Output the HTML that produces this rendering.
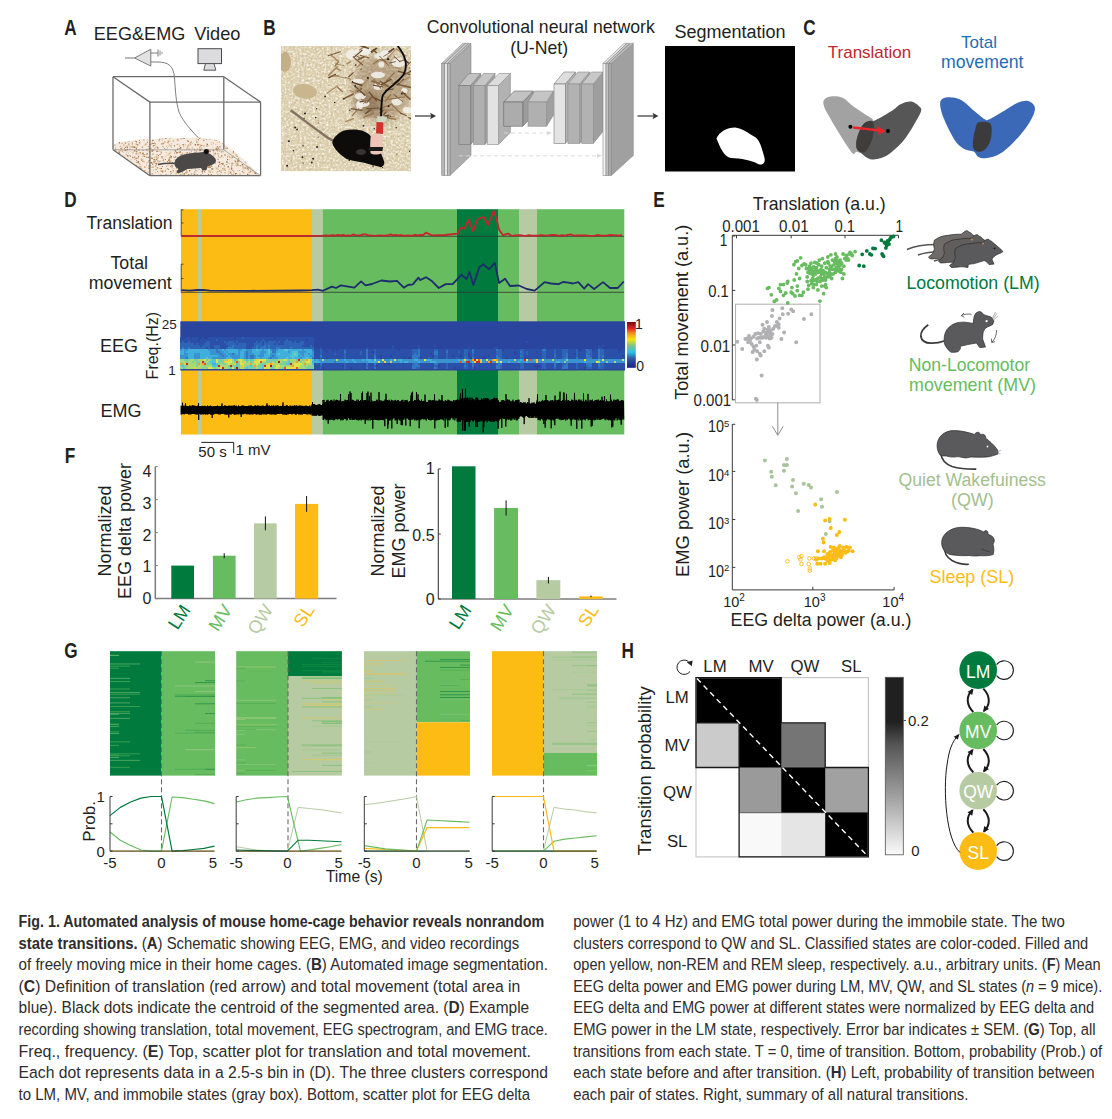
<!DOCTYPE html>
<html><head><meta charset="utf-8"><title>Fig. 1</title>
<style>
html,body{margin:0;padding:0;background:#fff;}
svg{display:block;font-family:'Liberation Sans', Arial, Helvetica, sans-serif;}
</style></head>
<body>
<svg width="1112" height="1119" viewBox="0 0 1112 1119">
<rect width="1112" height="1119" fill="#fff"/>
<text x="64.2" y="35.5" font-size="21.5" font-weight="bold" fill="#231f20" transform="translate(64.2 35.5) scale(0.8 1) translate(-64.2 -35.5)">A</text>
<text x="93.8" y="39.7" font-size="18.1" text-anchor="start" fill="#231f20" >EEG&amp;EMG</text>
<text x="194.2" y="39.7" font-size="18.2" text-anchor="start" fill="#231f20" >Video</text>
<line x1="125.0" y1="58.0" x2="134.6" y2="58.0" stroke="#777" stroke-width="1" />
<polygon points="134.6,58.0 150.8,49.2 150.8,66.1" fill="#e2e2e2" stroke="#7a7a7a" stroke-width="1"/>
<line x1="150.8" y1="53.0" x2="158.0" y2="53.0" stroke="#7a7a7a" stroke-width="1" />
<line x1="158.0" y1="49.5" x2="158.0" y2="56.5" stroke="#7a7a7a" stroke-width="1" />
<line x1="160.0" y1="50.5" x2="160.0" y2="55.5" stroke="#7a7a7a" stroke-width="0.9" />
<line x1="162.0" y1="51.8" x2="162.0" y2="54.2" stroke="#7a7a7a" stroke-width="0.8" />
<path d="M150.8,62 L157,62 C169,62 173.5,66 174.5,78 C175.5,92 176,102 179,112 C184,124 195,134 206,146" fill="none" stroke="#707070" stroke-width="0.9" />
<rect x="198.00" y="48.70" width="23.50" height="14.90" fill="#dcdcde" stroke="#4a4a4a" stroke-width="1"/>
<polygon points="205.5,63.6 214.0,63.6 215.8,70.2 203.8,70.2" fill="#dcdcde" stroke="#4a4a4a" stroke-width="0.9"/>
<clipPath id="bedclip"><path d="M113,145 C118,141.5 124,140.5 130,141.5 C138,139 146,138.5 153,139.8 C162,137.5 172,137 181,138.5 C192,136.8 204,137.5 214,139.5 C219,140.5 222,142 224,144 L236,153 L260.6,175.7 L149.9,175.7 L113,149.8 Z"/></clipPath>
<path d="M113,145 C118,141.5 124,140.5 130,141.5 C138,139 146,138.5 153,139.8 C162,137.5 172,137 181,138.5 C192,136.8 204,137.5 214,139.5 C219,140.5 222,142 224,144 L236,153 L260.6,175.7 L149.9,175.7 L113,149.8 Z" fill="#f4eadf" stroke="none" stroke-width="1" />
<g clip-path="url(#bedclip)">
<path fill="#b98a58" d="M191.2,153.8h1.1v1.1h-1.1zM174.2,156.7h1.4v1.4h-1.4zM171.3,143.4h0.9v0.9h-0.9zM167.0,161.1h0.9v0.9h-0.9zM129.4,170.9h1.4v1.4h-1.4zM220.9,155.3h1.4v1.4h-1.4zM255.3,155.3h1.1v1.1h-1.1zM250.0,170.8h1.4v1.4h-1.4zM126.6,146.8h1.4v1.4h-1.4zM123.6,173.1h1.4v1.4h-1.4zM240.1,142.2h0.9v0.9h-0.9zM233.4,141.5h0.9v0.9h-0.9zM256.3,166.2h0.9v0.9h-0.9zM190.7,164.8h1.1v1.1h-1.1zM207.6,145.4h0.9v0.9h-0.9zM150.4,148.3h1.1v1.1h-1.1zM171.3,137.1h0.9v0.9h-0.9zM178.7,152.0h1.1v1.1h-1.1zM248.8,158.8h1.1v1.1h-1.1zM240.1,148.1h1.1v1.1h-1.1zM151.8,137.2h0.9v0.9h-0.9zM229.7,172.0h1.4v1.4h-1.4zM164.9,174.5h1.4v1.4h-1.4zM194.4,165.5h1.1v1.1h-1.1zM155.5,162.7h1.1v1.1h-1.1zM207.6,166.4h1.4v1.4h-1.4zM219.0,170.2h1.4v1.4h-1.4zM194.3,152.0h1.4v1.4h-1.4zM182.7,144.0h1.4v1.4h-1.4zM117.6,157.9h1.1v1.1h-1.1zM168.9,156.8h0.9v0.9h-0.9zM227.4,140.3h1.4v1.4h-1.4zM167.3,141.5h1.4v1.4h-1.4zM210.7,164.6h1.1v1.1h-1.1zM244.1,144.9h1.4v1.4h-1.4zM162.5,142.8h1.4v1.4h-1.4zM248.1,157.9h1.4v1.4h-1.4zM228.8,155.7h0.9v0.9h-0.9zM135.9,150.8h1.4v1.4h-1.4zM168.9,160.7h1.1v1.1h-1.1zM224.5,172.2h1.1v1.1h-1.1zM200.1,136.5h1.1v1.1h-1.1zM243.6,155.2h0.9v0.9h-0.9zM129.1,165.9h1.4v1.4h-1.4zM161.9,165.9h1.1v1.1h-1.1zM136.0,160.0h0.9v0.9h-0.9zM251.3,142.8h1.1v1.1h-1.1zM186.5,151.9h1.4v1.4h-1.4zM258.5,151.9h0.9v0.9h-0.9zM228.8,143.8h1.1v1.1h-1.1zM251.6,140.6h0.9v0.9h-0.9zM215.8,149.5h1.1v1.1h-1.1zM171.6,166.6h1.1v1.1h-1.1zM162.7,160.1h1.1v1.1h-1.1zM114.8,149.0h1.4v1.4h-1.4zM170.5,151.7h0.9v0.9h-0.9zM224.3,154.3h1.4v1.4h-1.4zM158.9,138.3h1.4v1.4h-1.4zM239.2,170.2h0.9v0.9h-0.9zM151.5,157.7h1.4v1.4h-1.4zM204.1,171.3h1.1v1.1h-1.1zM258.6,147.5h0.9v0.9h-0.9zM135.4,158.1h1.1v1.1h-1.1zM198.4,144.0h0.9v0.9h-0.9zM183.5,161.2h1.4v1.4h-1.4zM120.8,148.2h1.4v1.4h-1.4zM200.4,174.7h1.4v1.4h-1.4zM258.4,160.6h1.1v1.1h-1.1zM189.7,153.4h1.4v1.4h-1.4zM234.9,161.1h1.4v1.4h-1.4zM165.1,170.4h0.9v0.9h-0.9zM188.0,140.8h1.1v1.1h-1.1zM198.7,169.0h1.1v1.1h-1.1zM216.3,148.3h1.4v1.4h-1.4zM221.0,163.1h0.9v0.9h-0.9zM237.4,162.2h1.1v1.1h-1.1zM185.5,157.1h0.9v0.9h-0.9zM127.2,155.1h1.4v1.4h-1.4zM236.5,155.9h1.1v1.1h-1.1zM189.1,161.8h0.9v0.9h-0.9zM141.0,168.3h1.1v1.1h-1.1zM259.5,136.9h0.9v0.9h-0.9zM130.6,146.3h1.1v1.1h-1.1zM117.9,161.5h1.4v1.4h-1.4zM218.0,165.4h1.1v1.1h-1.1zM169.1,162.1h1.1v1.1h-1.1zM223.4,141.5h1.1v1.1h-1.1zM169.3,162.4h1.4v1.4h-1.4zM137.0,144.0h1.4v1.4h-1.4zM125.7,160.2h1.4v1.4h-1.4zM229.2,139.7h1.1v1.1h-1.1zM261.0,151.0h1.1v1.1h-1.1zM209.3,138.3h1.1v1.1h-1.1zM187.0,145.9h0.9v0.9h-0.9zM192.1,136.4h0.9v0.9h-0.9zM179.9,174.2h1.4v1.4h-1.4zM139.0,140.1h0.9v0.9h-0.9zM231.1,168.7h1.1v1.1h-1.1zM162.3,156.2h0.9v0.9h-0.9zM171.0,163.1h0.9v0.9h-0.9zM150.3,144.0h1.1v1.1h-1.1zM223.6,139.0h1.4v1.4h-1.4zM194.5,156.1h1.4v1.4h-1.4zM133.2,170.9h1.1v1.1h-1.1zM146.2,154.2h0.9v0.9h-0.9zM163.6,175.9h0.9v0.9h-0.9zM246.0,154.0h1.1v1.1h-1.1zM223.1,139.0h1.4v1.4h-1.4zM148.1,161.5h0.9v0.9h-0.9zM256.0,162.4h1.4v1.4h-1.4zM203.8,152.9h1.4v1.4h-1.4zM119.6,138.7h0.9v0.9h-0.9zM115.1,162.1h0.9v0.9h-0.9zM257.7,163.8h1.4v1.4h-1.4zM190.8,164.8h1.1v1.1h-1.1zM153.3,149.8h0.9v0.9h-0.9zM126.4,164.2h1.4v1.4h-1.4zM247.6,169.1h1.1v1.1h-1.1zM115.0,170.6h0.9v0.9h-0.9zM234.8,148.3h0.9v0.9h-0.9zM174.5,150.0h1.1v1.1h-1.1zM253.5,150.9h1.1v1.1h-1.1zM214.5,162.8h1.1v1.1h-1.1zM162.4,146.1h1.1v1.1h-1.1zM180.4,137.8h1.4v1.4h-1.4zM212.8,142.6h0.9v0.9h-0.9zM248.7,172.1h0.9v0.9h-0.9zM237.6,139.1h1.4v1.4h-1.4zM247.5,149.0h1.4v1.4h-1.4zM141.7,146.4h1.4v1.4h-1.4zM140.1,166.2h1.4v1.4h-1.4zM260.6,153.8h1.4v1.4h-1.4zM216.0,139.4h1.1v1.1h-1.1zM127.0,139.6h1.4v1.4h-1.4zM187.9,173.9h1.4v1.4h-1.4zM219.3,163.7h1.1v1.1h-1.1zM132.4,168.5h1.1v1.1h-1.1zM208.5,166.8h1.1v1.1h-1.1zM247.9,151.1h0.9v0.9h-0.9zM115.0,147.6h0.9v0.9h-0.9zM171.7,165.2h1.1v1.1h-1.1zM116.4,168.2h1.4v1.4h-1.4zM126.6,145.6h0.9v0.9h-0.9zM200.4,159.3h1.1v1.1h-1.1zM226.4,147.5h1.4v1.4h-1.4zM206.7,162.6h0.9v0.9h-0.9zM133.5,175.6h1.4v1.4h-1.4zM209.2,166.0h1.1v1.1h-1.1zM165.9,175.8h1.4v1.4h-1.4zM133.7,146.8h1.1v1.1h-1.1zM189.3,152.3h0.9v0.9h-0.9zM249.7,153.7h0.9v0.9h-0.9zM151.5,142.7h1.4v1.4h-1.4zM190.1,144.6h0.9v0.9h-0.9zM120.9,157.0h1.1v1.1h-1.1zM191.3,168.2h1.1v1.1h-1.1zM149.7,173.7h0.9v0.9h-0.9zM245.1,150.7h1.4v1.4h-1.4zM168.9,144.5h0.9v0.9h-0.9zM152.6,153.5h1.1v1.1h-1.1zM239.5,138.7h1.4v1.4h-1.4zM198.9,137.7h1.4v1.4h-1.4zM196.6,163.2h1.1v1.1h-1.1zM169.9,155.2h0.9v0.9h-0.9zM160.8,170.6h1.1v1.1h-1.1zM160.6,175.9h1.1v1.1h-1.1zM223.5,167.8h0.9v0.9h-0.9zM139.0,162.9h0.9v0.9h-0.9zM123.9,148.2h1.1v1.1h-1.1zM253.2,152.2h0.9v0.9h-0.9zM190.7,160.1h1.4v1.4h-1.4zM136.1,148.9h0.9v0.9h-0.9zM130.1,173.7h1.4v1.4h-1.4zM196.9,160.6h0.9v0.9h-0.9zM114.8,170.0h1.4v1.4h-1.4zM158.0,155.1h1.1v1.1h-1.1zM239.8,165.1h1.1v1.1h-1.1zM240.1,175.4h1.1v1.1h-1.1zM252.3,169.9h1.4v1.4h-1.4zM231.1,141.6h1.1v1.1h-1.1zM136.3,162.1h0.9v0.9h-0.9zM214.7,152.8h1.4v1.4h-1.4zM260.9,158.0h0.9v0.9h-0.9zM161.1,143.2h1.4v1.4h-1.4zM187.6,164.6h0.9v0.9h-0.9zM131.8,143.3h1.1v1.1h-1.1zM220.8,151.3h1.1v1.1h-1.1zM149.9,174.5h1.4v1.4h-1.4zM210.6,174.1h1.4v1.4h-1.4zM171.6,162.9h1.1v1.1h-1.1zM154.4,160.6h1.4v1.4h-1.4zM235.0,142.7h1.1v1.1h-1.1zM139.8,171.3h1.1v1.1h-1.1zM242.3,146.2h0.9v0.9h-0.9zM234.3,137.5h1.1v1.1h-1.1zM129.4,148.6h1.1v1.1h-1.1zM208.4,149.9h1.1v1.1h-1.1zM221.8,163.3h0.9v0.9h-0.9zM204.4,169.2h1.4v1.4h-1.4zM193.9,173.6h1.4v1.4h-1.4zM132.1,156.8h1.4v1.4h-1.4zM144.1,166.4h1.1v1.1h-1.1zM147.7,171.8h0.9v0.9h-0.9zM145.3,143.4h1.4v1.4h-1.4zM181.9,137.5h0.9v0.9h-0.9zM194.5,164.0h0.9v0.9h-0.9zM206.0,139.2h0.9v0.9h-0.9zM142.4,155.9h0.9v0.9h-0.9zM176.7,144.1h0.9v0.9h-0.9zM118.7,160.6h0.9v0.9h-0.9zM186.9,140.3h1.1v1.1h-1.1zM163.2,158.9h0.9v0.9h-0.9zM183.5,160.4h1.4v1.4h-1.4zM118.3,164.3h1.4v1.4h-1.4zM191.6,147.5h1.1v1.1h-1.1zM158.6,140.2h1.1v1.1h-1.1zM211.5,161.6h0.9v0.9h-0.9zM252.2,149.3h1.1v1.1h-1.1zM155.4,146.9h0.9v0.9h-0.9zM188.5,148.5h0.9v0.9h-0.9zM121.6,143.0h0.9v0.9h-0.9zM157.5,160.1h0.9v0.9h-0.9zM180.5,156.0h1.4v1.4h-1.4zM156.8,167.2h1.4v1.4h-1.4zM182.9,165.9h1.4v1.4h-1.4zM138.9,142.1h1.4v1.4h-1.4zM120.5,158.4h1.4v1.4h-1.4zM194.1,148.8h0.9v0.9h-0.9zM224.4,175.9h1.1v1.1h-1.1zM118.1,172.3h0.9v0.9h-0.9zM195.5,159.5h1.4v1.4h-1.4zM218.0,147.8h1.1v1.1h-1.1zM120.3,148.0h1.1v1.1h-1.1zM186.1,170.3h1.1v1.1h-1.1zM173.0,156.4h0.9v0.9h-0.9zM154.0,142.4h0.9v0.9h-0.9zM215.5,147.8h1.4v1.4h-1.4zM164.2,148.1h0.9v0.9h-0.9zM259.2,172.1h0.9v0.9h-0.9zM124.8,142.4h1.4v1.4h-1.4zM230.6,172.8h0.9v0.9h-0.9zM170.2,156.8h1.4v1.4h-1.4zM189.3,157.8h0.9v0.9h-0.9zM134.0,164.5h1.4v1.4h-1.4zM200.0,164.7h1.1v1.1h-1.1zM236.0,173.0h0.9v0.9h-0.9zM132.0,146.0h1.4v1.4h-1.4zM135.9,157.7h1.4v1.4h-1.4zM188.3,144.5h0.9v0.9h-0.9zM209.4,149.4h0.9v0.9h-0.9zM164.7,170.3h1.1v1.1h-1.1zM151.8,162.7h1.1v1.1h-1.1zM234.5,160.3h1.1v1.1h-1.1zM195.5,157.2h1.4v1.4h-1.4zM203.4,167.4h1.4v1.4h-1.4zM222.5,151.2h1.1v1.1h-1.1zM202.2,171.6h0.9v0.9h-0.9zM144.5,172.5h0.9v0.9h-0.9zM157.0,171.1h0.9v0.9h-0.9zM134.4,175.5h1.1v1.1h-1.1zM127.8,169.0h1.1v1.1h-1.1zM118.1,172.5h1.4v1.4h-1.4zM185.6,168.1h0.9v0.9h-0.9zM217.1,150.4h1.1v1.1h-1.1zM216.3,172.4h0.9v0.9h-0.9zM215.8,168.3h0.9v0.9h-0.9z"/>
<path fill="#d2aa7a" d="M209.5,171.6h1.4v1.4h-1.4zM250.3,158.2h0.9v0.9h-0.9zM121.5,147.0h0.9v0.9h-0.9zM206.9,164.9h1.1v1.1h-1.1zM160.0,174.3h0.9v0.9h-0.9zM253.9,172.3h1.4v1.4h-1.4zM205.5,164.8h1.1v1.1h-1.1zM130.4,170.5h1.4v1.4h-1.4zM200.0,144.4h1.4v1.4h-1.4zM241.4,157.1h1.1v1.1h-1.1zM127.8,152.6h0.9v0.9h-0.9zM148.6,151.2h1.4v1.4h-1.4zM226.7,142.3h0.9v0.9h-0.9zM247.9,169.4h0.9v0.9h-0.9zM144.2,170.1h1.4v1.4h-1.4zM242.6,168.2h1.1v1.1h-1.1zM179.7,168.9h1.1v1.1h-1.1zM218.8,141.3h1.1v1.1h-1.1zM221.3,170.2h0.9v0.9h-0.9zM137.4,157.3h1.4v1.4h-1.4zM123.1,137.1h0.9v0.9h-0.9zM243.1,171.9h1.4v1.4h-1.4zM222.4,156.7h0.9v0.9h-0.9zM249.6,167.6h0.9v0.9h-0.9zM158.6,150.8h0.9v0.9h-0.9zM231.1,173.8h1.4v1.4h-1.4zM214.4,139.3h1.4v1.4h-1.4zM225.3,147.8h0.9v0.9h-0.9zM232.7,152.1h1.4v1.4h-1.4zM213.0,175.1h1.1v1.1h-1.1zM123.2,144.2h1.1v1.1h-1.1zM153.3,158.4h1.1v1.1h-1.1zM176.7,175.7h0.9v0.9h-0.9zM259.5,167.2h1.1v1.1h-1.1zM229.1,159.4h0.9v0.9h-0.9zM181.4,159.2h1.1v1.1h-1.1zM132.2,152.5h1.1v1.1h-1.1zM250.7,143.7h1.1v1.1h-1.1zM225.5,139.2h0.9v0.9h-0.9zM244.0,158.4h1.4v1.4h-1.4zM235.4,150.8h1.4v1.4h-1.4zM138.3,173.2h1.4v1.4h-1.4zM119.3,170.3h1.1v1.1h-1.1zM181.9,154.0h1.1v1.1h-1.1zM155.3,163.1h0.9v0.9h-0.9zM115.9,172.1h1.1v1.1h-1.1zM146.2,172.4h0.9v0.9h-0.9zM181.6,153.4h1.1v1.1h-1.1zM250.5,151.7h1.4v1.4h-1.4zM240.2,152.0h1.4v1.4h-1.4zM169.0,152.8h1.4v1.4h-1.4zM243.6,140.1h1.1v1.1h-1.1zM192.3,157.5h0.9v0.9h-0.9zM156.5,156.0h0.9v0.9h-0.9zM122.8,152.2h0.9v0.9h-0.9zM254.4,149.5h0.9v0.9h-0.9zM175.9,159.0h1.4v1.4h-1.4zM235.3,154.2h1.4v1.4h-1.4zM124.5,139.6h0.9v0.9h-0.9zM222.2,143.2h1.1v1.1h-1.1zM151.4,166.7h1.4v1.4h-1.4zM145.5,156.3h1.1v1.1h-1.1zM151.5,173.0h1.4v1.4h-1.4zM205.9,163.7h1.1v1.1h-1.1zM133.0,137.4h1.4v1.4h-1.4zM136.5,146.3h0.9v0.9h-0.9zM257.7,137.0h0.9v0.9h-0.9zM144.4,144.4h1.1v1.1h-1.1zM116.7,173.1h1.1v1.1h-1.1zM217.3,173.9h1.1v1.1h-1.1zM116.5,142.1h0.9v0.9h-0.9zM217.5,161.6h0.9v0.9h-0.9zM122.9,144.4h1.1v1.1h-1.1zM182.2,171.7h0.9v0.9h-0.9zM115.3,174.3h0.9v0.9h-0.9zM217.1,170.9h1.4v1.4h-1.4zM196.0,155.7h1.1v1.1h-1.1zM143.5,161.1h1.1v1.1h-1.1zM177.2,143.8h1.1v1.1h-1.1zM146.1,148.8h1.4v1.4h-1.4zM160.3,136.2h1.4v1.4h-1.4zM137.1,144.8h0.9v0.9h-0.9zM247.9,150.5h0.9v0.9h-0.9zM250.7,139.8h1.1v1.1h-1.1zM130.6,167.5h1.1v1.1h-1.1zM257.7,160.3h1.4v1.4h-1.4zM166.1,165.8h1.1v1.1h-1.1zM131.4,163.4h1.4v1.4h-1.4zM252.5,141.8h0.9v0.9h-0.9zM232.3,164.7h0.9v0.9h-0.9zM162.1,171.9h1.1v1.1h-1.1zM141.5,136.9h1.4v1.4h-1.4zM206.7,136.4h1.4v1.4h-1.4zM119.5,150.4h0.9v0.9h-0.9zM139.2,175.7h1.4v1.4h-1.4zM139.6,170.7h1.1v1.1h-1.1zM161.2,174.9h1.1v1.1h-1.1zM205.8,161.2h1.4v1.4h-1.4zM180.5,167.1h0.9v0.9h-0.9zM134.4,146.7h1.4v1.4h-1.4zM142.2,152.6h1.4v1.4h-1.4zM154.2,156.4h1.4v1.4h-1.4zM177.0,170.1h1.1v1.1h-1.1zM186.9,172.0h0.9v0.9h-0.9zM136.9,174.6h1.1v1.1h-1.1zM170.3,144.9h0.9v0.9h-0.9zM182.2,151.9h0.9v0.9h-0.9zM140.1,136.9h0.9v0.9h-0.9zM228.5,169.3h0.9v0.9h-0.9zM217.4,169.0h1.1v1.1h-1.1zM213.4,153.8h1.1v1.1h-1.1zM194.4,163.9h1.1v1.1h-1.1zM126.8,146.0h1.1v1.1h-1.1zM238.6,148.0h0.9v0.9h-0.9zM210.0,171.3h0.9v0.9h-0.9zM115.6,173.0h1.1v1.1h-1.1zM117.0,164.1h1.4v1.4h-1.4zM203.5,167.4h0.9v0.9h-0.9zM234.7,144.9h0.9v0.9h-0.9zM143.1,153.8h1.1v1.1h-1.1zM146.1,164.4h1.1v1.1h-1.1zM185.7,152.6h1.1v1.1h-1.1zM182.8,168.9h0.9v0.9h-0.9zM197.0,148.3h1.1v1.1h-1.1zM161.7,139.5h0.9v0.9h-0.9zM238.2,159.8h0.9v0.9h-0.9zM156.5,146.6h1.4v1.4h-1.4zM143.2,139.2h1.4v1.4h-1.4zM249.5,170.5h0.9v0.9h-0.9zM199.3,136.3h1.1v1.1h-1.1zM233.3,162.9h0.9v0.9h-0.9zM157.9,156.8h0.9v0.9h-0.9zM219.4,163.7h1.1v1.1h-1.1zM232.7,137.5h1.1v1.1h-1.1zM192.7,173.4h1.1v1.1h-1.1zM131.1,175.0h0.9v0.9h-0.9zM202.6,160.7h0.9v0.9h-0.9zM230.9,167.1h0.9v0.9h-0.9zM243.8,150.8h1.4v1.4h-1.4zM230.4,153.4h0.9v0.9h-0.9zM189.8,142.1h1.4v1.4h-1.4zM124.6,174.9h1.4v1.4h-1.4zM144.3,166.4h1.4v1.4h-1.4zM227.6,143.2h0.9v0.9h-0.9zM237.6,144.9h1.4v1.4h-1.4zM185.4,172.8h1.1v1.1h-1.1zM256.0,161.9h0.9v0.9h-0.9zM211.7,157.3h1.4v1.4h-1.4zM204.3,160.1h1.4v1.4h-1.4zM242.8,159.1h0.9v0.9h-0.9zM171.1,172.8h1.1v1.1h-1.1zM164.1,141.3h1.4v1.4h-1.4zM203.9,152.6h1.4v1.4h-1.4zM165.6,155.5h0.9v0.9h-0.9zM131.8,165.5h1.1v1.1h-1.1zM148.4,160.3h1.1v1.1h-1.1zM176.6,138.8h0.9v0.9h-0.9zM257.0,141.0h1.4v1.4h-1.4zM236.4,154.4h1.1v1.1h-1.1zM236.3,164.9h1.4v1.4h-1.4zM259.0,167.8h0.9v0.9h-0.9zM138.0,167.1h1.1v1.1h-1.1zM238.2,157.6h1.1v1.1h-1.1zM227.9,173.5h1.1v1.1h-1.1zM117.4,170.5h1.1v1.1h-1.1zM114.6,144.8h1.1v1.1h-1.1zM154.2,148.1h0.9v0.9h-0.9zM255.3,160.8h1.1v1.1h-1.1zM200.3,174.3h1.1v1.1h-1.1zM224.0,168.6h1.4v1.4h-1.4zM190.8,155.9h0.9v0.9h-0.9zM225.8,163.9h1.1v1.1h-1.1zM188.6,148.9h1.4v1.4h-1.4zM185.5,162.2h1.1v1.1h-1.1zM253.0,160.9h0.9v0.9h-0.9zM234.7,145.1h1.4v1.4h-1.4zM160.4,150.7h1.1v1.1h-1.1zM167.4,154.3h0.9v0.9h-0.9zM118.3,166.7h0.9v0.9h-0.9zM167.5,164.6h0.9v0.9h-0.9zM222.0,168.1h1.4v1.4h-1.4zM217.2,153.1h1.4v1.4h-1.4zM236.8,146.3h1.4v1.4h-1.4zM194.9,168.5h0.9v0.9h-0.9zM217.4,158.7h1.4v1.4h-1.4zM199.2,136.7h1.4v1.4h-1.4zM207.3,150.3h1.1v1.1h-1.1zM153.7,144.8h1.4v1.4h-1.4zM149.1,166.2h1.4v1.4h-1.4zM257.2,149.1h0.9v0.9h-0.9zM119.7,145.7h1.4v1.4h-1.4zM234.6,136.4h1.1v1.1h-1.1zM255.5,143.0h0.9v0.9h-0.9zM224.8,170.0h1.1v1.1h-1.1zM201.6,144.9h1.1v1.1h-1.1zM174.6,159.1h0.9v0.9h-0.9zM152.3,139.4h0.9v0.9h-0.9zM126.3,151.6h0.9v0.9h-0.9zM219.1,150.7h1.1v1.1h-1.1zM255.6,148.2h1.1v1.1h-1.1zM220.4,166.8h0.9v0.9h-0.9zM155.5,159.1h1.1v1.1h-1.1zM131.8,142.2h1.1v1.1h-1.1zM169.8,160.5h1.4v1.4h-1.4zM178.4,173.3h0.9v0.9h-0.9zM194.8,168.7h1.1v1.1h-1.1zM199.0,147.0h1.4v1.4h-1.4zM210.9,136.3h1.4v1.4h-1.4zM154.8,172.0h0.9v0.9h-0.9zM190.5,156.9h1.1v1.1h-1.1zM195.7,139.5h1.1v1.1h-1.1zM175.0,155.8h1.4v1.4h-1.4zM182.3,166.2h0.9v0.9h-0.9zM153.4,162.1h1.4v1.4h-1.4zM237.7,158.2h1.4v1.4h-1.4zM218.9,149.3h0.9v0.9h-0.9zM255.7,174.5h1.4v1.4h-1.4zM212.8,168.4h0.9v0.9h-0.9zM124.2,156.9h0.9v0.9h-0.9zM208.3,170.3h1.4v1.4h-1.4zM248.9,136.1h1.4v1.4h-1.4zM217.8,174.9h1.1v1.1h-1.1zM139.1,163.7h1.4v1.4h-1.4zM143.6,154.0h1.4v1.4h-1.4zM128.5,164.9h0.9v0.9h-0.9zM256.1,146.0h1.4v1.4h-1.4zM126.3,159.0h1.4v1.4h-1.4zM134.5,159.1h0.9v0.9h-0.9zM135.7,143.6h1.4v1.4h-1.4zM151.3,150.1h1.1v1.1h-1.1zM197.2,170.4h0.9v0.9h-0.9zM241.0,138.8h1.1v1.1h-1.1zM136.1,153.5h0.9v0.9h-0.9zM142.9,154.0h1.4v1.4h-1.4zM149.0,136.0h1.1v1.1h-1.1zM251.4,157.1h1.4v1.4h-1.4zM172.8,140.4h1.4v1.4h-1.4zM209.3,152.6h0.9v0.9h-0.9zM165.8,152.2h1.1v1.1h-1.1zM130.2,170.2h1.4v1.4h-1.4zM181.6,174.1h1.1v1.1h-1.1zM131.8,167.9h1.1v1.1h-1.1zM182.1,144.2h0.9v0.9h-0.9zM168.8,159.1h1.1v1.1h-1.1zM238.8,139.9h1.4v1.4h-1.4zM140.6,158.4h1.4v1.4h-1.4zM260.2,155.2h0.9v0.9h-0.9zM233.0,155.6h0.9v0.9h-0.9zM226.7,163.8h0.9v0.9h-0.9zM170.3,145.2h1.4v1.4h-1.4zM159.7,163.7h1.4v1.4h-1.4zM171.0,146.9h0.9v0.9h-0.9zM156.1,156.9h1.4v1.4h-1.4zM208.7,162.3h0.9v0.9h-0.9zM223.3,145.3h1.4v1.4h-1.4zM237.8,164.6h1.4v1.4h-1.4zM121.8,150.5h1.4v1.4h-1.4zM239.4,174.1h1.1v1.1h-1.1zM216.0,138.1h0.9v0.9h-0.9z"/>
<path fill="#a37446" d="M197.4,161.3h1.1v1.1h-1.1zM247.0,173.7h1.4v1.4h-1.4zM241.0,148.8h0.9v0.9h-0.9zM259.6,138.6h0.9v0.9h-0.9zM209.7,166.8h1.1v1.1h-1.1zM113.9,157.0h1.4v1.4h-1.4zM135.0,140.8h0.9v0.9h-0.9zM200.3,154.2h1.1v1.1h-1.1zM250.7,147.3h1.1v1.1h-1.1zM254.8,172.6h1.4v1.4h-1.4zM177.3,157.1h0.9v0.9h-0.9zM186.6,147.6h1.1v1.1h-1.1zM170.2,166.1h0.9v0.9h-0.9zM124.6,149.5h1.4v1.4h-1.4zM179.5,151.3h1.4v1.4h-1.4zM152.8,166.5h0.9v0.9h-0.9zM155.0,165.2h1.4v1.4h-1.4zM128.3,143.5h1.1v1.1h-1.1zM147.9,146.2h0.9v0.9h-0.9zM202.1,170.8h1.1v1.1h-1.1zM148.9,165.1h1.4v1.4h-1.4zM155.6,169.0h1.1v1.1h-1.1zM246.6,153.3h1.1v1.1h-1.1zM179.4,148.1h1.1v1.1h-1.1zM232.9,150.9h1.1v1.1h-1.1zM137.6,161.0h1.4v1.4h-1.4zM206.6,143.7h1.4v1.4h-1.4zM220.0,174.6h1.1v1.1h-1.1zM224.7,149.9h0.9v0.9h-0.9zM135.8,165.1h1.1v1.1h-1.1zM197.2,144.1h1.4v1.4h-1.4zM186.1,163.5h1.1v1.1h-1.1zM142.7,150.0h0.9v0.9h-0.9zM194.1,149.6h1.1v1.1h-1.1zM241.8,170.9h1.1v1.1h-1.1zM137.3,161.7h1.4v1.4h-1.4zM176.1,172.7h0.9v0.9h-0.9zM249.1,149.3h0.9v0.9h-0.9zM227.5,166.0h1.4v1.4h-1.4zM196.6,174.5h1.4v1.4h-1.4zM196.2,150.5h0.9v0.9h-0.9zM125.7,149.6h0.9v0.9h-0.9zM126.7,148.9h1.4v1.4h-1.4zM200.9,170.7h0.9v0.9h-0.9zM219.4,146.3h1.1v1.1h-1.1zM201.1,144.9h0.9v0.9h-0.9zM181.9,172.4h0.9v0.9h-0.9zM138.8,166.3h0.9v0.9h-0.9zM152.3,149.2h1.1v1.1h-1.1zM118.7,142.0h1.4v1.4h-1.4zM145.1,136.8h1.4v1.4h-1.4zM131.5,174.7h1.4v1.4h-1.4zM222.8,163.2h1.1v1.1h-1.1zM138.1,155.8h1.1v1.1h-1.1zM253.6,144.8h0.9v0.9h-0.9zM136.7,173.4h1.4v1.4h-1.4zM177.1,148.6h1.4v1.4h-1.4zM211.7,169.1h0.9v0.9h-0.9zM231.4,162.8h1.4v1.4h-1.4zM173.9,145.3h1.1v1.1h-1.1zM220.4,175.8h0.9v0.9h-0.9zM259.7,167.5h1.4v1.4h-1.4zM203.5,145.5h0.9v0.9h-0.9zM148.1,156.8h1.1v1.1h-1.1zM134.0,150.1h1.4v1.4h-1.4zM146.4,153.2h1.4v1.4h-1.4zM146.3,149.7h1.1v1.1h-1.1zM185.6,172.0h0.9v0.9h-0.9zM178.2,170.9h0.9v0.9h-0.9zM141.4,159.5h1.4v1.4h-1.4zM142.1,153.2h1.1v1.1h-1.1zM240.0,137.8h0.9v0.9h-0.9zM119.1,137.2h1.1v1.1h-1.1zM230.9,167.8h1.4v1.4h-1.4zM156.3,154.2h1.1v1.1h-1.1zM231.8,156.6h1.1v1.1h-1.1zM172.4,174.9h1.4v1.4h-1.4zM255.9,165.3h0.9v0.9h-0.9zM207.1,155.9h1.4v1.4h-1.4zM259.8,171.4h0.9v0.9h-0.9zM174.1,152.4h1.1v1.1h-1.1zM142.3,160.7h1.1v1.1h-1.1zM170.5,155.9h1.4v1.4h-1.4zM172.6,170.2h1.1v1.1h-1.1zM239.4,137.4h1.1v1.1h-1.1zM146.5,156.8h1.1v1.1h-1.1zM207.0,156.4h1.4v1.4h-1.4zM190.7,173.5h1.1v1.1h-1.1zM121.0,169.1h1.4v1.4h-1.4zM236.9,163.9h0.9v0.9h-0.9zM246.4,166.5h1.1v1.1h-1.1zM202.1,172.7h0.9v0.9h-0.9zM133.6,146.5h1.4v1.4h-1.4zM244.5,145.0h0.9v0.9h-0.9zM123.2,138.0h0.9v0.9h-0.9zM183.2,137.6h1.4v1.4h-1.4zM248.2,175.6h0.9v0.9h-0.9zM260.7,172.3h1.1v1.1h-1.1zM199.0,149.5h1.4v1.4h-1.4zM138.5,149.7h1.1v1.1h-1.1zM210.4,161.1h0.9v0.9h-0.9zM245.1,146.7h0.9v0.9h-0.9zM168.1,159.5h1.4v1.4h-1.4zM170.1,174.4h0.9v0.9h-0.9zM248.2,167.2h1.4v1.4h-1.4zM196.3,141.6h1.1v1.1h-1.1zM209.9,150.7h1.1v1.1h-1.1zM181.1,154.2h1.1v1.1h-1.1zM250.6,164.7h1.4v1.4h-1.4zM241.9,138.9h0.9v0.9h-0.9zM233.0,174.4h1.1v1.1h-1.1zM152.8,145.3h1.1v1.1h-1.1zM211.4,166.0h0.9v0.9h-0.9zM125.6,171.3h1.4v1.4h-1.4zM226.1,161.3h1.4v1.4h-1.4zM202.6,153.3h1.1v1.1h-1.1zM152.7,140.1h0.9v0.9h-0.9zM121.2,166.6h1.4v1.4h-1.4zM200.1,149.8h1.1v1.1h-1.1zM238.2,149.4h1.1v1.1h-1.1zM142.8,173.4h1.1v1.1h-1.1zM176.6,172.1h0.9v0.9h-0.9zM165.5,149.0h1.1v1.1h-1.1zM188.9,170.0h1.4v1.4h-1.4zM118.2,168.7h1.4v1.4h-1.4zM135.8,147.8h1.1v1.1h-1.1zM257.5,160.6h1.4v1.4h-1.4zM119.1,173.9h1.4v1.4h-1.4zM161.9,170.4h1.4v1.4h-1.4zM239.1,147.7h0.9v0.9h-0.9zM151.2,157.5h1.1v1.1h-1.1zM178.5,167.0h1.4v1.4h-1.4zM166.8,168.3h0.9v0.9h-0.9zM237.4,151.1h1.1v1.1h-1.1zM130.8,167.9h1.1v1.1h-1.1zM148.7,148.0h1.4v1.4h-1.4zM261.0,146.1h0.9v0.9h-0.9zM139.5,152.2h1.4v1.4h-1.4zM177.1,152.2h0.9v0.9h-0.9zM125.7,154.3h0.9v0.9h-0.9zM203.2,158.6h0.9v0.9h-0.9zM180.4,154.6h1.1v1.1h-1.1zM183.5,167.7h1.1v1.1h-1.1zM187.3,164.2h1.4v1.4h-1.4zM190.8,141.6h0.9v0.9h-0.9zM209.5,154.6h1.4v1.4h-1.4zM244.4,167.3h1.4v1.4h-1.4zM195.9,153.7h1.1v1.1h-1.1zM152.2,164.0h0.9v0.9h-0.9zM203.8,161.2h0.9v0.9h-0.9zM164.9,159.1h0.9v0.9h-0.9zM134.2,156.6h1.1v1.1h-1.1zM126.1,160.4h1.1v1.1h-1.1zM232.3,170.2h0.9v0.9h-0.9zM211.4,168.1h1.4v1.4h-1.4zM234.9,173.0h1.4v1.4h-1.4zM206.3,145.4h1.1v1.1h-1.1zM183.1,136.6h1.4v1.4h-1.4zM180.8,165.7h1.4v1.4h-1.4zM212.3,157.4h1.4v1.4h-1.4zM246.4,152.2h0.9v0.9h-0.9zM257.2,147.2h0.9v0.9h-0.9zM152.3,138.2h1.4v1.4h-1.4zM153.5,158.9h1.4v1.4h-1.4zM128.6,164.9h1.1v1.1h-1.1zM203.1,139.7h1.1v1.1h-1.1zM148.2,156.7h1.1v1.1h-1.1zM168.2,140.8h0.9v0.9h-0.9zM248.0,145.4h1.1v1.1h-1.1zM166.0,174.7h1.1v1.1h-1.1zM257.8,147.5h0.9v0.9h-0.9zM118.8,153.5h1.4v1.4h-1.4zM194.7,144.1h1.4v1.4h-1.4zM228.5,162.7h0.9v0.9h-0.9zM218.1,155.6h0.9v0.9h-0.9zM249.0,136.8h0.9v0.9h-0.9zM237.0,160.4h1.4v1.4h-1.4zM237.7,159.8h0.9v0.9h-0.9zM170.3,170.9h1.1v1.1h-1.1zM127.2,171.8h0.9v0.9h-0.9zM148.7,149.3h0.9v0.9h-0.9zM150.6,162.0h1.4v1.4h-1.4zM127.2,155.6h0.9v0.9h-0.9zM157.0,147.2h1.4v1.4h-1.4zM159.6,154.1h0.9v0.9h-0.9zM218.0,165.6h1.1v1.1h-1.1zM159.6,136.0h0.9v0.9h-0.9zM187.6,145.4h0.9v0.9h-0.9zM199.9,160.8h1.1v1.1h-1.1zM165.2,138.0h1.1v1.1h-1.1zM156.4,150.7h1.4v1.4h-1.4zM260.6,146.9h1.1v1.1h-1.1zM244.9,161.1h1.4v1.4h-1.4zM171.4,165.1h0.9v0.9h-0.9zM258.1,175.1h0.9v0.9h-0.9zM113.2,168.9h1.4v1.4h-1.4zM143.8,155.9h1.1v1.1h-1.1zM168.1,168.8h0.9v0.9h-0.9zM246.6,167.3h1.4v1.4h-1.4zM208.7,151.1h0.9v0.9h-0.9zM152.7,174.8h0.9v0.9h-0.9zM160.9,167.9h1.1v1.1h-1.1zM220.6,171.7h1.1v1.1h-1.1zM166.9,147.4h0.9v0.9h-0.9zM159.6,167.9h0.9v0.9h-0.9zM151.6,150.4h1.4v1.4h-1.4zM122.8,139.1h0.9v0.9h-0.9zM154.6,143.0h0.9v0.9h-0.9zM223.7,165.3h1.1v1.1h-1.1zM249.8,153.8h1.4v1.4h-1.4zM148.4,167.6h1.4v1.4h-1.4zM168.9,158.3h0.9v0.9h-0.9zM223.4,139.1h1.1v1.1h-1.1zM227.0,159.1h1.1v1.1h-1.1zM176.1,167.4h1.1v1.1h-1.1zM153.2,161.2h0.9v0.9h-0.9zM136.6,174.9h0.9v0.9h-0.9zM200.0,148.9h1.4v1.4h-1.4zM194.3,171.5h0.9v0.9h-0.9zM216.8,146.2h1.4v1.4h-1.4zM195.4,170.2h1.1v1.1h-1.1zM156.7,158.3h0.9v0.9h-0.9zM254.0,144.3h0.9v0.9h-0.9zM155.8,163.1h1.4v1.4h-1.4zM176.2,152.1h1.4v1.4h-1.4zM114.6,168.3h0.9v0.9h-0.9zM135.7,153.1h1.1v1.1h-1.1zM133.4,165.2h1.1v1.1h-1.1zM160.7,152.3h1.1v1.1h-1.1zM118.4,151.6h1.4v1.4h-1.4zM231.1,165.5h1.1v1.1h-1.1zM148.7,160.0h1.1v1.1h-1.1zM142.6,152.7h1.1v1.1h-1.1zM190.9,151.4h0.9v0.9h-0.9zM177.4,139.6h1.1v1.1h-1.1zM212.7,149.8h1.4v1.4h-1.4zM200.7,166.2h0.9v0.9h-0.9zM241.7,164.1h1.4v1.4h-1.4zM146.9,141.7h1.1v1.1h-1.1zM152.9,175.1h1.4v1.4h-1.4zM257.2,153.2h0.9v0.9h-0.9zM260.1,161.4h1.4v1.4h-1.4zM202.8,175.3h1.4v1.4h-1.4zM161.1,156.4h1.4v1.4h-1.4zM201.4,148.3h0.9v0.9h-0.9zM248.7,153.1h1.4v1.4h-1.4zM158.5,161.3h0.9v0.9h-0.9zM258.3,158.3h1.1v1.1h-1.1zM202.7,169.2h0.9v0.9h-0.9zM120.1,160.6h1.4v1.4h-1.4zM221.9,163.3h1.4v1.4h-1.4zM136.0,141.3h1.1v1.1h-1.1zM200.2,155.2h1.4v1.4h-1.4zM202.7,163.8h0.9v0.9h-0.9zM217.2,149.4h0.9v0.9h-0.9zM137.3,168.1h1.1v1.1h-1.1zM253.5,157.2h1.4v1.4h-1.4zM174.9,150.4h1.4v1.4h-1.4zM207.7,149.4h1.1v1.1h-1.1zM259.6,163.4h1.1v1.1h-1.1zM183.6,173.3h1.4v1.4h-1.4zM238.5,160.3h1.1v1.1h-1.1zM122.8,169.6h1.1v1.1h-1.1zM121.6,138.4h0.9v0.9h-0.9zM188.4,156.1h1.4v1.4h-1.4zM152.0,140.3h0.9v0.9h-0.9zM129.8,155.6h1.1v1.1h-1.1zM124.8,146.8h1.1v1.1h-1.1zM128.4,140.3h1.4v1.4h-1.4zM139.5,167.8h1.1v1.1h-1.1zM252.0,164.2h0.9v0.9h-0.9zM172.0,162.1h1.4v1.4h-1.4zM121.0,137.8h1.4v1.4h-1.4zM242.5,166.4h1.1v1.1h-1.1zM159.6,160.8h0.9v0.9h-0.9zM187.1,156.0h1.1v1.1h-1.1zM227.0,156.5h1.1v1.1h-1.1zM198.5,155.4h1.4v1.4h-1.4zM145.1,174.3h1.1v1.1h-1.1zM218.7,161.6h1.4v1.4h-1.4zM233.0,138.3h0.9v0.9h-0.9zM169.8,137.6h0.9v0.9h-0.9zM197.8,139.3h1.1v1.1h-1.1zM148.4,165.5h1.1v1.1h-1.1zM237.9,140.8h0.9v0.9h-0.9zM156.2,159.2h0.9v0.9h-0.9zM257.8,162.8h0.9v0.9h-0.9zM244.4,136.7h1.1v1.1h-1.1zM131.4,169.2h0.9v0.9h-0.9zM179.5,157.9h0.9v0.9h-0.9zM236.5,163.0h0.9v0.9h-0.9zM154.6,175.0h1.4v1.4h-1.4zM253.5,142.4h1.1v1.1h-1.1zM152.8,142.9h1.1v1.1h-1.1zM207.9,173.9h1.1v1.1h-1.1zM199.7,145.4h1.1v1.1h-1.1zM180.0,147.1h1.4v1.4h-1.4zM113.5,143.5h1.1v1.1h-1.1zM141.3,175.1h0.9v0.9h-0.9z"/>
<path fill="#e0c4a0" d="M202.9,165.4h1.1v1.1h-1.1zM213.2,151.5h1.1v1.1h-1.1zM123.4,155.2h1.1v1.1h-1.1zM253.1,152.3h1.4v1.4h-1.4zM256.0,169.3h1.1v1.1h-1.1zM129.7,150.7h1.1v1.1h-1.1zM231.4,157.8h1.1v1.1h-1.1zM234.5,143.5h1.1v1.1h-1.1zM230.6,156.6h1.4v1.4h-1.4zM242.7,139.1h0.9v0.9h-0.9zM228.4,170.9h1.4v1.4h-1.4zM177.4,159.5h1.1v1.1h-1.1zM127.3,141.4h0.9v0.9h-0.9zM259.9,172.0h1.1v1.1h-1.1zM113.5,139.9h1.1v1.1h-1.1zM258.1,153.3h1.4v1.4h-1.4zM215.3,143.9h1.1v1.1h-1.1zM203.1,164.9h0.9v0.9h-0.9zM136.4,173.9h1.4v1.4h-1.4zM250.4,162.3h0.9v0.9h-0.9zM233.3,172.2h1.1v1.1h-1.1zM128.0,145.0h1.1v1.1h-1.1zM191.6,143.0h1.1v1.1h-1.1zM252.9,175.1h1.1v1.1h-1.1zM172.3,168.4h1.1v1.1h-1.1zM257.0,136.8h1.4v1.4h-1.4zM138.4,162.9h1.4v1.4h-1.4zM227.4,154.6h1.1v1.1h-1.1zM168.0,174.5h0.9v0.9h-0.9zM237.0,151.0h1.1v1.1h-1.1zM137.3,153.1h1.4v1.4h-1.4zM117.7,166.4h1.4v1.4h-1.4zM242.0,146.8h0.9v0.9h-0.9zM120.2,150.5h1.1v1.1h-1.1zM139.9,167.0h0.9v0.9h-0.9zM127.8,171.7h0.9v0.9h-0.9zM209.7,136.7h1.1v1.1h-1.1zM239.3,173.3h1.4v1.4h-1.4zM235.3,152.3h0.9v0.9h-0.9zM129.1,145.8h1.4v1.4h-1.4zM167.2,174.7h1.4v1.4h-1.4zM203.7,140.3h1.1v1.1h-1.1zM229.0,156.8h1.4v1.4h-1.4zM187.1,171.3h0.9v0.9h-0.9zM168.2,145.7h1.1v1.1h-1.1zM161.9,143.8h1.1v1.1h-1.1zM168.5,164.7h1.1v1.1h-1.1zM256.7,159.4h1.1v1.1h-1.1zM135.6,166.0h1.4v1.4h-1.4zM117.1,158.8h0.9v0.9h-0.9zM135.1,174.1h1.4v1.4h-1.4zM126.2,138.0h1.4v1.4h-1.4zM250.5,141.2h0.9v0.9h-0.9zM179.9,148.9h0.9v0.9h-0.9zM244.2,166.6h1.1v1.1h-1.1zM160.2,169.6h0.9v0.9h-0.9zM156.1,154.4h1.1v1.1h-1.1zM177.1,153.2h0.9v0.9h-0.9zM132.3,151.6h1.4v1.4h-1.4zM172.4,137.0h1.1v1.1h-1.1zM211.0,156.1h1.1v1.1h-1.1zM235.6,142.6h1.4v1.4h-1.4zM188.3,146.3h1.1v1.1h-1.1zM160.2,174.2h1.4v1.4h-1.4zM155.6,161.5h0.9v0.9h-0.9zM122.1,172.3h1.1v1.1h-1.1zM183.8,149.6h1.1v1.1h-1.1zM252.7,140.6h1.4v1.4h-1.4zM175.5,169.9h1.4v1.4h-1.4zM155.3,169.5h1.1v1.1h-1.1zM189.7,154.1h1.1v1.1h-1.1zM127.1,171.9h1.1v1.1h-1.1zM186.0,152.0h1.1v1.1h-1.1zM175.2,173.8h1.1v1.1h-1.1zM116.5,141.9h0.9v0.9h-0.9zM243.8,175.4h1.4v1.4h-1.4zM190.8,144.2h0.9v0.9h-0.9zM169.0,138.6h0.9v0.9h-0.9zM160.9,175.7h1.1v1.1h-1.1zM237.3,169.9h1.1v1.1h-1.1zM131.7,140.5h1.1v1.1h-1.1zM151.8,153.8h1.4v1.4h-1.4zM130.6,174.7h1.1v1.1h-1.1zM124.9,168.7h0.9v0.9h-0.9zM119.5,138.8h0.9v0.9h-0.9zM161.4,157.3h1.1v1.1h-1.1zM201.9,170.0h0.9v0.9h-0.9zM137.5,175.8h1.4v1.4h-1.4zM241.9,171.8h0.9v0.9h-0.9zM194.3,150.2h1.4v1.4h-1.4zM115.7,149.3h1.1v1.1h-1.1zM149.1,143.9h1.4v1.4h-1.4zM202.4,149.9h0.9v0.9h-0.9zM133.2,171.1h1.4v1.4h-1.4zM196.4,161.8h0.9v0.9h-0.9zM168.0,153.5h1.4v1.4h-1.4zM192.4,175.1h0.9v0.9h-0.9zM203.4,162.1h1.4v1.4h-1.4zM128.8,154.7h1.1v1.1h-1.1zM127.7,167.7h1.4v1.4h-1.4zM142.6,158.8h0.9v0.9h-0.9zM120.3,149.3h1.4v1.4h-1.4zM247.0,159.9h1.1v1.1h-1.1zM236.3,148.7h0.9v0.9h-0.9zM235.1,147.9h1.4v1.4h-1.4zM210.7,169.7h1.1v1.1h-1.1zM167.7,142.3h1.4v1.4h-1.4zM157.1,160.9h1.1v1.1h-1.1zM172.3,139.8h0.9v0.9h-0.9zM255.3,145.7h1.1v1.1h-1.1zM215.4,166.8h1.1v1.1h-1.1zM116.0,138.5h0.9v0.9h-0.9zM207.4,136.6h1.4v1.4h-1.4zM257.4,171.4h1.1v1.1h-1.1zM183.0,153.5h0.9v0.9h-0.9zM235.8,163.7h1.1v1.1h-1.1zM149.1,157.4h1.1v1.1h-1.1zM225.2,147.3h1.1v1.1h-1.1zM213.6,154.7h1.1v1.1h-1.1zM251.7,142.2h1.1v1.1h-1.1zM179.1,144.7h1.4v1.4h-1.4zM214.4,154.2h0.9v0.9h-0.9zM130.5,159.1h1.1v1.1h-1.1zM146.5,161.9h1.4v1.4h-1.4zM235.3,154.0h1.1v1.1h-1.1zM217.1,167.3h1.4v1.4h-1.4zM158.0,162.8h0.9v0.9h-0.9zM191.7,147.5h1.1v1.1h-1.1zM233.5,156.7h1.4v1.4h-1.4zM256.9,160.2h1.4v1.4h-1.4zM251.6,156.9h1.4v1.4h-1.4zM161.5,166.6h0.9v0.9h-0.9zM137.7,152.5h0.9v0.9h-0.9zM219.1,140.0h1.4v1.4h-1.4zM115.1,174.0h1.1v1.1h-1.1zM190.7,150.2h1.1v1.1h-1.1zM128.9,144.1h1.1v1.1h-1.1zM198.4,155.7h1.1v1.1h-1.1zM258.1,155.4h1.4v1.4h-1.4zM257.9,161.5h1.1v1.1h-1.1zM250.9,159.9h0.9v0.9h-0.9zM240.5,138.1h1.1v1.1h-1.1zM242.9,165.1h0.9v0.9h-0.9zM250.0,151.4h0.9v0.9h-0.9zM191.0,164.9h1.1v1.1h-1.1zM250.3,175.6h0.9v0.9h-0.9zM239.8,139.1h1.1v1.1h-1.1zM212.0,147.3h0.9v0.9h-0.9zM161.8,137.9h1.4v1.4h-1.4zM186.3,149.3h0.9v0.9h-0.9zM247.7,142.8h1.4v1.4h-1.4zM214.2,157.9h1.4v1.4h-1.4zM177.5,171.5h1.1v1.1h-1.1zM196.1,158.4h0.9v0.9h-0.9zM175.4,173.1h1.4v1.4h-1.4zM243.6,169.9h1.1v1.1h-1.1zM180.9,159.6h0.9v0.9h-0.9zM132.3,145.7h1.1v1.1h-1.1zM203.5,150.1h1.4v1.4h-1.4zM219.9,156.9h1.1v1.1h-1.1zM254.8,165.2h1.1v1.1h-1.1zM212.2,156.5h1.4v1.4h-1.4zM141.9,159.9h1.4v1.4h-1.4zM133.6,150.4h0.9v0.9h-0.9zM194.1,153.0h0.9v0.9h-0.9zM241.8,143.0h1.4v1.4h-1.4zM205.3,151.0h1.4v1.4h-1.4zM249.0,174.0h0.9v0.9h-0.9zM250.3,168.6h1.4v1.4h-1.4zM229.0,168.5h0.9v0.9h-0.9zM240.6,143.4h0.9v0.9h-0.9zM210.6,142.5h1.1v1.1h-1.1zM196.7,137.0h1.4v1.4h-1.4zM137.6,149.1h1.1v1.1h-1.1zM176.6,172.5h0.9v0.9h-0.9zM148.5,150.2h0.9v0.9h-0.9zM140.6,153.6h1.1v1.1h-1.1zM200.1,154.8h1.1v1.1h-1.1zM235.8,149.3h1.1v1.1h-1.1zM120.3,168.5h1.4v1.4h-1.4zM245.6,162.0h1.4v1.4h-1.4zM260.8,145.4h1.4v1.4h-1.4zM218.7,156.7h1.4v1.4h-1.4zM165.9,145.4h1.4v1.4h-1.4zM246.2,166.5h1.4v1.4h-1.4zM134.9,165.5h0.9v0.9h-0.9zM234.1,171.9h0.9v0.9h-0.9zM200.9,146.8h0.9v0.9h-0.9zM230.7,147.2h0.9v0.9h-0.9zM158.2,172.6h0.9v0.9h-0.9zM240.8,175.9h1.4v1.4h-1.4zM125.9,172.4h1.1v1.1h-1.1zM155.0,144.2h1.4v1.4h-1.4zM200.0,145.6h1.1v1.1h-1.1zM230.1,170.4h1.4v1.4h-1.4zM126.2,136.6h1.4v1.4h-1.4zM113.7,142.6h1.4v1.4h-1.4zM211.3,144.1h1.1v1.1h-1.1zM202.3,163.1h0.9v0.9h-0.9zM173.5,171.8h0.9v0.9h-0.9zM159.9,169.8h1.4v1.4h-1.4zM206.2,169.0h0.9v0.9h-0.9zM123.2,145.0h1.1v1.1h-1.1zM223.2,169.5h1.4v1.4h-1.4zM260.9,165.4h1.1v1.1h-1.1zM184.6,144.2h1.4v1.4h-1.4zM169.3,140.6h1.4v1.4h-1.4zM192.9,165.6h0.9v0.9h-0.9zM255.8,160.0h1.4v1.4h-1.4zM213.4,155.0h1.4v1.4h-1.4zM124.4,157.8h1.4v1.4h-1.4zM216.7,142.0h1.1v1.1h-1.1zM198.2,140.4h0.9v0.9h-0.9zM114.9,146.9h1.1v1.1h-1.1zM126.7,166.2h0.9v0.9h-0.9zM212.1,171.5h1.4v1.4h-1.4zM170.5,160.3h1.1v1.1h-1.1zM235.2,164.5h0.9v0.9h-0.9zM206.3,143.1h0.9v0.9h-0.9zM243.1,144.5h0.9v0.9h-0.9zM199.0,169.1h0.9v0.9h-0.9zM246.7,139.8h1.4v1.4h-1.4zM161.8,157.6h1.4v1.4h-1.4zM237.4,146.5h0.9v0.9h-0.9zM113.3,145.4h1.1v1.1h-1.1zM173.6,168.0h0.9v0.9h-0.9zM132.2,172.8h0.9v0.9h-0.9zM232.5,163.3h0.9v0.9h-0.9zM164.3,157.4h0.9v0.9h-0.9zM199.1,150.4h1.1v1.1h-1.1zM181.8,152.5h0.9v0.9h-0.9zM254.9,150.9h1.4v1.4h-1.4zM169.6,137.9h1.1v1.1h-1.1zM184.2,153.4h1.1v1.1h-1.1zM249.1,149.6h0.9v0.9h-0.9zM179.0,145.7h1.4v1.4h-1.4zM248.9,174.8h1.4v1.4h-1.4zM149.5,151.8h1.1v1.1h-1.1zM182.9,173.4h1.4v1.4h-1.4zM161.1,153.4h0.9v0.9h-0.9zM259.2,155.9h1.1v1.1h-1.1zM224.4,142.4h1.4v1.4h-1.4zM121.0,140.7h1.1v1.1h-1.1zM146.7,139.2h1.1v1.1h-1.1zM228.4,167.2h1.1v1.1h-1.1zM176.5,170.1h1.1v1.1h-1.1zM152.7,169.8h1.1v1.1h-1.1zM188.8,143.5h1.4v1.4h-1.4zM134.9,153.2h1.1v1.1h-1.1zM222.9,162.4h1.1v1.1h-1.1zM115.6,167.5h1.1v1.1h-1.1zM183.0,146.0h1.4v1.4h-1.4zM196.8,142.0h1.4v1.4h-1.4zM170.1,172.1h1.4v1.4h-1.4zM250.1,165.9h1.4v1.4h-1.4zM194.4,149.5h1.1v1.1h-1.1zM250.0,141.3h0.9v0.9h-0.9zM146.3,143.8h0.9v0.9h-0.9zM119.9,162.6h0.9v0.9h-0.9zM155.4,164.9h1.4v1.4h-1.4zM123.2,144.4h1.4v1.4h-1.4zM224.7,140.5h1.1v1.1h-1.1zM116.7,170.0h1.1v1.1h-1.1zM251.2,145.0h1.1v1.1h-1.1zM233.0,170.5h1.4v1.4h-1.4zM145.1,154.0h1.1v1.1h-1.1zM249.0,144.3h1.4v1.4h-1.4zM227.2,156.9h0.9v0.9h-0.9zM226.2,145.3h0.9v0.9h-0.9zM136.0,152.3h1.4v1.4h-1.4zM244.7,158.2h1.1v1.1h-1.1zM242.2,150.0h1.4v1.4h-1.4zM196.2,151.3h1.1v1.1h-1.1zM177.5,138.1h1.1v1.1h-1.1zM258.7,168.5h1.4v1.4h-1.4zM231.5,175.0h1.4v1.4h-1.4z"/>
</g>
<line x1="113.0" y1="76.7" x2="223.8" y2="76.7" stroke="#6b6b6b" stroke-width="1.3" />
<line x1="113.0" y1="76.7" x2="113.0" y2="149.8" stroke="#6b6b6b" stroke-width="1.3" />
<line x1="223.8" y1="76.7" x2="223.8" y2="149.8" stroke="#6b6b6b" stroke-width="1.3" />
<line x1="149.9" y1="102.1" x2="260.6" y2="102.1" stroke="#6b6b6b" stroke-width="1.3" />
<line x1="149.9" y1="102.1" x2="149.9" y2="175.7" stroke="#6b6b6b" stroke-width="1.3" />
<line x1="260.6" y1="102.1" x2="260.6" y2="175.7" stroke="#6b6b6b" stroke-width="1.3" />
<line x1="149.9" y1="175.7" x2="260.6" y2="175.7" stroke="#6b6b6b" stroke-width="1.3" />
<line x1="113.0" y1="76.7" x2="149.9" y2="102.1" stroke="#6b6b6b" stroke-width="1.3" />
<line x1="223.8" y1="76.7" x2="260.6" y2="102.1" stroke="#6b6b6b" stroke-width="1.3" />
<line x1="113.0" y1="149.8" x2="149.9" y2="175.7" stroke="#6b6b6b" stroke-width="1.3" />
<line x1="113.0" y1="149.8" x2="223.8" y2="149.8" stroke="#9a9a9a" stroke-width="0.8" />
<line x1="223.8" y1="149.8" x2="260.6" y2="175.7" stroke="#9a9a9a" stroke-width="0.8" />
<path d="M175,163.5 C170,163 164,163.2 158,164.5" fill="none" stroke="#4b4947" stroke-width="1.6" />
<path d="M174.5,164 C174,159 179,155.5 186,154 C192,153 198,152.5 203,152 C207,151.8 211,154 214,157 C216,159 216.5,161 215.5,162.5 C213.5,164.5 210.5,165.5 207.5,166.5 L206.5,170 L202.5,170.5 L201,168 C197,168.5 192,168.8 187.5,169 L183,171.5 L178,173.5 L176.5,171.5 L178.5,169 C176,168 174.6,166.2 174.5,164 Z" fill="#4b4947" stroke="none" stroke-width="1" />
<circle cx="206.3" cy="151.6" r="2.6" fill="#111"/>
<text x="263.2" y="35.5" font-size="21.5" font-weight="bold" fill="#231f20" transform="translate(263.2 35.5) scale(0.8 1) translate(-263.2 -35.5)">B</text>
<defs><filter id="sand" x="0" y="0" width="100%" height="100%"><feTurbulence type="fractalNoise" baseFrequency="0.45" numOctaves="2" seed="11" result="n"/><feColorMatrix in="n" type="matrix" values="0 0 0 0 1  0 0 0 0 0.98  0 0 0 0 0.92  2.4 0 0 0 -1.15" result="hi"/><feColorMatrix in="n" type="matrix" values="0 0 0 0 0.45  0 0 0 0 0.38  0 0 0 0 0.26  -2.4 0 0 0 0.95" result="lo"/><feMerge result="m"><feMergeNode in="SourceGraphic"/><feMergeNode in="lo"/><feMergeNode in="hi"/></feMerge><feComposite in="m" in2="SourceGraphic" operator="in"/></filter><clipPath id="photo"><rect x="281" y="46" width="130" height="125.5"/></clipPath></defs>
<g clip-path="url(#photo)">
<rect x="281.00" y="46.00" width="130.00" height="125.50" fill="#dccfae" filter="url(#sand)"/>
<filter id="blur5"><feGaussianBlur stdDeviation="5"/></filter>
<ellipse cx="382" cy="88" rx="30" ry="34" fill="#8a6a48" opacity="0.45" filter="url(#blur5)"/>
<ellipse cx="368" cy="104" rx="14" ry="12" fill="#6e5236" opacity="0.45" filter="url(#blur5)"/>
<ellipse cx="360.2" cy="96.3" rx="5.5" ry="3.4" fill="#f1efea" opacity="0.9"/>
<ellipse cx="363.4" cy="103.5" rx="6.2" ry="3.5" fill="#f1efea" opacity="0.9"/>
<ellipse cx="381.3" cy="64.5" rx="3.0" ry="3.1" fill="#f1efea" opacity="0.9"/>
<ellipse cx="386.3" cy="52.8" rx="6.2" ry="2.7" fill="#f1efea" opacity="0.9"/>
<ellipse cx="364.4" cy="51.0" rx="7.0" ry="4.2" fill="#f1efea" opacity="0.9"/>
<ellipse cx="404.3" cy="91.1" rx="3.1" ry="3.0" fill="#f1efea" opacity="0.9"/>
<ellipse cx="380.8" cy="56.1" rx="6.8" ry="3.1" fill="#f1efea" opacity="0.9"/>
<ellipse cx="359.6" cy="105.2" rx="3.5" ry="4.8" fill="#f1efea" opacity="0.9"/>
<ellipse cx="378.1" cy="86.6" rx="4.4" ry="3.5" fill="#f1efea" opacity="0.9"/>
<ellipse cx="361.6" cy="50.6" rx="6.5" ry="2.7" fill="#f1efea" opacity="0.9"/>
<ellipse cx="398.4" cy="62.6" rx="6.9" ry="4.7" fill="#f1efea" opacity="0.9"/>
<ellipse cx="396.8" cy="101.4" rx="5.3" ry="4.2" fill="#f1efea" opacity="0.9"/>
<ellipse cx="357.6" cy="81.3" rx="6.3" ry="2.6" fill="#f1efea" opacity="0.9"/>
<ellipse cx="407.2" cy="110.1" rx="4.6" ry="3.1" fill="#f1efea" opacity="0.9"/>
<ellipse cx="378.0" cy="75.0" rx="7.0" ry="3.2" fill="#f1efea" opacity="0.9"/>
<ellipse cx="351.7" cy="54.5" rx="5.9" ry="5.0" fill="#f1efea" opacity="0.9"/>
<path d="M373.2,85.3 l10.0,1.8" fill="none" stroke="#5a3f28" stroke-width="1.0549129221229971" />
<path d="M410.5,55.8 l7.8,1.8" fill="none" stroke="#95744c" stroke-width="1.4094816958739553" />
<path d="M406.6,66.2 l8.5,-8.5" fill="none" stroke="#95744c" stroke-width="1.099900443314821" />
<path d="M387.6,99.7 l13.5,-2.3" fill="none" stroke="#95744c" stroke-width="1.2724150360480713" />
<path d="M403.0,85.3 l6.9,2.1" fill="none" stroke="#a88a62" stroke-width="1.2494533960183571" />
<path d="M368.8,78.8 l-8.9,9.1" fill="none" stroke="#a88a62" stroke-width="1.3267409997574964" />
<path d="M337.7,66.4 l-9.4,9.2" fill="none" stroke="#a88a62" stroke-width="1.5867576488923956" />
<path d="M392.4,84.4 l10.5,-8.0" fill="none" stroke="#6a4c30" stroke-width="1.1832532884377207" />
<path d="M408.4,117.2 l9.0,5.3" fill="none" stroke="#6a4c30" stroke-width="1.1408659963873538" />
<path d="M379.7,113.2 l5.0,-3.8" fill="none" stroke="#6a4c30" stroke-width="1.3766140044345472" />
<path d="M364.4,56.8 l-6.6,3.0" fill="none" stroke="#7c5c3a" stroke-width="1.5645405327340376" />
<path d="M367.4,100.3 l-4.6,3.6" fill="none" stroke="#95744c" stroke-width="0.8202536025150835" />
<path d="M369.4,58.0 l-9.5,-2.7" fill="none" stroke="#7c5c3a" stroke-width="1.0594215059058745" />
<path d="M373.0,64.1 l5.7,-3.7" fill="none" stroke="#95744c" stroke-width="1.395358661115384" />
<path d="M393.3,94.1 l9.5,7.6" fill="none" stroke="#5a3f28" stroke-width="0.8062582754352572" />
<path d="M370.7,52.0 l6.1,-4.0" fill="none" stroke="#5a3f28" stroke-width="1.3573864734481977" />
<path d="M359.1,50.3 l11.3,-8.1" fill="none" stroke="#a88a62" stroke-width="1.454081764835842" />
<path d="M396.8,85.2 l7.2,-6.3" fill="none" stroke="#5a3f28" stroke-width="1.3876580913300698" />
<path d="M409.5,71.2 l5.6,0.3" fill="none" stroke="#5a3f28" stroke-width="1.451750655923736" />
<path d="M410.2,74.7 l-12.3,-3.6" fill="none" stroke="#6a4c30" stroke-width="1.3213703517516366" />
<path d="M383.2,110.0 l11.1,0.1" fill="none" stroke="#a88a62" stroke-width="1.3645202543892667" />
<path d="M371.3,87.0 l-7.8,7.7" fill="none" stroke="#a88a62" stroke-width="0.833631993812662" />
<path d="M356.2,93.0 l-6.6,-2.8" fill="none" stroke="#a88a62" stroke-width="1.1083255966156655" />
<path d="M372.5,96.3 l-5.6,6.2" fill="none" stroke="#7c5c3a" stroke-width="1.2836727731852895" />
<path d="M351.6,82.1 l10.8,3.4" fill="none" stroke="#5a3f28" stroke-width="1.3463802532088303" />
<path d="M353.9,118.5 l-9.1,3.3" fill="none" stroke="#a88a62" stroke-width="1.3691027819467108" />
<path d="M405.0,59.6 l-5.9,2.1" fill="none" stroke="#95744c" stroke-width="1.2425949583966647" />
<path d="M341.1,70.6 l-5.4,-2.5" fill="none" stroke="#a88a62" stroke-width="1.56480133632685" />
<path d="M389.2,63.1 l6.5,-1.5" fill="none" stroke="#6a4c30" stroke-width="0.8655963954403311" />
<path d="M337.2,87.1 l5.4,4.7" fill="none" stroke="#95744c" stroke-width="1.3505317525709333" />
<path d="M390.1,59.3 l-10.5,0.6" fill="none" stroke="#a88a62" stroke-width="1.0245019475793296" />
<path d="M348.4,77.0 l5.2,-4.6" fill="none" stroke="#6a4c30" stroke-width="1.0804791319992135" />
<path d="M383.5,115.0 l3.5,-4.1" fill="none" stroke="#6a4c30" stroke-width="1.2862896289899113" />
<path d="M388.9,65.7 l-9.6,-9.8" fill="none" stroke="#7c5c3a" stroke-width="0.9522421804315115" />
<path d="M363.5,47.2 l9.8,-7.6" fill="none" stroke="#95744c" stroke-width="1.2235324313688034" />
<path d="M338.8,61.6 l-7.9,-6.5" fill="none" stroke="#a88a62" stroke-width="1.4590281775206018" />
<path d="M380.0,83.5 l-8.6,-2.5" fill="none" stroke="#7c5c3a" stroke-width="1.4661732241328196" />
<path d="M411.2,98.3 l7.3,-7.4" fill="none" stroke="#95744c" stroke-width="1.2962258129798991" />
<path d="M371.3,109.4 l-6.2,4.4" fill="none" stroke="#6a4c30" stroke-width="1.311977992219365" />
<path d="M386.4,61.5 l-7.1,-2.3" fill="none" stroke="#7c5c3a" stroke-width="0.8470082471495864" />
<path d="M337.9,85.6 l-10.9,7.7" fill="none" stroke="#a88a62" stroke-width="1.2308465674545563" />
<path d="M366.4,100.9 l-6.9,1.0" fill="none" stroke="#5a3f28" stroke-width="1.2022181453733314" />
<path d="M391.0,94.3 l-6.1,7.1" fill="none" stroke="#95744c" stroke-width="1.4913560143170081" />
<path d="M369.0,48.5 l-11.4,-3.8" fill="none" stroke="#6a4c30" stroke-width="1.5222078956126237" />
<path d="M376.1,117.9 l13.2,-2.6" fill="none" stroke="#6a4c30" stroke-width="1.435098674100467" />
<path d="M335.9,74.4 l-7.6,3.4" fill="none" stroke="#5a3f28" stroke-width="1.3988029251186491" />
<path d="M373.5,79.2 l7.5,9.4" fill="none" stroke="#95744c" stroke-width="1.3919694886631402" />
<path d="M403.0,75.3 l7.3,-3.7" fill="none" stroke="#7c5c3a" stroke-width="1.337494419902412" />
<path d="M401.7,91.7 l8.7,8.0" fill="none" stroke="#7c5c3a" stroke-width="1.5874399880495047" />
<path d="M392.0,104.9 l9.4,9.1" fill="none" stroke="#95744c" stroke-width="1.2111485081678652" />
<path d="M344.5,65.7 l-9.3,-1.9" fill="none" stroke="#a88a62" stroke-width="0.9526019194768597" />
<path d="M351.3,61.4 l-4.7,2.6" fill="none" stroke="#a88a62" stroke-width="1.4869951752351636" />
<path d="M350.8,108.6 l11.5,1.8" fill="none" stroke="#6a4c30" stroke-width="1.3846676839527374" />
<path d="M411.5,76.4 l8.5,-9.5" fill="none" stroke="#a88a62" stroke-width="1.0372850154425928" />
<path d="M399.1,82.7 l10.9,-5.8" fill="none" stroke="#a88a62" stroke-width="1.186267362075112" />
<path d="M339.2,75.9 l-8.5,0.0" fill="none" stroke="#95744c" stroke-width="1.3027802196022238" />
<path d="M381.1,101.1 l-6.5,-3.2" fill="none" stroke="#6a4c30" stroke-width="1.4255129483866071" />
<path d="M396.1,119.4 l-12.5,-2.2" fill="none" stroke="#95744c" stroke-width="1.396790756630758" />
<path d="M354.2,57.1 l8.2,-7.1" fill="none" stroke="#6a4c30" stroke-width="1.2111681116042323" />
<path d="M373.1,49.5 l3.7,3.5" fill="none" stroke="#6a4c30" stroke-width="1.4742187508406135" />
<path d="M356.8,67.5 l7.3,-7.4" fill="none" stroke="#a88a62" stroke-width="1.2087769628832101" />
<path d="M411.7,65.1 l9.9,-0.2" fill="none" stroke="#a88a62" stroke-width="1.1460129477752081" />
<path d="M346.0,78.3 l-9.3,-2.3" fill="none" stroke="#a88a62" stroke-width="0.9788018431610803" />
<path d="M395.8,48.6 l10.7,7.6" fill="none" stroke="#a88a62" stroke-width="1.3993144100116472" />
<path d="M361.6,59.0 l-6.8,-4.1" fill="none" stroke="#7c5c3a" stroke-width="0.9723148701462473" />
<path d="M338.7,61.6 l-4.1,4.9" fill="none" stroke="#95744c" stroke-width="1.2406586355671656" />
<path d="M383.4,56.5 l8.5,-5.0" fill="none" stroke="#7c5c3a" stroke-width="0.8679897593254978" />
<path d="M353.7,93.8 l-10.8,5.4" fill="none" stroke="#7c5c3a" stroke-width="1.5428212137247352" />
<path d="M388.8,110.4 l-12.4,4.6" fill="none" stroke="#a88a62" stroke-width="1.086013453510342" />
<path d="M395.4,49.7 l-8.4,8.9" fill="none" stroke="#a88a62" stroke-width="1.185725886715294" />
<path d="M395.0,67.0 l6.0,2.5" fill="none" stroke="#a88a62" stroke-width="1.072687163180617" />
<path d="M386.1,98.2 l-4.4,-4.1" fill="none" stroke="#a88a62" stroke-width="1.2678982203629081" />
<path d="M372.5,111.0 l-7.0,-3.4" fill="none" stroke="#95744c" stroke-width="0.889696933446368" />
<path d="M386.0,81.5 l8.6,-9.0" fill="none" stroke="#95744c" stroke-width="1.2101271312883535" />
<path d="M351.8,115.9 l7.2,-7.6" fill="none" stroke="#95744c" stroke-width="1.147908062854673" />
<path d="M394.3,48.5 l-5.9,3.6" fill="none" stroke="#5a3f28" stroke-width="1.4947785971385499" />
<path d="M360.9,99.0 l5.8,4.3" fill="none" stroke="#95744c" stroke-width="1.0837176473644146" />
<path d="M400.1,61.8 l-6.3,-5.5" fill="none" stroke="#5a3f28" stroke-width="0.9146554251224387" />
<path d="M363.3,117.4 l10.5,-4.2" fill="none" stroke="#95744c" stroke-width="1.388027947928562" />
<path d="M341.0,51.6 l-13.1,4.2" fill="none" stroke="#6a4c30" stroke-width="0.9338132364841273" />
<path d="M365.4,95.8 l-10.1,-9.4" fill="none" stroke="#6a4c30" stroke-width="1.413363204859802" />
<path d="M352.8,56.5 l10.5,9.0" fill="none" stroke="#7c5c3a" stroke-width="1.1994489648993163" />
<path d="M389.0,87.1 l-10.6,-3.0" fill="none" stroke="#95744c" stroke-width="1.0359069095252735" />
<path d="M345.0,77.1 l6.0,2.4" fill="none" stroke="#95744c" stroke-width="0.888780401726605" />
<path d="M371.4,52.8 l5.9,-4.9" fill="none" stroke="#6a4c30" stroke-width="1.1567618779672966" />
<path d="M389.8,79.2 l5.2,5.5" fill="none" stroke="#a88a62" stroke-width="0.8044224900115959" />
<path d="M366.5,108.8 l12.9,-0.9" fill="none" stroke="#6a4c30" stroke-width="1.0121359041106146" />
<path d="M361.9,88.3 l-5.0,3.0" fill="none" stroke="#6a4c30" stroke-width="1.4355184959378242" />
<path d="M388.4,86.4 l-8.7,-5.3" fill="none" stroke="#7c5c3a" stroke-width="1.2433416559212953" />
<path d="M400.4,113.1 l6.3,2.6" fill="none" stroke="#5a3f28" stroke-width="0.9390489156757139" />
<path d="M391.4,79.2 l-10.6,5.9" fill="none" stroke="#6a4c30" stroke-width="1.4839133041879427" />
<path d="M392.4,103.9 l-11.6,4.4" fill="none" stroke="#95744c" stroke-width="1.415830247846116" />
<path d="M382.6,117.2 l12.0,-0.8" fill="none" stroke="#a88a62" stroke-width="0.9494907481630436" />
<path d="M382.4,123.6 l-8.4,-7.7" fill="none" stroke="#a88a62" stroke-width="1.1892169231444303" />
<path d="M405.0,60.0 l3.8,3.4" fill="none" stroke="#5a3f28" stroke-width="1.4131473304697773" />
<path d="M411.1,87.6 l-13.2,-3.1" fill="none" stroke="#7c5c3a" stroke-width="1.5722123322449197" />
<path d="M368.9,91.8 l7.8,9.2" fill="none" stroke="#6a4c30" stroke-width="1.1908166155204685" />
<path d="M355.4,91.1 l5.9,-2.2" fill="none" stroke="#95744c" stroke-width="1.5347266817751815" />
<path d="M385.3,90.5 l8.2,-1.6" fill="none" stroke="#6a4c30" stroke-width="1.208526873892977" />
<path d="M405.2,97.0 l-9.6,0.7" fill="none" stroke="#95744c" stroke-width="0.9933149257779292" />
<circle cx="352.6" cy="81.4" r="0.6" fill="#2a241c"/>
<circle cx="355.2" cy="86.0" r="0.9" fill="#2a241c"/>
<circle cx="343.9" cy="98.7" r="0.6" fill="#2a241c"/>
<circle cx="396.9" cy="154.0" r="0.6" fill="#2a241c"/>
<circle cx="305.0" cy="113.5" r="1.1" fill="#2a241c"/>
<circle cx="303.2" cy="163.1" r="0.6" fill="#2a241c"/>
<circle cx="388.6" cy="106.2" r="0.9" fill="#2a241c"/>
<circle cx="316.6" cy="108.7" r="0.6" fill="#2a241c"/>
<circle cx="359.4" cy="146.6" r="1.0" fill="#2a241c"/>
<circle cx="390.5" cy="116.3" r="0.5" fill="#2a241c"/>
<circle cx="409.2" cy="67.9" r="0.5" fill="#2a241c"/>
<circle cx="380.5" cy="109.3" r="1.0" fill="#2a241c"/>
<circle cx="363.5" cy="125.8" r="0.9" fill="#2a241c"/>
<circle cx="409.6" cy="151.2" r="0.7" fill="#2a241c"/>
<circle cx="361.1" cy="69.2" r="0.6" fill="#2a241c"/>
<circle cx="373.1" cy="166.1" r="0.8" fill="#2a241c"/>
<circle cx="396.2" cy="127.8" r="0.7" fill="#2a241c"/>
<circle cx="374.3" cy="128.8" r="0.7" fill="#2a241c"/>
<circle cx="318.2" cy="137.1" r="0.6" fill="#2a241c"/>
<circle cx="367.9" cy="78.0" r="1.1" fill="#2a241c"/>
<circle cx="349.8" cy="110.2" r="0.7" fill="#2a241c"/>
<circle cx="302.5" cy="157.2" r="1.0" fill="#2a241c"/>
<circle cx="295.2" cy="127.6" r="1.0" fill="#2a241c"/>
<circle cx="303.9" cy="118.5" r="0.7" fill="#2a241c"/>
<circle cx="349.4" cy="160.0" r="0.9" fill="#2a241c"/>
<circle cx="286.3" cy="53.3" r="0.9" fill="#2a241c"/>
<circle cx="387.8" cy="116.9" r="0.6" fill="#2a241c"/>
<circle cx="404.9" cy="93.4" r="0.7" fill="#2a241c"/>
<circle cx="382.6" cy="167.7" r="0.6" fill="#2a241c"/>
<circle cx="401.9" cy="93.7" r="0.9" fill="#2a241c"/>
<circle cx="303.0" cy="145.7" r="0.7" fill="#2a241c"/>
<circle cx="297.1" cy="129.4" r="0.9" fill="#2a241c"/>
<circle cx="388.1" cy="59.2" r="1.1" fill="#2a241c"/>
<circle cx="287.1" cy="165.8" r="1.0" fill="#2a241c"/>
<circle cx="325.1" cy="96.4" r="0.9" fill="#2a241c"/>
<circle cx="317.0" cy="146.9" r="1.0" fill="#2a241c"/>
<circle cx="288.9" cy="141.2" r="1.0" fill="#2a241c"/>
<circle cx="355.7" cy="65.1" r="0.8" fill="#2a241c"/>
<circle cx="293.4" cy="150.7" r="0.8" fill="#2a241c"/>
<circle cx="334.7" cy="102.5" r="0.8" fill="#2a241c"/>
<circle cx="318.2" cy="123.0" r="0.5" fill="#2a241c"/>
<circle cx="313.1" cy="158.8" r="1.0" fill="#2a241c"/>
<circle cx="376.8" cy="117.7" r="0.6" fill="#2a241c"/>
<circle cx="315.7" cy="117.6" r="0.8" fill="#2a241c"/>
<circle cx="311.8" cy="162.5" r="0.9" fill="#2a241c"/>
<ellipse cx="305" cy="91.3" rx="12" ry="7.2" fill="#c9b68e" transform="rotate(8 305 91.3)"/>
<ellipse cx="285" cy="62" rx="6" ry="10" fill="#c4b088"/>
<path d="M290.7,110.3 C300,117 310,125 320,132 C325,136 329,139 333,140.5" fill="none" stroke="#857464" stroke-width="2.4" />
<path d="M332.3,142.4 C332.5,138.5 338,133 344,130.5 C350,129 357,129 362,130.5 C366,132 369,134 370,135.3 C375,142 381,151 384.5,162.6 C384,165 383,166.8 381,167.3 C375,166 369,164 363,162.6 C357,161.5 351,160.5 346.5,159 C341,155 337.5,152 335.8,149.5 C334,147 332.5,145 332.3,142.4 Z" fill="#0e0b0b" stroke="none" stroke-width="1" />
<ellipse cx="361" cy="152" rx="5" ry="3" fill="#3a3532"/>
<path d="M376.5,122 L383.5,122.5 L383,134 L376,133.5 Z" fill="#d3322c" stroke="none" stroke-width="1" />
<path d="M371,135 C373,134 377,133.5 381,134 C382.5,140 382.5,148 382,153 C378,155 373,155 370.5,153 C370,147 370,140 371,135 Z" fill="#ecc4b8" stroke="none" stroke-width="1" />
<path d="M368.5,147 L383,147 L382.5,151 L368.5,151 Z" fill="#1a1a1a" stroke="none" stroke-width="1" />
<path d="M377,116.5 C380,115.5 385,115.8 387,117.5 C387,119.5 386,121.2 383.5,122 L377,122 C376,120 376,118 377,116.5 Z" fill="#cdd7c4" stroke="none" stroke-width="1" />
<path d="M381,116.3 C381.5,106 381.5,98 383,94.9 C386,90 390,87.5 392.8,85.4 C397,82 401,78 403.5,74.7 C406,70 406.5,65 405.3,60.4 C404,55 401,50 397.6,46" fill="none" stroke="#0d0d0d" stroke-width="1.9" />
</g>
<line x1="415.0" y1="116.0" x2="432.0" y2="116.0" stroke="#333" stroke-width="1.2" />
<polygon points="436.0,116.0 430.0,112.8 431.4,116.0 430.0,119.2" fill="#333" />
<line x1="637.5" y1="116.0" x2="654.4" y2="116.0" stroke="#333" stroke-width="1.2" />
<polygon points="658.4,116.0 652.4,112.8 653.8,116.0 652.4,119.2" fill="#333" />
<text x="540.8" y="32.8" font-size="17.7" text-anchor="middle" fill="#231f20" >Convolutional neural network</text>
<text x="539.2" y="53.5" font-size="17.7" text-anchor="middle" fill="#231f20" >(U-Net)</text>
<polygon points="444.5,63.4 465.5,43.4 465.5,155.5 444.5,175.5" fill="#b8b8b8" stroke="#8a8a8a" stroke-width="0.6"/>
<polygon points="441.7,63.4 462.7,43.4 465.5,43.4 444.5,63.4" fill="#c4c4c4" stroke="#8a8a8a" stroke-width="0.6"/>
<rect x="441.70" y="63.40" width="2.80" height="112.10" fill="#b4b4b4" stroke="#8a8a8a" stroke-width="0.6"/>
<polygon points="447.5,63.4 468.5,43.4 468.5,155.5 447.5,175.5" fill="#b4b4b4" stroke="#8a8a8a" stroke-width="0.6"/>
<polygon points="444.5,63.4 465.5,43.4 468.5,43.4 447.5,63.4" fill="#d0d0d0" stroke="#8a8a8a" stroke-width="0.6"/>
<rect x="444.50" y="63.40" width="3.00" height="112.10" fill="#e4e4e4" stroke="#8a8a8a" stroke-width="0.6"/>
<polygon points="450.0,63.4 471.0,43.4 471.0,155.5 450.0,175.5" fill="#ababab" stroke="#8a8a8a" stroke-width="0.6"/>
<polygon points="447.5,63.4 468.5,43.4 471.0,43.4 450.0,63.4" fill="#c0c0c0" stroke="#8a8a8a" stroke-width="0.6"/>
<rect x="447.50" y="63.40" width="2.50" height="112.10" fill="#bcbcbc" stroke="#8a8a8a" stroke-width="0.6"/>
<polygon points="470.7,85.5 480.7,73.5 480.7,132.4 470.7,144.4" fill="#9f9f9f" stroke="#777" stroke-width="0.6"/>
<polygon points="458.9,85.5 468.9,73.5 480.7,73.5 470.7,85.5" fill="#c3c3c3" stroke="#777" stroke-width="0.6"/>
<rect x="458.90" y="85.50" width="11.80" height="58.90" fill="#a9a9a9" stroke="#777" stroke-width="0.6"/>
<polygon points="485.0,85.5 495.0,73.5 495.0,132.4 485.0,144.4" fill="#a2a2a2" stroke="#8a8a8a" stroke-width="0.6"/>
<polygon points="473.4,85.5 483.4,73.5 495.0,73.5 485.0,85.5" fill="#c6c6c6" stroke="#8a8a8a" stroke-width="0.6"/>
<rect x="473.40" y="85.50" width="11.60" height="58.90" fill="#b0b0b0" stroke="#8a8a8a" stroke-width="0.6"/>
<polygon points="498.6,85.5 510.4,73.5 510.4,132.4 498.6,144.4" fill="#b2b2b2" stroke="#8a8a8a" stroke-width="0.6"/>
<polygon points="487.2,85.5 499.0,73.5 510.4,73.5 498.6,85.5" fill="#dcdcdc" stroke="#8a8a8a" stroke-width="0.6"/>
<rect x="487.20" y="85.50" width="11.40" height="58.90" fill="#e2e2e2" stroke="#8a8a8a" stroke-width="0.6"/>
<polygon points="522.8,102.0 533.3,91.0 533.3,115.2 522.8,126.2" fill="#9c9c9c" stroke="#666" stroke-width="0.6"/>
<polygon points="503.8,102.0 514.3,91.0 533.3,91.0 522.8,102.0" fill="#c2c2c2" stroke="#666" stroke-width="0.6"/>
<rect x="503.80" y="102.00" width="19.00" height="24.20" fill="#acacac" stroke="#666" stroke-width="0.6"/>
<polygon points="546.6,102.0 553.4,91.0 553.4,115.2 546.6,126.2" fill="#a0a0a0" stroke="#8a8a8a" stroke-width="0.6"/>
<polygon points="528.0,102.0 534.8,91.0 553.4,91.0 546.6,102.0" fill="#c4c4c4" stroke="#8a8a8a" stroke-width="0.6"/>
<rect x="528.00" y="102.00" width="18.60" height="24.20" fill="#b0b0b0" stroke="#8a8a8a" stroke-width="0.6"/>
<polygon points="565.4,84.0 575.4,72.0 575.4,131.4 565.4,143.4" fill="#b4b4b4" stroke="#777" stroke-width="0.6"/>
<polygon points="554.0,84.0 564.0,72.0 575.4,72.0 565.4,84.0" fill="#dedede" stroke="#777" stroke-width="0.6"/>
<rect x="554.00" y="84.00" width="11.40" height="59.40" fill="#e4e4e4" stroke="#777" stroke-width="0.6"/>
<polygon points="579.7,84.0 589.7,72.0 589.7,131.4 579.7,143.4" fill="#a4a4a4" stroke="#8a8a8a" stroke-width="0.6"/>
<polygon points="567.9,84.0 577.9,72.0 589.7,72.0 579.7,84.0" fill="#c8c8c8" stroke="#8a8a8a" stroke-width="0.6"/>
<rect x="567.90" y="84.00" width="11.80" height="59.40" fill="#b2b2b2" stroke="#8a8a8a" stroke-width="0.6"/>
<polygon points="593.3,84.0 603.0,72.0 603.0,131.4 593.3,143.4" fill="#9e9e9e" stroke="#8a8a8a" stroke-width="0.6"/>
<polygon points="581.7,84.0 591.4,72.0 603.0,72.0 593.3,84.0" fill="#c8c8c8" stroke="#8a8a8a" stroke-width="0.6"/>
<rect x="581.70" y="84.00" width="11.60" height="59.40" fill="#b2b2b2" stroke="#8a8a8a" stroke-width="0.6"/>
<polygon points="606.0,63.4 627.0,43.4 627.0,155.5 606.0,175.5" fill="#c8c8c8" stroke="#8a8a8a" stroke-width="0.6"/>
<polygon points="603.0,63.4 624.0,43.4 627.0,43.4 606.0,63.4" fill="#e6e6e6" stroke="#8a8a8a" stroke-width="0.6"/>
<rect x="603.00" y="63.40" width="3.00" height="112.10" fill="#f2f2f2" stroke="#8a8a8a" stroke-width="0.6"/>
<polygon points="608.5,63.4 629.5,43.4 629.5,155.5 608.5,175.5" fill="#b8b8b8" stroke="#8a8a8a" stroke-width="0.6"/>
<polygon points="606.0,63.4 627.0,43.4 629.5,43.4 608.5,63.4" fill="#d0d0d0" stroke="#8a8a8a" stroke-width="0.6"/>
<rect x="606.00" y="63.40" width="2.50" height="112.10" fill="#c0c0c0" stroke="#8a8a8a" stroke-width="0.6"/>
<polygon points="611.3,63.4 633.3,43.4 633.3,155.5 611.3,175.5" fill="#a0a0a0" stroke="#8a8a8a" stroke-width="0.6"/>
<polygon points="608.5,63.4 630.5,43.4 633.3,43.4 611.3,63.4" fill="#c0c0c0" stroke="#8a8a8a" stroke-width="0.6"/>
<rect x="608.50" y="63.40" width="2.80" height="112.10" fill="#a8a8a8" stroke="#8a8a8a" stroke-width="0.6"/>
<line x1="504.0" y1="133.0" x2="548.0" y2="133.0" stroke="#d8d8d8" stroke-width="0.9" stroke-dasharray="4 3"/>
<polygon points="552.0,133.0 547.0,131.0 547.0,135.0" fill="#d8d8d8" />
<line x1="459.0" y1="155.8" x2="598.0" y2="155.8" stroke="#d8d8d8" stroke-width="0.9" stroke-dasharray="4 3"/>
<polygon points="602.0,155.8 597.0,153.8 597.0,157.8" fill="#d8d8d8" />
<text x="730.1" y="38.2" font-size="18" text-anchor="middle" fill="#231f20" >Segmentation</text>
<rect x="665.00" y="46.00" width="130.00" height="125.50" fill="#000" />
<path d="M716.5,138.5 C719,132 727,127.5 735,127.5 C742,128 748,133 755,137 C760,140 762,149 764,156 C766,162 764,166 758,164 C751,160 741,158.5 731,158 C724,157 720,147 716.5,138.5 Z" fill="#fff" stroke="none" stroke-width="1" />
<text x="803.2" y="35.5" font-size="21.5" font-weight="bold" fill="#231f20" transform="translate(803.2 35.5) scale(0.8 1) translate(-803.2 -35.5)">C</text>
<text x="869.5" y="57.8" font-size="17" text-anchor="middle" fill="#c1272d" >Translation</text>
<text x="979.0" y="47.6" font-size="17" text-anchor="middle" fill="#1f6db5" >Total</text>
<text x="982.2" y="67.5" font-size="17.7" text-anchor="middle" fill="#1f6db5" >movement</text>
<path d="M824.0,99.9 C825.1,98.3 827.4,97.0 830.5,96.6 C833.6,96.2 838.6,96.1 842.4,97.7 C846.2,99.3 849.2,103.4 853.2,106.3 C857.2,109.2 862.6,112.4 866.1,115.0 C869.6,117.6 873.0,117.8 874.0,122.0 C875.0,126.2 874.0,135.0 872.0,140.0 C870.0,145.0 864.6,150.1 862.0,152.0 C859.4,153.9 857.9,151.4 856.4,151.7 C854.9,152.0 854.8,154.9 853.2,153.8 C851.6,152.7 849.6,149.5 846.7,145.2 C843.8,140.9 839.0,132.9 835.9,127.9 C832.8,122.9 830.3,118.6 828.3,115.0 C826.3,111.4 824.7,108.8 824.0,106.3 C823.3,103.8 822.9,101.5 824.0,99.9Z" fill="#a2a2a2" stroke="none" stroke-width="1" />
<path d="M911.4,101.6 C914.5,101.9 917.4,104.8 919.0,106.3 C920.6,107.8 921.7,108.2 921.2,110.7 C920.7,113.2 918.5,116.7 915.8,121.4 C913.1,126.1 909.0,133.6 905.0,138.7 C901.0,143.8 896.0,148.5 892.0,151.7 C888.0,154.9 884.8,156.8 881.2,158.1 C877.6,159.3 873.6,159.9 870.4,159.2 C867.2,158.5 864.1,155.8 861.8,153.8 C859.5,151.8 857.1,150.2 856.4,147.3 C855.7,144.4 856.2,140.6 857.5,136.6 C858.8,132.6 861.1,126.3 864.0,123.6 C866.9,120.9 870.1,122.6 874.8,120.4 C879.5,118.2 887.7,113.4 892.0,110.7 C896.3,108.0 897.4,105.7 900.6,104.2 C903.8,102.7 908.3,101.2 911.4,101.6Z" fill="#575656" stroke="none" stroke-width="1" />
<path d="M864.0,123.6 C866.4,121.0 870.3,120.3 872.0,121.0 C873.7,121.7 874.0,124.8 874.0,128.0 C874.0,131.2 873.3,136.2 872.0,140.0 C870.7,143.8 868.0,149.0 866.0,151.0 C864.0,153.0 861.6,152.6 860.0,152.0 C858.4,151.4 856.8,149.9 856.4,147.3 C856.0,144.7 856.2,140.6 857.5,136.6 C858.8,132.6 861.6,126.2 864.0,123.6Z" fill="#3f3e3d" stroke="none" stroke-width="1" />
<circle cx="850.4" cy="126.8" r="2" fill="#000"/><circle cx="888" cy="131" r="2" fill="#000"/>
<path d="M853,127.5 L880,130.5" fill="none" stroke="#e8262a" stroke-width="2.6" />
<polygon points="886.0,131.2 877.0,126.0 878.5,134.5" fill="#e8262a" />
<path d="M940.6,101.0 C941.7,98.4 944.7,97.5 948.1,97.3 C951.5,97.1 956.8,97.7 961.1,99.9 C965.4,102.1 970.0,107.5 974.0,110.7 C978.0,113.9 982.3,117.9 984.8,119.3 C987.3,120.7 986.0,120.7 989.2,119.3 C992.5,117.9 999.6,113.4 1004.3,110.7 C1009.0,108.0 1013.2,104.7 1017.2,103.1 C1021.2,101.5 1025.1,100.5 1028.0,101.0 C1030.9,101.5 1033.6,104.0 1034.5,106.3 C1035.4,108.6 1034.9,111.4 1033.4,115.0 C1032.0,118.6 1029.2,123.2 1025.8,127.9 C1022.4,132.6 1017.2,138.7 1012.9,143.0 C1008.6,147.3 1004.2,151.3 999.9,153.8 C995.6,156.3 990.6,157.6 987.0,158.1 C983.4,158.6 980.6,158.2 978.4,157.1 C976.2,156.0 976.2,153.0 974.0,151.7 C971.8,150.4 968.3,150.9 965.4,149.5 C962.5,148.1 959.7,146.6 956.8,143.0 C953.9,139.4 950.6,132.9 948.1,127.9 C945.6,122.9 943.0,117.3 941.7,112.8 C940.5,108.3 939.5,103.6 940.6,101.0Z" fill="#3c69b7" stroke="none" stroke-width="1" />
<path d="M978.4,122.5 C980.9,121.4 988.1,121.2 990.2,123.6 C992.4,125.9 991.8,132.6 991.3,136.6 C990.8,140.6 988.8,144.8 987.0,147.3 C985.2,149.8 982.7,151.3 980.5,151.7 C978.3,152.1 975.2,151.3 974.0,149.5 C972.8,147.7 972.8,144.1 973.0,140.9 C973.2,137.7 974.2,133.2 975.1,130.1 C976.0,127.0 975.9,123.6 978.4,122.5Z" fill="#3b3b3c" stroke="none" stroke-width="1" />
<text x="64.2" y="206.6" font-size="21.5" font-weight="bold" fill="#231f20" transform="translate(64.2 206.6) scale(0.8 1) translate(-64.2 -206.6)">D</text>
<text x="172.6" y="228.5" font-size="17.55" text-anchor="end" fill="#231f20" >Translation</text>
<text x="129.2" y="268.5" font-size="17.8" text-anchor="middle" fill="#231f20" >Total</text>
<text x="130.3" y="288.6" font-size="17.8" text-anchor="middle" fill="#231f20" >movement</text>
<text x="100.0" y="352.4" font-size="18.0" text-anchor="start" fill="#231f20" >EEG</text>
<text x="100.6" y="416.8" font-size="18.0" text-anchor="start" fill="#231f20" >EMG</text>
<text x="0" y="0" font-size="16" text-anchor="middle" fill="#231f20" transform="translate(157.5 345.6) rotate(-90)">Freq.(Hz)</text>
<text x="176.9" y="329.3" font-size="13.5" text-anchor="end" fill="#231f20" >25</text>
<text x="175.7" y="374.5" font-size="13.5" text-anchor="end" fill="#231f20" >1</text>
<rect x="181.00" y="209.20" width="17.20" height="225.30" fill="#fcbc14" />
<rect x="197.90" y="209.20" width="4.20" height="225.30" fill="#b7cba2" />
<rect x="201.80" y="209.20" width="110.40" height="225.30" fill="#fcbc14" />
<rect x="311.90" y="209.20" width="11.30" height="225.30" fill="#b7cba2" />
<rect x="322.90" y="209.20" width="134.40" height="225.30" fill="#67bc5f" />
<rect x="457.00" y="209.20" width="41.30" height="225.30" fill="#007a3d" />
<rect x="498.00" y="209.20" width="21.30" height="225.30" fill="#67bc5f" />
<rect x="519.00" y="209.20" width="18.30" height="225.30" fill="#b7cba2" />
<rect x="537.00" y="209.20" width="87.30" height="225.30" fill="#67bc5f" />
<line x1="181.2" y1="209.5" x2="181.2" y2="236.5" stroke="#333" stroke-width="0.8" />
<line x1="181.2" y1="209.8" x2="183.5" y2="209.8" stroke="#333" stroke-width="0.8" />
<line x1="181.2" y1="223.0" x2="183.5" y2="223.0" stroke="#333" stroke-width="0.8" />
<line x1="181.2" y1="236.3" x2="624.0" y2="236.3" stroke="#333" stroke-width="0.8" />
<path d="M181.5,235.9 L322.0,235.9 L323.0,235.6 L325.5,235.4 L328.0,235.6 L330.5,235.5 L333.0,235.1 L335.5,235.6 L338.0,234.9 L340.5,235.5 L343.0,235.0 L345.5,235.6 L348.0,235.5 L350.5,235.7 L353.0,234.5 L355.5,235.1 L358.0,235.4 L360.5,235.4 L363.0,234.4 L365.5,234.4 L368.0,235.1 L370.5,235.4 L373.0,235.6 L375.5,235.8 L378.0,235.4 L380.5,235.3 L383.0,235.6 L385.5,235.5 L388.0,235.3 L390.5,234.4 L393.0,235.4 L395.5,234.8 L398.0,235.3 L400.5,235.2 L403.0,235.5 L405.5,235.7 L408.0,235.3 L410.5,235.6 L413.0,235.4 L415.5,235.0 L418.0,235.4 L420.5,234.8 L423.0,235.2 L426.0,232.6 L431.9,235.4 L445.0,235.0 L457.6,233.6 L460.6,227.7 L464.5,228.7 L468.5,219.8 L473.0,231.3 L477.4,219.8 L483.3,216.8 L488.2,224.7 L493.6,210.9 L496.2,217.8 L499.1,229.7 L503.0,235.2 L508.0,233.6 L512.0,236.0 L514.0,235.5 L517.0,235.4 L520.0,235.1 L523.0,235.7 L526.0,235.8 L529.0,235.2 L532.0,235.6 L535.0,235.6 L538.0,235.7 L541.0,235.2 L544.0,235.4 L547.0,235.6 L550.0,235.2 L553.0,234.8 L556.0,235.1 L559.0,235.8 L562.0,235.1 L565.0,235.6 L568.0,234.9 L571.0,234.5 L574.0,235.7 L577.0,235.5 L580.0,235.3 L583.0,235.4 L586.0,235.3 L589.0,235.8 L592.0,235.8 L595.0,235.7 L598.0,235.0 L601.0,235.6 L604.0,235.6 L607.0,235.6 L610.0,235.0 L613.0,235.2 L616.0,235.4 L619.0,235.6 L622.0,234.8" fill="none" stroke="#c4262e" stroke-width="1.8" stroke-linejoin="round"/>
<line x1="181.2" y1="264.0" x2="181.2" y2="292.5" stroke="#333" stroke-width="0.8" />
<line x1="181.2" y1="264.2" x2="183.5" y2="264.2" stroke="#333" stroke-width="0.8" />
<line x1="181.2" y1="278.5" x2="183.5" y2="278.5" stroke="#333" stroke-width="0.8" />
<line x1="181.2" y1="292.3" x2="624.0" y2="292.3" stroke="#333" stroke-width="0.8" />
<path d="M181.5,290.2 L190.0,290.6 L197.0,290.0 L203.0,289.8 L210.0,290.6 L250.0,290.8 L300.0,290.5 L312.0,290.2 L318.0,289.6 L322.9,290.8 L331.9,286.6 L336.0,288.0 L340.9,285.4 L354.4,287.7 L361.1,281.4 L365.6,285.4 L372.0,284.0 L381.3,280.5 L390.0,281.5 L397.0,280.9 L403.8,287.7 L408.0,285.0 L412.8,284.3 L418.4,277.6 L420.0,280.1 L426.0,277.2 L431.9,281.1 L438.8,288.0 L445.7,284.1 L452.6,284.1 L461.5,274.8 L466.5,279.1 L469.5,272.2 L473.4,285.1 L479.3,267.3 L483.3,264.3 L489.2,269.2 L494.8,262.9 L499.1,283.1 L505.1,278.7 L510.0,286.0 L518.9,285.5 L526.8,289.0 L534.7,290.6 L544.6,282.1 L551.0,283.5 L558.5,284.1 L563.0,282.0 L568.4,282.7 L573.0,283.5 L578.3,282.1 L584.2,288.6 L588.1,284.1 L594.1,289.0 L603.0,282.1 L610.0,288.0 L617.8,288.0 L623.8,281.5" fill="none" stroke="#1b2d6b" stroke-width="1.8" stroke-linejoin="round"/>
<rect x="180.30" y="321.30" width="444.80" height="49.20" fill="rgb(41, 69, 158)" />
<path fill="rgb(42, 80, 169)" d="M180,337h2v2h-2zM186,337h4v2h-4zM192,337h6v2h-6zM202,337h2v2h-2zM208,337h26v2h-26zM236,337h6v2h-6zM244,337h30v2h-30zM276,337h38v2h-38zM180,339h18v2h-18zM200,339h16v2h-16zM218,339h44v2h-44zM264,339h22v2h-22zM288,339h18v2h-18zM308,339h6v2h-6zM180,341h2v2h-2zM184,341h4v2h-4zM190,341h16v2h-16zM210,341h14v2h-14zM226,341h2v2h-2zM234,341h2v2h-2zM238,341h18v2h-18zM258,341h2v2h-2zM262,341h2v2h-2zM266,341h2v2h-2zM276,341h2v2h-2zM280,341h4v2h-4zM292,341h2v2h-2zM296,341h4v2h-4zM304,341h10v2h-10zM526,341h2v2h-2zM194,343h2v2h-2zM198,343h6v2h-6zM210,343h16v2h-16zM236,343h2v2h-2zM246,343h8v2h-8zM262,343h2v2h-2zM274,343h2v2h-2zM278,343h6v2h-6zM304,343h10v2h-10zM200,345h2v2h-2zM210,345h4v2h-4zM220,345h8v2h-8zM246,345h8v2h-8zM302,345h8v2h-8zM312,345h2v2h-2zM392,345h2v2h-2zM418,345h2v2h-2zM434,345h2v2h-2zM598,345h2v2h-2zM602,345h2v2h-2zM206,347h2v2h-2zM210,347h4v2h-4zM220,347h6v2h-6zM246,347h6v2h-6zM320,347h2v2h-2zM366,347h2v2h-2zM392,347h2v2h-2zM418,347h2v2h-2zM468,347h2v2h-2zM494,347h4v2h-4zM544,347h2v2h-2zM598,347h4v2h-4zM314,349h6v2h-6zM322,349h2v2h-2zM326,349h6v2h-6zM334,349h2v2h-2zM338,349h6v2h-6zM346,349h20v2h-20zM368,349h6v2h-6zM376,349h22v2h-22zM400,349h12v2h-12zM420,349h14v2h-14zM438,349h8v2h-8zM448,349h16v2h-16zM468,349h4v2h-4zM474,349h22v2h-22zM504,349h16v2h-16zM524,349h18v2h-18zM546,349h8v2h-8zM556,349h6v2h-6zM568,349h8v2h-8zM582,349h4v2h-4zM594,349h4v2h-4zM604,349h14v2h-14zM622,349h3v2h-3zM314,351h6v2h-6zM322,351h4v2h-4zM328,351h16v2h-16zM346,351h14v2h-14zM362,351h4v2h-4zM368,351h4v2h-4zM376,351h36v2h-36zM420,351h14v2h-14zM438,351h8v2h-8zM448,351h10v2h-10zM460,351h4v2h-4zM468,351h4v2h-4zM474,351h22v2h-22zM502,351h12v2h-12zM516,351h4v2h-4zM524,351h2v2h-2zM528,351h8v2h-8zM538,351h4v2h-4zM546,351h8v2h-8zM556,351h6v2h-6zM568,351h8v2h-8zM578,351h8v2h-8zM592,351h6v2h-6zM604,351h14v2h-14zM620,351h5v2h-5zM314,353h6v2h-6zM322,353h12v2h-12zM336,353h8v2h-8zM346,353h14v2h-14zM362,353h4v2h-4zM368,353h6v2h-6zM376,353h36v2h-36zM420,353h10v2h-10zM432,353h2v2h-2zM438,353h8v2h-8zM448,353h16v2h-16zM470,353h2v2h-2zM474,353h22v2h-22zM502,353h12v2h-12zM518,353h2v2h-2zM524,353h2v2h-2zM528,353h14v2h-14zM546,353h8v2h-8zM556,353h6v2h-6zM568,353h6v2h-6zM578,353h8v2h-8zM592,353h6v2h-6zM604,353h21v2h-21zM314,355h6v2h-6zM322,355h22v2h-22zM346,355h20v2h-20zM368,355h6v2h-6zM376,355h4v2h-4zM382,355h8v2h-8zM392,355h20v2h-20zM420,355h12v2h-12zM438,355h8v2h-8zM448,355h4v2h-4zM454,355h6v2h-6zM462,355h2v2h-2zM470,355h2v2h-2zM474,355h10v2h-10zM486,355h2v2h-2zM490,355h6v2h-6zM502,355h18v2h-18zM524,355h18v2h-18zM546,355h8v2h-8zM556,355h6v2h-6zM568,355h8v2h-8zM578,355h8v2h-8zM592,355h6v2h-6zM604,355h18v2h-18zM624,355h1v2h-1zM314,357h6v2h-6zM322,357h4v2h-4zM328,357h16v2h-16zM346,357h20v2h-20zM368,357h6v2h-6zM376,357h4v2h-4zM382,357h22v2h-22zM406,357h2v2h-2zM422,357h6v2h-6zM430,357h4v2h-4zM438,357h8v2h-8zM448,357h8v2h-8zM458,357h6v2h-6zM468,357h2v2h-2zM474,357h8v2h-8zM486,357h10v2h-10zM502,357h4v2h-4zM508,357h8v2h-8zM518,357h2v2h-2zM526,357h16v2h-16zM546,357h8v2h-8zM556,357h6v2h-6zM568,357h8v2h-8zM578,357h8v2h-8zM592,357h6v2h-6zM604,357h21v2h-21zM314,363h2v2h-2zM318,363h2v2h-2zM322,363h22v2h-22zM346,363h18v2h-18zM368,363h6v2h-6zM376,363h8v2h-8zM386,363h2v2h-2zM390,363h22v2h-22zM420,363h14v2h-14zM438,363h8v2h-8zM448,363h16v2h-16zM468,363h4v2h-4zM474,363h22v2h-22zM502,363h18v2h-18zM524,363h18v2h-18zM546,363h8v2h-8zM556,363h6v2h-6zM568,363h8v2h-8zM578,363h8v2h-8zM592,363h6v2h-6zM604,363h21v2h-21zM314,365h6v2h-6zM322,365h20v2h-20zM346,365h20v2h-20zM368,365h6v2h-6zM378,365h34v2h-34zM420,365h14v2h-14zM440,365h6v2h-6zM448,365h16v2h-16zM468,365h4v2h-4zM474,365h22v2h-22zM502,365h18v2h-18zM524,365h10v2h-10zM540,365h2v2h-2zM546,365h8v2h-8zM556,365h6v2h-6zM568,365h8v2h-8zM578,365h8v2h-8zM592,365h6v2h-6zM604,365h21v2h-21zM314,367h6v2h-6zM324,367h20v2h-20zM346,367h4v2h-4zM352,367h14v2h-14zM368,367h6v2h-6zM376,367h36v2h-36zM420,367h14v2h-14zM438,367h8v2h-8zM448,367h6v2h-6zM456,367h2v2h-2zM460,367h4v2h-4zM468,367h4v2h-4zM476,367h20v2h-20zM502,367h18v2h-18zM524,367h12v2h-12zM538,367h4v2h-4zM546,367h8v2h-8zM556,367h6v2h-6zM568,367h8v2h-8zM578,367h6v2h-6zM592,367h6v2h-6zM604,367h21v2h-21z"/>
<path fill="rgb(46, 100, 182)" d="M242,337h2v2h-2zM216,339h2v2h-2zM262,339h2v2h-2zM286,339h2v2h-2zM182,341h2v2h-2zM188,341h2v2h-2zM206,341h4v2h-4zM224,341h2v2h-2zM228,341h6v2h-6zM236,341h2v2h-2zM256,341h2v2h-2zM260,341h2v2h-2zM264,341h2v2h-2zM268,341h8v2h-8zM278,341h2v2h-2zM284,341h8v2h-8zM294,341h2v2h-2zM300,341h4v2h-4zM180,343h14v2h-14zM196,343h2v2h-2zM204,343h6v2h-6zM226,343h10v2h-10zM238,343h8v2h-8zM254,343h8v2h-8zM264,343h10v2h-10zM276,343h2v2h-2zM284,343h20v2h-20zM180,345h20v2h-20zM202,345h8v2h-8zM214,345h6v2h-6zM228,345h4v2h-4zM234,345h12v2h-12zM254,345h2v2h-2zM258,345h6v2h-6zM266,345h2v2h-2zM270,345h32v2h-32zM310,345h2v2h-2zM180,347h2v2h-2zM184,347h4v2h-4zM190,347h16v2h-16zM208,347h2v2h-2zM214,347h6v2h-6zM226,347h2v2h-2zM234,347h12v2h-12zM252,347h4v2h-4zM258,347h2v2h-2zM266,347h2v2h-2zM270,347h6v2h-6zM280,347h10v2h-10zM292,347h22v2h-22zM320,349h2v2h-2zM344,349h2v2h-2zM374,349h2v2h-2zM412,349h6v2h-6zM434,349h4v2h-4zM446,349h2v2h-2zM464,349h4v2h-4zM498,349h4v2h-4zM520,349h4v2h-4zM554,349h2v2h-2zM562,349h6v2h-6zM576,349h2v2h-2zM588,349h4v2h-4zM600,349h4v2h-4zM320,351h2v2h-2zM360,351h2v2h-2zM374,351h2v2h-2zM412,351h6v2h-6zM458,351h2v2h-2zM464,351h4v2h-4zM496,351h6v2h-6zM522,351h2v2h-2zM526,351h2v2h-2zM542,351h4v2h-4zM554,351h2v2h-2zM562,351h6v2h-6zM576,351h2v2h-2zM586,351h2v2h-2zM590,351h2v2h-2zM600,351h4v2h-4zM320,353h2v2h-2zM334,353h2v2h-2zM344,353h2v2h-2zM360,353h2v2h-2zM374,353h2v2h-2zM412,353h2v2h-2zM416,353h2v2h-2zM446,353h2v2h-2zM464,353h4v2h-4zM472,353h2v2h-2zM496,353h6v2h-6zM520,353h4v2h-4zM526,353h2v2h-2zM542,353h4v2h-4zM554,353h2v2h-2zM562,353h4v2h-4zM576,353h2v2h-2zM588,353h4v2h-4zM600,353h4v2h-4zM344,355h2v2h-2zM434,355h4v2h-4zM446,355h2v2h-2zM464,355h4v2h-4zM472,355h2v2h-2zM498,355h4v2h-4zM522,355h2v2h-2zM542,355h4v2h-4zM562,355h4v2h-4zM576,355h2v2h-2zM590,355h2v2h-2zM600,355h2v2h-2zM320,357h2v2h-2zM344,357h2v2h-2zM418,357h2v2h-2zM428,357h2v2h-2zM434,357h4v2h-4zM446,357h2v2h-2zM456,357h2v2h-2zM466,357h2v2h-2zM500,357h2v2h-2zM520,357h4v2h-4zM542,357h4v2h-4zM554,357h2v2h-2zM562,357h2v2h-2zM600,357h4v2h-4zM316,363h2v2h-2zM344,363h2v2h-2zM412,363h2v2h-2zM418,363h2v2h-2zM446,363h2v2h-2zM464,363h4v2h-4zM496,363h2v2h-2zM520,363h4v2h-4zM542,363h4v2h-4zM562,363h4v2h-4zM576,363h2v2h-2zM600,363h4v2h-4zM320,365h2v2h-2zM344,365h2v2h-2zM366,365h2v2h-2zM374,365h2v2h-2zM434,365h4v2h-4zM446,365h2v2h-2zM466,365h2v2h-2zM500,365h2v2h-2zM520,365h4v2h-4zM542,365h4v2h-4zM562,365h2v2h-2zM576,365h2v2h-2zM586,365h2v2h-2zM600,365h4v2h-4zM320,367h2v2h-2zM344,367h2v2h-2zM416,367h4v2h-4zM436,367h2v2h-2zM446,367h2v2h-2zM464,367h4v2h-4zM472,367h2v2h-2zM500,367h2v2h-2zM520,367h4v2h-4zM542,367h4v2h-4zM554,367h2v2h-2zM576,367h2v2h-2zM586,367h6v2h-6zM598,367h6v2h-6z"/>
<path fill="rgb(50, 121, 196)" d="M232,345h2v2h-2zM256,345h2v2h-2zM264,345h2v2h-2zM268,345h2v2h-2zM182,347h2v2h-2zM188,347h2v2h-2zM228,347h6v2h-6zM256,347h2v2h-2zM260,347h6v2h-6zM268,347h2v2h-2zM276,347h4v2h-4zM290,347h2v2h-2zM216,349h2v2h-2zM272,349h4v2h-4zM312,349h2v2h-2zM366,349h2v2h-2zM418,349h2v2h-2zM472,349h2v2h-2zM496,349h2v2h-2zM542,349h4v2h-4zM586,349h2v2h-2zM598,349h2v2h-2zM216,351h4v2h-4zM246,351h2v2h-2zM272,351h4v2h-4zM344,351h2v2h-2zM366,351h2v2h-2zM418,351h2v2h-2zM434,351h4v2h-4zM446,351h2v2h-2zM472,351h2v2h-2zM520,351h2v2h-2zM588,351h2v2h-2zM598,351h2v2h-2zM220,353h2v2h-2zM232,353h2v2h-2zM246,353h2v2h-2zM366,353h2v2h-2zM414,353h2v2h-2zM418,353h2v2h-2zM434,353h4v2h-4zM566,353h2v2h-2zM586,353h2v2h-2zM598,353h2v2h-2zM222,355h2v2h-2zM246,355h2v2h-2zM250,355h4v2h-4zM272,355h2v2h-2zM320,355h2v2h-2zM366,355h2v2h-2zM374,355h2v2h-2zM412,355h8v2h-8zM496,355h2v2h-2zM520,355h2v2h-2zM554,355h2v2h-2zM566,355h2v2h-2zM586,355h4v2h-4zM598,355h2v2h-2zM602,355h2v2h-2zM186,357h2v2h-2zM246,357h2v2h-2zM250,357h4v2h-4zM270,357h2v2h-2zM312,357h2v2h-2zM366,357h2v2h-2zM374,357h2v2h-2zM412,357h6v2h-6zM464,357h2v2h-2zM472,357h2v2h-2zM496,357h4v2h-4zM564,357h4v2h-4zM576,357h2v2h-2zM586,357h6v2h-6zM598,357h2v2h-2zM334,361h2v2h-2zM320,363h2v2h-2zM366,363h2v2h-2zM374,363h2v2h-2zM414,363h4v2h-4zM434,363h4v2h-4zM472,363h2v2h-2zM498,363h4v2h-4zM554,363h2v2h-2zM566,363h2v2h-2zM586,363h6v2h-6zM598,363h2v2h-2zM412,365h8v2h-8zM464,365h2v2h-2zM472,365h2v2h-2zM496,365h4v2h-4zM554,365h2v2h-2zM564,365h4v2h-4zM588,365h4v2h-4zM598,365h2v2h-2zM366,367h2v2h-2zM374,367h2v2h-2zM412,367h4v2h-4zM434,367h2v2h-2zM496,367h4v2h-4zM562,367h6v2h-6z"/>
<path fill="rgb(57, 147, 208)" d="M180,349h2v2h-2zM184,349h4v2h-4zM208,349h8v2h-8zM218,349h4v2h-4zM224,349h2v2h-2zM238,349h4v2h-4zM246,349h6v2h-6zM262,349h2v2h-2zM270,349h2v2h-2zM276,349h2v2h-2zM302,349h2v2h-2zM184,351h2v2h-2zM210,351h6v2h-6zM220,351h4v2h-4zM226,351h2v2h-2zM238,351h2v2h-2zM244,351h2v2h-2zM248,351h4v2h-4zM260,351h6v2h-6zM288,351h2v2h-2zM298,351h8v2h-8zM312,351h2v2h-2zM184,353h4v2h-4zM194,353h6v2h-6zM210,353h10v2h-10zM222,353h4v2h-4zM228,353h4v2h-4zM234,353h2v2h-2zM238,353h2v2h-2zM244,353h2v2h-2zM248,353h6v2h-6zM260,353h4v2h-4zM270,353h6v2h-6zM300,353h4v2h-4zM308,353h2v2h-2zM312,353h2v2h-2zM180,355h8v2h-8zM194,355h6v2h-6zM218,355h4v2h-4zM224,355h4v2h-4zM230,355h10v2h-10zM244,355h2v2h-2zM248,355h2v2h-2zM254,355h2v2h-2zM258,355h6v2h-6zM270,355h2v2h-2zM274,355h2v2h-2zM298,355h2v2h-2zM302,355h2v2h-2zM310,355h4v2h-4zM180,357h6v2h-6zM194,357h6v2h-6zM212,357h14v2h-14zM232,357h8v2h-8zM244,357h2v2h-2zM248,357h2v2h-2zM254,357h2v2h-2zM260,357h2v2h-2zM268,357h2v2h-2zM272,357h6v2h-6zM300,357h2v2h-2zM314,359h2v2h-2zM318,359h4v2h-4zM324,359h12v2h-12zM338,359h6v2h-6zM346,359h6v2h-6zM354,359h8v2h-8zM364,359h2v2h-2zM372,359h2v2h-2zM376,359h6v2h-6zM384,359h6v2h-6zM392,359h2v2h-2zM396,359h2v2h-2zM402,359h12v2h-12zM418,359h6v2h-6zM432,359h26v2h-26zM460,359h2v2h-2zM468,359h4v2h-4zM482,359h4v2h-4zM488,359h4v2h-4zM498,359h16v2h-16zM516,359h4v2h-4zM522,359h2v2h-2zM528,359h2v2h-2zM532,359h2v2h-2zM538,359h4v2h-4zM544,359h8v2h-8zM554,359h12v2h-12zM568,359h16v2h-16zM586,359h12v2h-12zM600,359h2v2h-2zM604,359h18v2h-18zM624,359h1v2h-1zM320,361h14v2h-14zM336,361h10v2h-10zM348,361h6v2h-6zM356,361h12v2h-12zM380,361h4v2h-4zM386,361h4v2h-4zM392,361h8v2h-8zM402,361h2v2h-2zM408,361h10v2h-10zM420,361h10v2h-10zM436,361h24v2h-24zM470,361h2v2h-2zM482,361h6v2h-6zM492,361h4v2h-4zM502,361h6v2h-6zM510,361h8v2h-8zM520,361h6v2h-6zM528,361h8v2h-8zM538,361h18v2h-18zM560,361h4v2h-4zM566,361h18v2h-18zM586,361h10v2h-10zM600,361h6v2h-6zM608,361h6v2h-6zM616,361h9v2h-9z"/>
<path fill="rgb(64, 175, 219)" d="M182,349h2v2h-2zM188,349h20v2h-20zM222,349h2v2h-2zM226,349h12v2h-12zM242,349h4v2h-4zM252,349h4v2h-4zM258,349h4v2h-4zM264,349h4v2h-4zM278,349h6v2h-6zM288,349h14v2h-14zM304,349h8v2h-8zM180,351h4v2h-4zM186,351h24v2h-24zM224,351h2v2h-2zM228,351h10v2h-10zM240,351h4v2h-4zM252,351h8v2h-8zM266,351h2v2h-2zM270,351h2v2h-2zM276,351h12v2h-12zM290,351h2v2h-2zM306,351h6v2h-6zM180,353h4v2h-4zM188,353h6v2h-6zM200,353h10v2h-10zM226,353h2v2h-2zM236,353h2v2h-2zM240,353h4v2h-4zM254,353h6v2h-6zM264,353h4v2h-4zM276,353h2v2h-2zM280,353h12v2h-12zM298,353h2v2h-2zM304,353h4v2h-4zM310,353h2v2h-2zM188,355h6v2h-6zM200,355h18v2h-18zM228,355h2v2h-2zM240,355h4v2h-4zM256,355h2v2h-2zM264,355h6v2h-6zM276,355h14v2h-14zM300,355h2v2h-2zM304,355h6v2h-6zM188,357h6v2h-6zM200,357h6v2h-6zM208,357h4v2h-4zM226,357h6v2h-6zM240,357h4v2h-4zM256,357h4v2h-4zM262,357h6v2h-6zM278,357h8v2h-8zM288,357h4v2h-4zM294,357h6v2h-6zM302,357h4v2h-4zM308,357h4v2h-4zM316,359h2v2h-2zM344,359h2v2h-2zM352,359h2v2h-2zM362,359h2v2h-2zM366,359h6v2h-6zM390,359h2v2h-2zM398,359h4v2h-4zM414,359h4v2h-4zM426,359h6v2h-6zM458,359h2v2h-2zM462,359h2v2h-2zM466,359h2v2h-2zM520,359h2v2h-2zM534,359h2v2h-2zM598,359h2v2h-2zM312,361h8v2h-8zM346,361h2v2h-2zM354,361h2v2h-2zM368,361h10v2h-10zM400,361h2v2h-2zM404,361h4v2h-4zM418,361h2v2h-2zM430,361h6v2h-6zM462,361h4v2h-4zM472,361h2v2h-2zM498,361h2v2h-2zM508,361h2v2h-2zM518,361h2v2h-2zM526,361h2v2h-2zM556,361h4v2h-4zM584,361h2v2h-2zM212,363h4v2h-4z"/>
<path fill="rgb(82, 197, 212)" d="M256,349h2v2h-2zM268,349h2v2h-2zM284,349h4v2h-4zM268,351h2v2h-2zM292,351h6v2h-6zM268,353h2v2h-2zM278,353h2v2h-2zM292,353h2v2h-2zM296,353h2v2h-2zM290,355h8v2h-8zM206,357h2v2h-2zM286,357h2v2h-2zM292,357h2v2h-2zM306,357h2v2h-2zM212,359h4v2h-4zM234,359h2v2h-2zM246,359h2v2h-2zM250,359h2v2h-2zM312,359h2v2h-2zM210,361h6v2h-6zM288,361h2v2h-2zM216,363h2v2h-2zM236,363h2v2h-2zM286,363h4v2h-4zM312,363h2v2h-2zM182,365h2v2h-2zM212,365h6v2h-6zM236,365h2v2h-2zM250,365h2v2h-2zM262,365h2v2h-2zM246,367h2v2h-2zM262,367h2v2h-2z"/>
<path fill="rgb(126, 207, 160)" d="M294,353h2v2h-2zM184,359h6v2h-6zM194,359h4v2h-4zM206,359h2v2h-2zM210,359h2v2h-2zM218,359h6v2h-6zM236,359h2v2h-2zM244,359h2v2h-2zM248,359h2v2h-2zM252,359h2v2h-2zM266,359h12v2h-12zM288,359h2v2h-2zM296,359h2v2h-2zM302,359h2v2h-2zM374,359h2v2h-2zM566,359h2v2h-2zM186,361h2v2h-2zM192,361h2v2h-2zM196,361h4v2h-4zM204,361h2v2h-2zM208,361h2v2h-2zM218,361h6v2h-6zM234,361h2v2h-2zM238,361h2v2h-2zM246,361h2v2h-2zM250,361h4v2h-4zM266,361h6v2h-6zM274,361h2v2h-2zM282,361h6v2h-6zM290,361h2v2h-2zM300,361h2v2h-2zM564,361h2v2h-2zM606,361h2v2h-2zM182,363h2v2h-2zM196,363h2v2h-2zM206,363h6v2h-6zM218,363h2v2h-2zM222,363h4v2h-4zM238,363h2v2h-2zM260,363h6v2h-6zM280,363h6v2h-6zM180,365h2v2h-2zM184,365h4v2h-4zM196,365h2v2h-2zM204,365h2v2h-2zM228,365h2v2h-2zM232,365h4v2h-4zM238,365h2v2h-2zM246,365h4v2h-4zM252,365h2v2h-2zM258,365h4v2h-4zM272,365h2v2h-2zM284,365h2v2h-2zM304,365h2v2h-2zM308,365h6v2h-6zM182,367h4v2h-4zM202,367h2v2h-2zM206,367h2v2h-2zM214,367h2v2h-2zM228,367h4v2h-4zM234,367h2v2h-2zM238,367h2v2h-2zM244,367h2v2h-2zM248,367h8v2h-8zM258,367h4v2h-4zM270,367h4v2h-4zM282,367h2v2h-2zM306,367h8v2h-8z"/>
<path fill="rgb(171, 217, 111)" d="M180,359h4v2h-4zM190,359h4v2h-4zM198,359h6v2h-6zM208,359h2v2h-2zM224,359h4v2h-4zM232,359h2v2h-2zM242,359h2v2h-2zM254,359h2v2h-2zM278,359h6v2h-6zM286,359h2v2h-2zM290,359h6v2h-6zM300,359h2v2h-2zM304,359h2v2h-2zM310,359h2v2h-2zM322,359h2v2h-2zM336,359h2v2h-2zM480,359h2v2h-2zM514,359h2v2h-2zM552,359h2v2h-2zM180,361h6v2h-6zM188,361h4v2h-4zM194,361h2v2h-2zM200,361h2v2h-2zM206,361h2v2h-2zM232,361h2v2h-2zM242,361h2v2h-2zM248,361h2v2h-2zM262,361h4v2h-4zM272,361h2v2h-2zM276,361h2v2h-2zM280,361h2v2h-2zM292,361h4v2h-4zM298,361h2v2h-2zM302,361h4v2h-4zM310,361h2v2h-2zM390,361h2v2h-2zM598,361h2v2h-2zM614,361h2v2h-2zM188,363h8v2h-8zM200,363h2v2h-2zM220,363h2v2h-2zM226,363h2v2h-2zM230,363h4v2h-4zM244,363h6v2h-6zM252,363h4v2h-4zM258,363h2v2h-2zM266,363h2v2h-2zM274,363h6v2h-6zM292,363h2v2h-2zM302,363h2v2h-2zM306,363h6v2h-6zM188,365h8v2h-8zM198,365h6v2h-6zM206,365h6v2h-6zM220,365h8v2h-8zM240,365h2v2h-2zM244,365h2v2h-2zM256,365h2v2h-2zM274,365h2v2h-2zM280,365h4v2h-4zM286,365h6v2h-6zM300,365h4v2h-4zM306,365h2v2h-2zM180,367h2v2h-2zM186,367h8v2h-8zM196,367h6v2h-6zM204,367h2v2h-2zM212,367h2v2h-2zM216,367h4v2h-4zM224,367h4v2h-4zM240,367h2v2h-2zM256,367h2v2h-2zM274,367h2v2h-2zM278,367h4v2h-4zM298,367h8v2h-8z"/>
<path fill="rgb(225, 227, 74)" d="M204,359h2v2h-2zM216,359h2v2h-2zM230,359h2v2h-2zM238,359h4v2h-4zM258,359h8v2h-8zM284,359h2v2h-2zM308,359h2v2h-2zM382,359h2v2h-2zM394,359h2v2h-2zM424,359h2v2h-2zM476,359h2v2h-2zM486,359h2v2h-2zM526,359h2v2h-2zM542,359h2v2h-2zM584,359h2v2h-2zM602,359h2v2h-2zM622,359h2v2h-2zM216,361h2v2h-2zM226,361h6v2h-6zM240,361h2v2h-2zM254,361h6v2h-6zM306,361h4v2h-4zM378,361h2v2h-2zM496,361h2v2h-2zM500,361h2v2h-2zM596,361h2v2h-2zM228,363h2v2h-2zM240,363h4v2h-4zM256,363h2v2h-2zM294,363h8v2h-8zM266,365h4v2h-4zM276,365h4v2h-4zM294,365h6v2h-6zM208,367h4v2h-4zM220,367h2v2h-2zM232,367h2v2h-2zM264,367h2v2h-2zM268,367h2v2h-2zM276,367h2v2h-2zM286,367h10v2h-10z"/>
<path fill="rgb(246, 204, 50)" d="M228,359h2v2h-2zM256,359h2v2h-2zM464,359h2v2h-2zM494,359h2v2h-2zM536,359h2v2h-2zM224,361h2v2h-2zM244,361h2v2h-2zM384,361h2v2h-2zM474,361h2v2h-2zM480,361h2v2h-2zM536,361h2v2h-2zM184,363h2v2h-2zM234,363h2v2h-2zM268,363h2v2h-2zM272,363h2v2h-2zM242,365h2v2h-2zM194,367h2v2h-2zM242,367h2v2h-2zM266,367h2v2h-2z"/>
<path fill="rgb(245, 158, 35)" d="M306,359h2v2h-2zM472,359h2v2h-2zM492,359h2v2h-2zM496,359h2v2h-2zM296,361h2v2h-2zM488,361h2v2h-2zM180,363h2v2h-2zM198,363h2v2h-2zM202,363h2v2h-2zM250,363h2v2h-2zM270,363h2v2h-2zM304,363h2v2h-2zM254,365h2v2h-2zM292,365h2v2h-2z"/>
<path fill="rgb(230, 89, 35)" d="M478,359h2v2h-2zM530,359h2v2h-2zM236,361h2v2h-2zM260,361h2v2h-2zM460,361h2v2h-2zM204,363h2v2h-2zM284,367h2v2h-2zM296,367h2v2h-2z"/>
<path fill="rgb(206, 43, 32)" d="M298,359h2v2h-2zM474,359h2v2h-2zM524,359h2v2h-2zM202,361h2v2h-2zM466,361h4v2h-4zM476,361h4v2h-4zM490,361h2v2h-2zM186,363h2v2h-2zM290,363h2v2h-2zM218,365h2v2h-2zM230,365h2v2h-2zM264,365h2v2h-2zM222,367h2v2h-2z"/>
<path fill="rgb(168, 27, 27)" d="M278,361h2v2h-2zM270,365h2v2h-2zM236,367h2v2h-2z"/>
<defs><linearGradient id="jet" x1="0" y1="1" x2="0" y2="0"><stop offset="0" stop-color="#1a1f8a"/><stop offset="0.2" stop-color="#2d56a8"/><stop offset="0.34" stop-color="#26c3ee"/><stop offset="0.48" stop-color="#7cc48a"/><stop offset="0.62" stop-color="#f5e50a"/><stop offset="0.75" stop-color="#f6921e"/><stop offset="0.86" stop-color="#e8202a"/><stop offset="1" stop-color="#6e0a0a"/></linearGradient></defs>
<rect x="627.00" y="322.00" width="8.80" height="45.80" fill="url(#jet)" />
<text x="634.9" y="328.9" font-size="14" text-anchor="start" fill="#231f20" >1</text>
<text x="636.3" y="371.0" font-size="14" text-anchor="start" fill="#231f20" >0</text>
<path d="M181.0,405.6 L181.2,414.4 L181.5,406.3 L181.8,414.4 L182.0,406.5 L182.2,413.5 L182.5,402.7 L182.8,413.6 L183.0,406.3 L183.2,414.0 L183.5,406.1 L183.8,414.1 L184.0,405.5 L184.2,414.3 L184.5,406.2 L184.8,413.8 L185.0,406.7 L185.2,413.3 L185.5,403.4 L185.8,413.3 L186.0,406.6 L186.2,413.7 L186.5,405.9 L186.8,413.4 L187.0,406.3 L187.2,413.4 L187.5,406.1 L187.8,413.9 L188.0,406.3 L188.2,413.6 L188.5,406.7 L188.8,414.5 L189.0,406.0 L189.2,413.3 L189.5,405.6 L189.8,414.2 L190.0,406.5 L190.2,414.3 L190.5,406.3 L190.8,413.5 L191.0,405.6 L191.2,414.3 L191.5,406.5 L191.8,413.9 L192.0,406.7 L192.2,413.6 L192.5,405.5 L192.8,413.8 L193.0,405.5 L193.2,413.7 L193.5,406.5 L193.8,413.5 L194.0,405.6 L194.2,413.9 L194.5,406.7 L194.8,414.1 L195.0,405.7 L195.2,413.9 L195.5,406.3 L195.8,414.3 L196.0,406.2 L196.2,414.5 L196.5,406.6 L196.8,413.4 L197.0,406.6 L197.2,414.4 L197.5,406.3 L197.8,414.0 L198.0,405.4 L198.2,414.1 L198.5,406.2 L198.5,403.0 L198.7,420.0 L198.8,414.4 L199.0,406.4 L199.2,413.6 L199.5,406.4 L199.8,413.8 L200.0,406.3 L200.2,413.9 L200.5,406.2 L200.8,414.5 L201.0,406.1 L201.2,413.2 L201.5,406.8 L201.8,414.3 L202.0,405.8 L202.2,414.0 L202.5,406.0 L202.8,414.3 L203.0,406.4 L203.2,413.6 L203.5,406.0 L203.8,414.3 L204.0,405.9 L204.2,413.9 L204.5,406.2 L204.8,414.0 L205.0,405.8 L205.2,414.4 L205.5,406.0 L205.8,414.5 L206.0,406.6 L206.2,413.8 L206.5,406.7 L206.8,414.1 L207.0,406.6 L207.2,414.2 L207.5,405.6 L207.8,414.6 L208.0,406.2 L208.2,413.9 L208.5,406.6 L208.8,413.8 L209.0,406.5 L209.2,413.7 L209.5,406.0 L209.8,413.8 L210.0,405.9 L210.2,413.9 L210.5,405.7 L210.8,414.6 L211.0,406.7 L211.2,414.3 L211.5,406.2 L211.8,414.5 L212.0,406.6 L212.0,410.0 L212.2,418.0 L212.2,414.5 L212.5,406.7 L212.8,413.3 L213.0,406.7 L213.2,414.5 L213.5,406.7 L213.8,414.4 L214.0,406.2 L214.2,413.7 L214.5,406.4 L214.8,413.4 L215.0,406.6 L215.2,413.4 L215.5,406.3 L215.8,413.6 L216.0,406.1 L216.2,413.5 L216.5,406.4 L216.8,413.2 L217.0,406.5 L217.2,413.9 L217.5,405.6 L217.8,413.8 L218.0,406.2 L218.2,413.9 L218.5,406.3 L218.8,414.4 L219.0,406.2 L219.2,413.7 L219.5,406.7 L219.8,414.2 L220.0,406.7 L220.2,414.4 L220.5,406.4 L220.8,413.6 L221.0,406.6 L221.2,413.8 L221.5,405.4 L221.8,414.0 L222.0,403.4 L222.2,413.7 L222.5,406.1 L222.8,413.9 L223.0,406.8 L223.2,413.6 L223.5,406.7 L223.8,413.3 L224.0,406.0 L224.2,414.0 L224.5,405.8 L224.8,414.4 L225.0,405.4 L225.2,413.4 L225.5,406.7 L225.8,414.4 L226.0,405.8 L226.2,414.3 L226.5,406.1 L226.8,414.4 L227.0,406.0 L227.2,414.5 L227.5,406.5 L227.8,413.3 L228.0,406.6 L228.2,414.4 L228.5,405.9 L228.8,417.5 L229.0,405.7 L229.2,414.3 L229.5,405.9 L229.8,413.3 L230.0,406.7 L230.2,413.6 L230.5,405.8 L230.8,414.6 L231.0,406.1 L231.2,414.2 L231.5,405.9 L231.8,413.3 L232.0,405.8 L232.2,413.6 L232.5,406.7 L232.8,413.6 L233.0,405.8 L233.2,413.6 L233.5,406.1 L233.8,413.4 L234.0,405.4 L234.2,414.5 L234.5,405.6 L234.8,414.6 L235.0,406.5 L235.2,414.5 L235.5,406.6 L235.8,413.9 L236.0,405.6 L236.2,413.9 L236.5,406.5 L236.8,414.5 L237.0,406.8 L237.2,413.9 L237.5,406.6 L237.8,413.7 L238.0,406.8 L238.2,414.3 L238.5,405.5 L238.8,414.2 L239.0,406.3 L239.2,413.8 L239.5,406.3 L239.8,413.8 L240.0,406.6 L240.2,414.4 L240.5,406.4 L240.8,413.6 L241.0,406.3 L241.0,410.0 L241.2,417.0 L241.2,414.5 L241.5,405.9 L241.8,414.5 L242.0,405.8 L242.2,413.3 L242.5,405.7 L242.8,414.1 L243.0,405.5 L243.2,413.4 L243.5,406.4 L243.8,414.2 L244.0,405.9 L244.2,413.6 L244.5,406.5 L244.8,413.4 L245.0,406.1 L245.2,413.5 L245.5,406.2 L245.8,413.4 L246.0,406.3 L246.2,413.3 L246.5,406.0 L246.8,414.4 L247.0,406.2 L247.2,413.9 L247.5,406.7 L247.8,413.6 L248.0,406.1 L248.2,414.1 L248.5,406.4 L248.8,413.6 L249.0,405.5 L249.2,414.4 L249.5,406.7 L249.8,414.2 L250.0,406.0 L250.2,413.2 L250.5,405.6 L250.8,414.4 L251.0,406.6 L251.2,413.4 L251.5,405.5 L251.8,414.2 L252.0,406.1 L252.2,414.0 L252.5,406.5 L252.8,414.5 L253.0,406.6 L253.2,413.6 L253.5,406.6 L253.8,413.3 L254.0,406.2 L254.2,413.5 L254.5,406.4 L254.8,413.9 L255.0,405.6 L255.2,413.9 L255.5,405.5 L255.8,414.2 L256.0,406.1 L256.2,414.2 L256.5,405.9 L256.8,414.5 L257.0,406.3 L257.2,413.8 L257.5,405.7 L257.8,414.2 L258.0,405.4 L258.2,413.7 L258.5,406.5 L258.8,414.3 L259.0,406.1 L259.2,413.5 L259.5,405.9 L259.8,414.5 L260.0,406.5 L260.2,414.6 L260.5,406.7 L260.8,413.8 L261.0,405.8 L261.2,414.6 L261.5,406.5 L261.8,414.5 L262.0,405.9 L262.2,413.7 L262.5,406.5 L262.8,413.2 L263.0,405.5 L263.2,413.4 L263.5,406.3 L263.8,414.4 L264.0,406.7 L264.2,413.9 L264.5,406.5 L264.8,413.7 L265.0,406.2 L265.2,414.3 L265.5,406.7 L265.8,413.3 L266.0,405.7 L266.2,414.5 L266.5,405.5 L266.8,414.1 L267.0,403.4 L267.2,413.6 L267.5,405.5 L267.8,414.1 L268.0,406.5 L268.2,413.9 L268.5,406.2 L268.8,413.6 L269.0,405.5 L269.2,413.5 L269.5,405.6 L269.8,414.3 L270.0,406.3 L270.2,413.7 L270.5,406.5 L270.8,414.3 L271.0,406.7 L271.2,414.0 L271.5,405.6 L271.8,414.6 L272.0,406.6 L272.2,413.9 L272.5,406.5 L272.8,413.8 L273.0,405.7 L273.2,414.4 L273.5,405.6 L273.8,413.6 L274.0,405.8 L274.2,413.5 L274.5,406.6 L274.8,414.4 L275.0,406.2 L275.2,414.6 L275.5,405.7 L275.8,414.1 L276.0,406.1 L276.2,414.4 L276.5,406.7 L276.8,413.6 L277.0,405.4 L277.2,414.0 L277.5,405.6 L277.8,413.8 L278.0,405.5 L278.2,413.4 L278.5,406.5 L278.8,413.7 L279.0,406.4 L279.2,414.0 L279.5,406.8 L279.8,413.7 L280.0,406.3 L280.2,413.5 L280.5,406.7 L280.8,413.4 L281.0,405.9 L281.2,413.3 L281.5,406.2 L281.8,413.6 L282.0,406.3 L282.2,414.0 L282.5,405.6 L282.8,414.6 L283.0,402.4 L283.2,413.5 L283.5,406.2 L283.8,414.4 L284.0,406.1 L284.2,413.4 L284.5,405.9 L284.8,414.5 L285.0,406.3 L285.2,413.9 L285.5,406.1 L285.8,414.5 L286.0,405.7 L286.2,414.6 L286.5,405.5 L286.8,414.6 L287.0,405.5 L287.2,413.8 L287.5,405.6 L287.8,413.4 L288.0,406.2 L288.2,414.4 L288.5,406.5 L288.8,413.8 L289.0,406.6 L289.2,413.6 L289.5,406.7 L289.8,414.0 L290.0,405.6 L290.2,413.4 L290.5,405.9 L290.8,413.6 L291.0,406.2 L291.2,414.1 L291.5,406.7 L291.8,414.1 L292.0,405.7 L292.2,414.3 L292.5,406.1 L292.8,413.4 L293.0,406.7 L293.2,413.8 L293.5,405.9 L293.8,413.3 L294.0,406.1 L294.2,413.3 L294.5,405.5 L294.8,413.4 L295.0,405.8 L295.2,414.3 L295.5,406.1 L295.8,414.5 L296.0,405.7 L296.2,414.5 L296.5,405.7 L296.8,413.4 L297.0,405.7 L297.2,413.4 L297.5,406.5 L297.8,413.6 L298.0,406.7 L298.2,413.5 L298.5,405.8 L298.8,414.5 L299.0,406.6 L299.2,414.0 L299.5,405.6 L299.8,414.0 L300.0,406.6 L300.2,414.6 L300.5,405.7 L300.8,413.6 L301.0,406.3 L301.2,414.3 L301.5,405.8 L301.8,413.3 L302.0,405.9 L302.2,414.6 L302.5,406.3 L302.8,413.2 L303.0,405.9 L303.2,413.8 L303.5,406.6 L303.8,413.5 L304.0,406.8 L304.2,413.7 L304.5,406.5 L304.8,414.0 L305.0,405.9 L305.2,413.9 L305.5,406.4 L305.8,413.4 L306.0,405.6 L306.2,414.3 L306.5,406.8 L306.8,414.1 L307.0,405.9 L307.2,413.8 L307.5,406.4 L307.8,414.5 L308.0,406.2 L308.2,413.5 L308.5,406.8 L308.8,414.0 L309.0,406.5 L309.2,414.1 L309.5,405.7 L309.8,413.5 L310.0,406.7 L310.2,414.4 L310.5,406.8 L310.8,414.4 L311.0,405.8 L311.2,413.8 L311.5,406.5 L311.8,413.3 L312.0,404.5 L312.2,415.7 L312.5,404.8 L312.5,402.0 L312.7,414.0 L312.8,415.0 L313.0,405.3 L313.2,415.4 L313.5,404.2 L313.8,414.2 L314.0,404.5 L314.2,415.9 L314.5,404.2 L314.8,414.8 L315.0,404.7 L315.2,415.4 L315.5,405.0 L315.8,415.7 L316.0,405.0 L316.2,415.5 L316.5,405.4 L316.8,415.3 L317.0,405.5 L317.2,414.2 L317.5,405.2 L317.8,414.5 L318.0,404.6 L318.2,415.3 L318.5,405.7 L318.8,415.3 L319.0,404.3 L319.2,415.8 L319.5,404.2 L319.8,415.9 L320.0,405.6 L320.2,414.3 L320.5,404.7 L320.8,415.7 L321.0,405.6 L321.2,414.4 L321.5,405.2 L321.8,415.0 L322.0,405.3 L322.2,415.5 L322.5,404.1 L322.8,415.1 L323.0,402.6 L323.0,400.0 L323.2,420.0 L323.2,418.7 L323.5,401.6 L323.8,419.6 L324.0,399.9 L324.2,417.6 L324.5,402.6 L324.8,418.0 L325.0,402.6 L325.2,418.9 L325.5,402.1 L325.8,418.9 L326.0,401.8 L326.2,420.3 L326.5,400.4 L326.8,418.9 L327.0,402.4 L327.2,419.8 L327.5,400.7 L327.8,418.5 L328.0,399.8 L328.2,423.7 L328.5,402.0 L328.8,418.2 L329.0,401.5 L329.2,420.1 L329.5,401.0 L329.8,419.7 L330.0,401.6 L330.0,402.0 L330.2,410.0 L330.2,418.4 L330.5,400.6 L330.8,419.7 L331.0,400.2 L331.2,419.2 L331.5,399.9 L331.8,418.1 L332.0,400.4 L332.2,420.0 L332.5,401.9 L332.8,418.4 L333.0,401.6 L333.2,417.9 L333.5,402.3 L333.8,420.4 L334.0,399.6 L334.2,419.9 L334.5,402.0 L334.8,419.4 L335.0,401.4 L335.2,417.5 L335.5,400.5 L335.8,418.9 L336.0,402.2 L336.2,419.3 L336.5,399.8 L336.8,418.7 L337.0,401.3 L337.2,418.1 L337.5,400.2 L337.8,419.6 L338.0,400.6 L338.2,418.8 L338.5,402.3 L338.8,418.7 L339.0,400.7 L339.2,418.1 L339.5,400.7 L339.8,418.6 L340.0,402.1 L340.2,419.4 L340.5,394.0 L340.8,420.4 L341.0,402.1 L341.2,419.8 L341.5,402.3 L341.8,419.2 L342.0,401.0 L342.2,419.4 L342.5,401.4 L342.8,420.3 L343.0,401.4 L343.2,419.8 L343.5,401.5 L343.8,417.5 L344.0,402.6 L344.2,418.7 L344.5,401.5 L344.8,418.2 L345.0,399.7 L345.2,419.0 L345.5,401.4 L345.8,418.0 L346.0,400.1 L346.2,419.3 L346.5,401.9 L346.8,420.4 L347.0,400.1 L347.2,419.9 L347.5,400.9 L347.8,417.7 L348.0,400.0 L348.2,418.2 L348.5,394.4 L348.8,417.9 L349.0,401.8 L349.2,418.1 L349.5,401.3 L349.8,419.4 L350.0,391.5 L350.2,420.0 L350.5,399.8 L350.8,419.8 L351.0,393.2 L351.2,417.4 L351.5,400.6 L351.8,418.1 L352.0,401.9 L352.2,419.8 L352.5,399.8 L352.8,419.8 L353.0,400.7 L353.2,419.8 L353.5,400.2 L353.8,420.0 L354.0,401.0 L354.2,419.7 L354.5,400.9 L354.8,418.2 L355.0,401.1 L355.2,417.5 L355.5,401.1 L355.8,418.9 L356.0,402.6 L356.2,420.0 L356.5,400.6 L356.8,420.0 L357.0,399.6 L357.2,417.6 L357.5,402.6 L357.8,419.3 L358.0,401.6 L358.2,420.4 L358.5,399.8 L358.8,417.5 L359.0,401.6 L359.2,420.1 L359.5,401.0 L359.8,419.8 L360.0,401.3 L360.2,419.1 L360.5,400.0 L360.8,418.6 L361.0,401.1 L361.2,420.4 L361.5,401.6 L361.8,418.3 L362.0,393.2 L362.2,419.8 L362.5,391.7 L362.8,419.1 L363.0,402.6 L363.2,417.9 L363.5,400.6 L363.8,419.8 L364.0,400.7 L364.2,419.3 L364.5,400.5 L364.8,418.0 L365.0,400.2 L365.2,423.8 L365.5,400.2 L365.8,420.2 L366.0,400.1 L366.2,419.8 L366.5,401.7 L366.8,418.7 L367.0,393.1 L367.2,420.3 L367.5,402.5 L367.8,417.7 L368.0,391.6 L368.2,418.8 L368.5,400.8 L368.8,420.3 L369.0,401.4 L369.2,417.7 L369.5,395.9 L369.8,417.4 L370.0,402.3 L370.2,420.4 L370.5,402.2 L370.8,417.4 L371.0,392.6 L371.2,417.9 L371.5,400.4 L371.8,420.0 L372.0,400.7 L372.2,419.6 L372.5,401.8 L372.8,428.7 L373.0,402.6 L373.2,419.4 L373.5,401.7 L373.8,419.6 L374.0,401.1 L374.2,417.5 L374.5,401.3 L374.8,419.5 L375.0,401.5 L375.2,419.4 L375.5,401.4 L375.8,419.8 L376.0,400.9 L376.2,418.3 L376.5,400.4 L376.8,420.0 L377.0,399.6 L377.2,420.0 L377.5,401.3 L377.8,420.1 L378.0,400.8 L378.2,420.2 L378.5,402.6 L378.8,418.2 L379.0,392.1 L379.2,420.1 L379.5,400.1 L379.8,420.1 L380.0,400.0 L380.2,419.9 L380.5,401.6 L380.8,417.6 L381.0,402.0 L381.2,419.7 L381.5,400.7 L381.8,419.5 L382.0,401.8 L382.2,419.7 L382.5,402.4 L382.8,419.9 L383.0,400.8 L383.2,420.2 L383.5,401.1 L383.8,419.2 L384.0,402.1 L384.2,419.6 L384.5,401.4 L384.8,426.2 L385.0,399.5 L385.2,418.5 L385.5,400.2 L385.8,417.8 L386.0,393.8 L386.2,417.4 L386.5,399.9 L386.8,418.9 L387.0,400.2 L387.2,418.7 L387.5,400.1 L387.8,428.7 L388.0,402.0 L388.2,424.3 L388.5,400.9 L388.8,420.1 L389.0,399.8 L389.2,417.6 L389.5,402.3 L389.8,420.4 L390.0,400.6 L390.2,420.4 L390.5,401.2 L390.8,417.9 L391.0,402.0 L391.2,417.5 L391.5,399.8 L391.8,428.4 L392.0,400.2 L392.2,419.6 L392.5,402.5 L392.8,417.8 L393.0,400.5 L393.2,418.3 L393.5,402.3 L393.8,418.4 L394.0,401.1 L394.2,417.9 L394.5,400.5 L394.8,417.4 L395.0,402.5 L395.2,420.3 L395.5,399.9 L395.8,420.1 L396.0,402.3 L396.2,420.3 L396.5,401.2 L396.8,418.4 L397.0,400.7 L397.2,424.0 L397.5,400.4 L397.8,419.1 L398.0,401.8 L398.2,418.6 L398.5,400.0 L398.8,418.4 L399.0,401.6 L399.2,420.2 L399.5,402.5 L399.8,420.2 L400.0,401.1 L400.2,418.3 L400.5,401.5 L400.8,420.5 L401.0,402.3 L401.2,424.9 L401.5,400.4 L401.8,424.9 L402.0,400.1 L402.2,425.2 L402.5,400.0 L402.8,419.0 L403.0,399.8 L403.2,418.0 L403.5,402.1 L403.8,419.8 L404.0,402.4 L404.2,417.6 L404.5,401.8 L404.8,418.0 L405.0,400.1 L405.2,419.2 L405.5,400.3 L405.8,425.5 L406.0,400.1 L406.2,418.4 L406.5,401.1 L406.8,417.4 L407.0,399.9 L407.2,418.2 L407.5,401.5 L407.8,417.9 L408.0,402.6 L408.2,419.0 L408.5,402.3 L408.8,419.6 L409.0,401.6 L409.2,419.6 L409.5,402.5 L409.8,420.1 L410.0,401.0 L410.2,426.2 L410.5,399.6 L410.8,418.1 L411.0,395.3 L411.2,419.9 L411.5,392.8 L411.8,418.0 L412.0,400.8 L412.2,419.0 L412.5,391.8 L412.8,419.6 L413.0,401.1 L413.2,418.9 L413.5,401.4 L413.8,417.8 L414.0,402.2 L414.2,419.2 L414.5,400.0 L414.8,420.3 L415.0,400.0 L415.2,419.0 L415.5,400.2 L415.8,418.4 L416.0,401.3 L416.2,420.4 L416.5,392.1 L416.8,420.0 L417.0,399.6 L417.2,420.3 L417.5,400.7 L417.8,418.5 L418.0,394.3 L418.2,418.9 L418.5,399.6 L418.8,419.8 L419.0,400.1 L419.2,428.2 L419.5,400.6 L419.8,418.2 L420.0,400.9 L420.2,420.3 L420.5,401.0 L420.8,418.7 L421.0,401.7 L421.2,419.4 L421.5,399.6 L421.8,419.0 L422.0,401.0 L422.2,417.8 L422.5,401.7 L422.8,418.6 L423.0,402.4 L423.2,419.1 L423.5,400.9 L423.8,419.4 L424.0,401.2 L424.2,419.1 L424.5,401.7 L424.8,418.1 L425.0,394.6 L425.2,419.2 L425.5,399.9 L425.8,418.1 L426.0,401.8 L426.2,420.5 L426.5,402.2 L426.8,417.6 L427.0,402.5 L427.2,418.6 L427.5,402.3 L427.8,418.1 L428.0,402.2 L428.2,418.4 L428.5,400.7 L428.8,420.0 L429.0,400.3 L429.2,419.7 L429.5,400.2 L429.8,419.6 L430.0,399.9 L430.2,417.4 L430.5,401.1 L430.8,420.4 L431.0,400.2 L431.2,420.1 L431.5,401.2 L431.8,418.8 L432.0,401.4 L432.2,419.1 L432.5,400.2 L432.8,420.0 L433.0,402.1 L433.2,418.3 L433.5,400.8 L433.8,417.6 L434.0,400.0 L434.2,420.0 L434.5,394.4 L434.8,428.4 L435.0,400.9 L435.2,418.9 L435.5,401.0 L435.8,420.5 L436.0,400.5 L436.2,418.6 L436.5,401.5 L436.8,420.3 L437.0,402.3 L437.2,418.5 L437.5,400.8 L437.8,420.1 L438.0,401.3 L438.2,419.3 L438.5,401.0 L438.8,419.9 L439.0,399.6 L439.2,420.0 L439.5,399.8 L439.8,419.5 L440.0,399.9 L440.2,418.7 L440.5,401.0 L440.8,418.9 L441.0,400.7 L441.2,419.2 L441.5,400.6 L441.8,417.5 L442.0,395.0 L442.2,419.5 L442.5,400.0 L442.8,419.2 L443.0,401.1 L443.2,419.1 L443.5,401.0 L443.8,420.5 L444.0,402.3 L444.2,417.8 L444.5,402.3 L444.8,417.9 L445.0,400.7 L445.2,427.8 L445.5,400.2 L445.8,418.4 L446.0,402.1 L446.2,418.2 L446.5,400.8 L446.8,418.4 L447.0,402.5 L447.2,420.2 L447.5,401.3 L447.8,426.7 L448.0,399.7 L448.2,420.0 L448.5,400.1 L448.8,418.3 L449.0,401.1 L449.2,420.3 L449.5,400.4 L449.8,418.0 L450.0,401.1 L450.2,419.8 L450.5,401.5 L450.8,417.9 L451.0,400.9 L451.2,417.7 L451.5,401.4 L451.8,417.6 L452.0,401.5 L452.2,418.1 L452.5,401.9 L452.8,417.5 L453.0,402.2 L453.2,419.6 L453.5,400.0 L453.8,417.8 L454.0,400.1 L454.2,417.9 L454.5,401.5 L454.8,420.4 L455.0,401.1 L455.2,418.1 L455.5,400.4 L455.8,418.2 L456.0,401.5 L456.2,418.1 L456.5,399.9 L456.8,417.7 L457.0,400.2 L457.2,421.6 L457.5,399.1 L457.8,419.9 L458.0,400.6 L458.2,421.9 L458.5,400.8 L458.8,420.9 L459.0,400.1 L459.2,419.0 L459.5,400.8 L459.8,421.4 L460.0,397.8 L460.2,421.7 L460.5,393.4 L460.8,419.8 L461.0,398.8 L461.2,420.1 L461.5,398.6 L461.8,419.7 L462.0,398.9 L462.2,419.4 L462.5,389.3 L462.8,430.6 L463.0,400.6 L463.2,419.5 L463.5,401.1 L463.8,419.9 L464.0,398.1 L464.2,420.9 L464.5,399.6 L464.8,430.4 L465.0,398.1 L465.2,431.0 L465.5,388.5 L465.8,421.0 L466.0,400.8 L466.2,421.7 L466.5,398.4 L466.8,419.1 L467.0,398.4 L467.2,421.9 L467.5,397.7 L467.8,420.3 L468.0,398.5 L468.2,421.9 L468.5,401.0 L468.8,421.4 L469.0,397.8 L469.2,426.6 L469.5,398.6 L469.8,421.8 L470.0,397.6 L470.2,421.1 L470.5,401.0 L470.8,420.1 L471.0,400.1 L471.2,419.3 L471.5,400.4 L471.8,419.7 L472.0,397.7 L472.2,420.1 L472.5,400.7 L472.8,420.9 L473.0,399.2 L473.2,421.6 L473.5,399.0 L473.8,420.5 L474.0,400.8 L474.2,419.8 L474.5,401.0 L474.8,419.8 L475.0,399.6 L475.2,419.2 L475.5,399.9 L475.8,426.9 L476.0,397.5 L476.2,421.6 L476.5,397.6 L476.8,420.9 L477.0,399.6 L477.2,427.0 L477.5,397.8 L477.8,421.2 L478.0,398.8 L478.2,419.7 L478.5,401.1 L478.8,421.7 L479.0,400.6 L479.2,421.1 L479.5,400.6 L479.8,421.7 L480.0,400.0 L480.2,419.4 L480.5,399.9 L480.8,420.8 L481.0,400.4 L481.2,418.9 L481.5,398.2 L481.8,421.4 L482.0,399.4 L482.2,420.6 L482.5,399.1 L482.8,419.1 L483.0,399.6 L483.2,432.3 L483.5,399.6 L483.8,427.0 L484.0,398.1 L484.2,422.0 L484.5,400.2 L484.8,421.2 L485.0,400.0 L485.2,420.4 L485.5,397.9 L485.8,419.4 L486.0,399.1 L486.2,420.1 L486.5,400.0 L486.8,420.5 L487.0,398.0 L487.2,422.4 L487.5,398.2 L487.8,419.0 L488.0,400.1 L488.2,420.9 L488.5,398.8 L488.8,419.9 L489.0,401.1 L489.2,419.5 L489.5,400.9 L489.8,421.2 L490.0,399.7 L490.2,420.7 L490.5,400.8 L490.8,419.4 L491.0,400.8 L491.2,422.0 L491.5,399.3 L491.8,419.7 L492.0,400.4 L492.2,420.9 L492.5,399.0 L492.8,419.1 L493.0,399.6 L493.2,422.0 L493.5,398.4 L493.8,419.2 L494.0,400.9 L494.2,421.9 L494.5,397.6 L494.8,420.9 L495.0,398.3 L495.2,419.0 L495.5,401.2 L495.8,421.0 L496.0,398.6 L496.2,420.3 L496.5,398.0 L496.8,420.9 L497.0,400.6 L497.2,421.5 L497.5,398.7 L497.8,421.8 L498.0,400.3 L498.2,428.6 L498.5,400.7 L498.8,417.7 L499.0,402.3 L499.2,420.3 L499.5,402.0 L499.8,418.8 L500.0,402.3 L500.2,417.4 L500.5,402.1 L500.8,419.1 L501.0,401.5 L501.2,417.8 L501.5,400.5 L501.8,427.8 L502.0,401.6 L502.2,417.8 L502.5,400.1 L502.8,417.5 L503.0,400.5 L503.2,418.6 L503.5,400.0 L503.8,418.6 L504.0,402.4 L504.2,418.4 L504.5,400.8 L504.8,417.5 L505.0,401.2 L505.2,419.2 L505.5,402.6 L505.8,426.5 L506.0,394.2 L506.2,420.5 L506.5,400.5 L506.8,418.2 L507.0,401.8 L507.2,419.1 L507.5,399.5 L507.8,417.5 L508.0,399.9 L508.2,419.8 L508.5,401.5 L508.8,418.2 L509.0,399.7 L509.2,419.5 L509.5,400.3 L509.8,419.0 L510.0,400.9 L510.2,418.6 L510.5,401.6 L510.8,420.5 L511.0,401.9 L511.2,418.1 L511.5,402.6 L511.8,420.1 L512.0,400.9 L512.2,418.3 L512.5,401.7 L512.8,418.3 L513.0,399.7 L513.2,418.4 L513.5,402.4 L513.8,417.9 L514.0,401.5 L514.2,419.8 L514.5,402.4 L514.8,418.9 L515.0,401.8 L515.2,417.4 L515.5,400.4 L515.8,418.0 L516.0,400.8 L516.2,420.1 L516.5,400.3 L516.8,420.4 L517.0,400.1 L517.2,420.1 L517.5,402.1 L517.8,419.0 L518.0,399.7 L518.2,418.0 L518.5,400.6 L518.8,418.6 L519.0,399.7 L519.2,416.6 L519.5,403.6 L519.8,416.8 L520.0,403.3 L520.2,415.6 L520.5,402.0 L520.8,415.7 L521.0,403.6 L521.2,415.8 L521.5,402.6 L521.8,415.8 L522.0,403.1 L522.2,417.0 L522.5,403.0 L522.8,416.4 L523.0,402.7 L523.2,417.4 L523.5,402.5 L523.8,417.9 L524.0,403.1 L524.2,424.1 L524.5,403.3 L524.8,417.2 L525.0,402.0 L525.2,416.1 L525.5,404.3 L525.8,415.9 L526.0,403.1 L526.2,416.0 L526.5,404.0 L526.8,416.0 L527.0,404.0 L527.2,415.7 L527.5,402.0 L527.8,416.8 L528.0,402.5 L528.2,416.7 L528.5,404.1 L528.8,417.4 L529.0,398.2 L529.2,417.7 L529.5,403.4 L529.8,417.8 L530.0,403.9 L530.2,416.2 L530.5,403.8 L530.8,416.1 L531.0,403.7 L531.2,418.0 L531.5,404.0 L531.8,417.7 L532.0,402.6 L532.2,417.6 L532.5,403.2 L532.8,417.7 L533.0,403.0 L533.2,416.7 L533.5,403.9 L533.8,417.7 L534.0,402.3 L534.2,416.0 L534.5,403.7 L534.8,415.7 L535.0,404.4 L535.2,417.8 L535.5,404.2 L535.8,416.0 L536.0,403.6 L536.2,417.8 L536.5,402.0 L536.8,415.7 L537.0,400.5 L537.2,417.5 L537.5,394.3 L537.8,417.7 L538.0,401.7 L538.2,420.1 L538.5,402.2 L538.8,418.7 L539.0,402.2 L539.2,419.7 L539.5,401.5 L539.8,418.9 L540.0,402.0 L540.2,420.4 L540.5,401.8 L540.8,417.9 L541.0,402.5 L541.2,419.0 L541.5,401.5 L541.8,417.4 L542.0,400.9 L542.2,419.1 L542.5,399.9 L542.8,419.6 L543.0,401.3 L543.2,420.4 L543.5,401.4 L543.8,424.0 L544.0,400.7 L544.2,420.3 L544.5,401.5 L544.8,418.1 L545.0,400.0 L545.2,427.7 L545.5,400.5 L545.8,418.4 L546.0,395.0 L546.2,420.4 L546.5,400.0 L546.8,419.0 L547.0,401.9 L547.2,419.3 L547.5,400.4 L547.8,418.6 L548.0,400.5 L548.2,418.4 L548.5,401.9 L548.8,419.3 L549.0,401.2 L549.2,419.6 L549.5,402.0 L549.8,417.8 L550.0,401.0 L550.2,419.0 L550.5,402.1 L550.8,419.9 L551.0,400.0 L551.2,428.3 L551.5,401.4 L551.8,420.0 L552.0,402.2 L552.2,418.1 L552.5,400.1 L552.8,419.0 L553.0,401.4 L553.2,420.5 L553.5,401.1 L553.8,419.9 L554.0,400.5 L554.2,418.5 L554.5,401.5 L554.8,425.2 L555.0,395.6 L555.2,419.1 L555.5,400.4 L555.8,418.2 L556.0,400.0 L556.2,417.6 L556.5,402.0 L556.8,418.7 L557.0,401.5 L557.2,417.5 L557.5,400.4 L557.8,418.3 L558.0,400.1 L558.2,418.5 L558.5,399.7 L558.8,418.0 L559.0,401.5 L559.2,419.4 L559.5,400.3 L559.8,418.5 L560.0,391.7 L560.2,419.7 L560.5,401.2 L560.8,418.8 L561.0,401.2 L561.2,420.2 L561.5,401.0 L561.8,419.9 L562.0,401.4 L562.2,417.5 L562.5,400.2 L562.8,419.8 L563.0,402.4 L563.2,419.9 L563.5,392.5 L563.8,419.1 L564.0,392.7 L564.2,418.9 L564.5,401.3 L564.8,419.2 L565.0,399.9 L565.2,417.8 L565.5,402.6 L565.8,420.5 L566.0,401.7 L566.2,418.2 L566.5,393.9 L566.8,418.7 L567.0,399.9 L567.2,419.9 L567.5,402.0 L567.8,417.5 L568.0,401.2 L568.2,418.9 L568.5,400.1 L568.8,418.0 L569.0,402.5 L569.2,418.3 L569.5,400.9 L569.8,418.4 L570.0,401.7 L570.2,419.6 L570.5,401.2 L570.8,420.3 L571.0,402.5 L571.2,425.7 L571.5,399.9 L571.8,417.6 L572.0,399.7 L572.2,419.1 L572.5,400.5 L572.8,419.5 L573.0,400.0 L573.2,417.8 L573.5,402.3 L573.8,417.6 L574.0,401.3 L574.2,419.4 L574.5,392.9 L574.8,417.8 L575.0,402.5 L575.2,420.0 L575.5,400.8 L575.8,418.4 L576.0,399.8 L576.2,418.4 L576.5,400.1 L576.8,428.8 L577.0,401.5 L577.2,419.4 L577.5,402.4 L577.8,418.8 L578.0,400.5 L578.2,417.7 L578.5,399.7 L578.8,420.5 L579.0,401.7 L579.2,418.4 L579.5,399.7 L579.8,417.6 L580.0,400.8 L580.2,419.1 L580.5,401.8 L580.8,420.2 L581.0,399.7 L581.2,417.5 L581.5,401.6 L581.8,428.6 L582.0,401.6 L582.2,418.8 L582.5,402.1 L582.8,419.8 L583.0,400.9 L583.2,417.7 L583.5,393.4 L583.8,418.8 L584.0,402.3 L584.2,419.4 L584.5,401.5 L584.8,418.5 L585.0,402.1 L585.2,420.3 L585.5,399.9 L585.8,418.9 L586.0,399.9 L586.2,417.7 L586.5,402.3 L586.8,418.8 L587.0,401.1 L587.2,418.5 L587.5,402.0 L587.8,417.8 L588.0,393.9 L588.2,420.2 L588.5,401.1 L588.8,419.8 L589.0,401.9 L589.2,419.7 L589.5,402.6 L589.8,418.6 L590.0,399.8 L590.2,417.6 L590.5,400.8 L590.8,419.8 L591.0,401.9 L591.2,426.6 L591.5,400.7 L591.8,419.5 L592.0,400.1 L592.2,425.8 L592.5,399.7 L592.8,418.6 L593.0,401.9 L593.2,419.7 L593.5,401.6 L593.8,417.8 L594.0,401.6 L594.2,420.4 L594.5,401.1 L594.8,418.9 L595.0,400.3 L595.2,419.4 L595.5,400.0 L595.8,419.8 L596.0,401.6 L596.2,417.9 L596.5,400.3 L596.8,417.8 L597.0,399.8 L597.2,419.7 L597.5,400.8 L597.8,418.7 L598.0,399.9 L598.2,418.3 L598.5,399.7 L598.8,417.7 L599.0,401.9 L599.2,420.0 L599.5,401.2 L599.8,418.1 L600.0,400.5 L600.2,419.6 L600.5,400.2 L600.8,419.5 L601.0,401.4 L601.2,417.6 L601.5,401.6 L601.8,419.2 L602.0,396.7 L602.2,418.9 L602.5,400.1 L602.8,418.7 L603.0,401.6 L603.2,418.0 L603.5,400.7 L603.8,418.3 L604.0,400.4 L604.2,418.7 L604.5,396.1 L604.8,419.5 L605.0,402.1 L605.2,418.2 L605.5,401.9 L605.8,420.2 L606.0,401.4 L606.2,418.9 L606.5,399.5 L606.8,417.9 L607.0,401.0 L607.2,417.4 L607.5,401.2 L607.8,419.9 L608.0,402.3 L608.2,419.1 L608.5,401.5 L608.8,420.3 L609.0,402.4 L609.2,419.3 L609.5,401.5 L609.8,419.4 L610.0,401.0 L610.2,419.5 L610.5,394.7 L610.8,420.4 L611.0,400.5 L611.2,419.1 L611.5,399.8 L611.8,427.4 L612.0,401.6 L612.2,417.8 L612.5,402.2 L612.8,426.6 L613.0,401.4 L613.2,419.7 L613.5,400.2 L613.8,418.3 L614.0,399.6 L614.2,419.4 L614.5,401.5 L614.8,420.4 L615.0,401.8 L615.2,417.9 L615.5,400.1 L615.8,418.4 L616.0,399.9 L616.2,417.9 L616.5,401.7 L616.8,417.5 L617.0,399.6 L617.2,420.4 L617.5,399.7 L617.8,418.0 L618.0,402.3 L618.2,418.2 L618.5,399.6 L618.8,418.2 L619.0,401.2 L619.2,420.0 L619.5,401.7 L619.8,417.8 L620.0,400.9 L620.2,419.5 L620.5,401.5 L620.8,420.2 L621.0,400.7 L621.2,424.7 L621.5,400.0 L621.8,419.1 L622.0,401.8 L622.2,418.1 L622.5,400.3 L622.8,419.5 L623.0,402.3 L623.2,418.3 L623.5,400.7 L623.8,419.5" fill="none" stroke="#000" stroke-width="0.9" />
<path d="M201.3,442.4 L233.7,442.4 L233.7,453.2" fill="none" stroke="#231f20" stroke-width="1" />
<text x="198.3" y="456.5" font-size="15" text-anchor="start" fill="#231f20" >50 s</text>
<text x="235.5" y="454.5" font-size="15" text-anchor="start" fill="#231f20" >1 mV</text>
<text x="653.2" y="206.6" font-size="21.5" font-weight="bold" fill="#231f20" transform="translate(653.2 206.6) scale(0.8 1) translate(-653.2 -206.6)">E</text>
<text x="819.2" y="209.5" font-size="17.7" text-anchor="middle" fill="#231f20" >Translation (a.u.)</text>
<line x1="732.3" y1="235.3" x2="898.5" y2="235.3" stroke="#3a3a3a" stroke-width="1" />
<line x1="732.3" y1="235.3" x2="732.3" y2="400.3" stroke="#3a3a3a" stroke-width="1" />
<line x1="736.5" y1="235.3" x2="736.5" y2="238.3" stroke="#3a3a3a" stroke-width="1" />
<line x1="791.2" y1="235.3" x2="791.2" y2="238.3" stroke="#3a3a3a" stroke-width="1" />
<line x1="845.0" y1="235.3" x2="845.0" y2="238.3" stroke="#3a3a3a" stroke-width="1" />
<line x1="898.5" y1="235.3" x2="898.5" y2="238.3" stroke="#3a3a3a" stroke-width="1" />
<line x1="732.3" y1="236.0" x2="735.3" y2="236.0" stroke="#3a3a3a" stroke-width="1" />
<line x1="732.3" y1="290.4" x2="735.3" y2="290.4" stroke="#3a3a3a" stroke-width="1" />
<line x1="732.3" y1="345.0" x2="735.3" y2="345.0" stroke="#3a3a3a" stroke-width="1" />
<line x1="732.3" y1="399.8" x2="735.3" y2="399.8" stroke="#3a3a3a" stroke-width="1" />
<text x="741.0" y="231.8" font-size="15.6" text-anchor="middle" fill="#231f20" textLength="37.6" lengthAdjust="spacingAndGlyphs">0.001</text>
<text x="793.8" y="231.8" font-size="15.6" text-anchor="middle" fill="#231f20" textLength="29.6" lengthAdjust="spacingAndGlyphs">0.01</text>
<text x="844.8" y="231.8" font-size="15.6" text-anchor="middle" fill="#231f20" textLength="20.6" lengthAdjust="spacingAndGlyphs">0.1</text>
<text x="899.4" y="231.8" font-size="15.6" text-anchor="middle" fill="#231f20" textLength="7.6" lengthAdjust="spacingAndGlyphs">1</text>
<text x="719.8" y="245.6" font-size="15.6" text-anchor="start" fill="#231f20" textLength="7.6" lengthAdjust="spacingAndGlyphs">1</text>
<text x="708.2" y="297.3" font-size="15.6" text-anchor="start" fill="#231f20" textLength="20.6" lengthAdjust="spacingAndGlyphs">0.1</text>
<text x="700.5" y="351.8" font-size="15.6" text-anchor="start" fill="#231f20" textLength="29.6" lengthAdjust="spacingAndGlyphs">0.01</text>
<text x="693.6" y="406.2" font-size="15.6" text-anchor="start" fill="#231f20" textLength="37.6" lengthAdjust="spacingAndGlyphs">0.001</text>
<text x="0" y="0" font-size="18.1" text-anchor="middle" fill="#231f20" transform="translate(688.3 312.3) rotate(-90)">Total movement (a.u.)</text>
<rect x="735.50" y="304.20" width="84.50" height="98.60" fill="none" stroke="#b5b5b5" stroke-width="1.1"/>
<line x1="777.8" y1="402.8" x2="777.8" y2="435.0" stroke="#8c8c8c" stroke-width="1" />
<path d="M772.4,426.3 L777.8,435.3 L783.2,426.3" fill="none" stroke="#8c8c8c" stroke-width="1" />
<path fill="#67bc5f" d="M765.6,288.4a1.9,1.9 0 1,0 3.8,0a1.9,1.9 0 1,0 -3.8,0M767.1,287.6a1.9,1.9 0 1,0 3.8,0a1.9,1.9 0 1,0 -3.8,0M769.4,294.8a1.9,1.9 0 1,0 3.8,0a1.9,1.9 0 1,0 -3.8,0M772.4,301.4a1.9,1.9 0 1,0 3.8,0a1.9,1.9 0 1,0 -3.8,0M774.7,299.9a1.9,1.9 0 1,0 3.8,0a1.9,1.9 0 1,0 -3.8,0M777.0,288.4a1.9,1.9 0 1,0 3.8,0a1.9,1.9 0 1,0 -3.8,0M778.6,291.4a1.9,1.9 0 1,0 3.8,0a1.9,1.9 0 1,0 -3.8,0M781.6,284.6a1.9,1.9 0 1,0 3.8,0a1.9,1.9 0 1,0 -3.8,0M783.9,293.0a1.9,1.9 0 1,0 3.8,0a1.9,1.9 0 1,0 -3.8,0M785.4,283.0a1.9,1.9 0 1,0 3.8,0a1.9,1.9 0 1,0 -3.8,0M785.9,281.5a1.9,1.9 0 1,0 3.8,0a1.9,1.9 0 1,0 -3.8,0M785.9,302.9a1.9,1.9 0 1,0 3.8,0a1.9,1.9 0 1,0 -3.8,0M790.0,287.6a1.9,1.9 0 1,0 3.8,0a1.9,1.9 0 1,0 -3.8,0M790.8,293.7a1.9,1.9 0 1,0 3.8,0a1.9,1.9 0 1,0 -3.8,0M792.3,280.0a1.9,1.9 0 1,0 3.8,0a1.9,1.9 0 1,0 -3.8,0M793.1,296.0a1.9,1.9 0 1,0 3.8,0a1.9,1.9 0 1,0 -3.8,0M794.6,273.9a1.9,1.9 0 1,0 3.8,0a1.9,1.9 0 1,0 -3.8,0M795.4,286.1a1.9,1.9 0 1,0 3.8,0a1.9,1.9 0 1,0 -3.8,0M797.7,278.5a1.9,1.9 0 1,0 3.8,0a1.9,1.9 0 1,0 -3.8,0M797.7,295.3a1.9,1.9 0 1,0 3.8,0a1.9,1.9 0 1,0 -3.8,0M800.0,295.3a1.9,1.9 0 1,0 3.8,0a1.9,1.9 0 1,0 -3.8,0M792.0,264.7a1.9,1.9 0 1,0 3.8,0a1.9,1.9 0 1,0 -3.8,0M793.8,261.6a1.9,1.9 0 1,0 3.8,0a1.9,1.9 0 1,0 -3.8,0M795.4,260.9a1.9,1.9 0 1,0 3.8,0a1.9,1.9 0 1,0 -3.8,0M798.7,257.8a1.9,1.9 0 1,0 3.8,0a1.9,1.9 0 1,0 -3.8,0M796.9,268.5a1.9,1.9 0 1,0 3.8,0a1.9,1.9 0 1,0 -3.8,0M800.0,265.5a1.9,1.9 0 1,0 3.8,0a1.9,1.9 0 1,0 -3.8,0M802.2,263.9a1.9,1.9 0 1,0 3.8,0a1.9,1.9 0 1,0 -3.8,0M803.8,264.7a1.9,1.9 0 1,0 3.8,0a1.9,1.9 0 1,0 -3.8,0M805.3,276.9a1.9,1.9 0 1,0 3.8,0a1.9,1.9 0 1,0 -3.8,0M806.1,289.2a1.9,1.9 0 1,0 3.8,0a1.9,1.9 0 1,0 -3.8,0M806.8,269.3a1.9,1.9 0 1,0 3.8,0a1.9,1.9 0 1,0 -3.8,0M807.6,273.1a1.9,1.9 0 1,0 3.8,0a1.9,1.9 0 1,0 -3.8,0M809.1,263.2a1.9,1.9 0 1,0 3.8,0a1.9,1.9 0 1,0 -3.8,0M809.9,283.8a1.9,1.9 0 1,0 3.8,0a1.9,1.9 0 1,0 -3.8,0M810.7,278.5a1.9,1.9 0 1,0 3.8,0a1.9,1.9 0 1,0 -3.8,0M811.4,267.0a1.9,1.9 0 1,0 3.8,0a1.9,1.9 0 1,0 -3.8,0M812.2,270.8a1.9,1.9 0 1,0 3.8,0a1.9,1.9 0 1,0 -3.8,0M812.9,262.4a1.9,1.9 0 1,0 3.8,0a1.9,1.9 0 1,0 -3.8,0M813.7,273.9a1.9,1.9 0 1,0 3.8,0a1.9,1.9 0 1,0 -3.8,0M814.5,267.7a1.9,1.9 0 1,0 3.8,0a1.9,1.9 0 1,0 -3.8,0M815.2,281.5a1.9,1.9 0 1,0 3.8,0a1.9,1.9 0 1,0 -3.8,0M816.0,270.8a1.9,1.9 0 1,0 3.8,0a1.9,1.9 0 1,0 -3.8,0M816.0,289.9a1.9,1.9 0 1,0 3.8,0a1.9,1.9 0 1,0 -3.8,0M816.8,264.7a1.9,1.9 0 1,0 3.8,0a1.9,1.9 0 1,0 -3.8,0M817.5,260.1a1.9,1.9 0 1,0 3.8,0a1.9,1.9 0 1,0 -3.8,0M818.3,276.9a1.9,1.9 0 1,0 3.8,0a1.9,1.9 0 1,0 -3.8,0M819.1,269.3a1.9,1.9 0 1,0 3.8,0a1.9,1.9 0 1,0 -3.8,0M819.8,266.2a1.9,1.9 0 1,0 3.8,0a1.9,1.9 0 1,0 -3.8,0M820.6,258.6a1.9,1.9 0 1,0 3.8,0a1.9,1.9 0 1,0 -3.8,0M821.4,280.0a1.9,1.9 0 1,0 3.8,0a1.9,1.9 0 1,0 -3.8,0M821.7,293.7a1.9,1.9 0 1,0 3.8,0a1.9,1.9 0 1,0 -3.8,0M822.1,273.9a1.9,1.9 0 1,0 3.8,0a1.9,1.9 0 1,0 -3.8,0M822.9,286.1a1.9,1.9 0 1,0 3.8,0a1.9,1.9 0 1,0 -3.8,0M823.7,284.6a1.9,1.9 0 1,0 3.8,0a1.9,1.9 0 1,0 -3.8,0M824.4,267.7a1.9,1.9 0 1,0 3.8,0a1.9,1.9 0 1,0 -3.8,0M825.2,276.9a1.9,1.9 0 1,0 3.8,0a1.9,1.9 0 1,0 -3.8,0M825.9,257.0a1.9,1.9 0 1,0 3.8,0a1.9,1.9 0 1,0 -3.8,0M826.7,263.2a1.9,1.9 0 1,0 3.8,0a1.9,1.9 0 1,0 -3.8,0M827.5,272.3a1.9,1.9 0 1,0 3.8,0a1.9,1.9 0 1,0 -3.8,0M828.2,266.2a1.9,1.9 0 1,0 3.8,0a1.9,1.9 0 1,0 -3.8,0M829.0,254.8a1.9,1.9 0 1,0 3.8,0a1.9,1.9 0 1,0 -3.8,0M829.8,278.5a1.9,1.9 0 1,0 3.8,0a1.9,1.9 0 1,0 -3.8,0M830.5,269.3a1.9,1.9 0 1,0 3.8,0a1.9,1.9 0 1,0 -3.8,0M831.3,273.9a1.9,1.9 0 1,0 3.8,0a1.9,1.9 0 1,0 -3.8,0M832.1,264.7a1.9,1.9 0 1,0 3.8,0a1.9,1.9 0 1,0 -3.8,0M832.8,261.6a1.9,1.9 0 1,0 3.8,0a1.9,1.9 0 1,0 -3.8,0M833.6,254.0a1.9,1.9 0 1,0 3.8,0a1.9,1.9 0 1,0 -3.8,0M834.4,270.8a1.9,1.9 0 1,0 3.8,0a1.9,1.9 0 1,0 -3.8,0M835.1,257.0a1.9,1.9 0 1,0 3.8,0a1.9,1.9 0 1,0 -3.8,0M835.9,266.2a1.9,1.9 0 1,0 3.8,0a1.9,1.9 0 1,0 -3.8,0M836.6,263.2a1.9,1.9 0 1,0 3.8,0a1.9,1.9 0 1,0 -3.8,0M837.4,269.3a1.9,1.9 0 1,0 3.8,0a1.9,1.9 0 1,0 -3.8,0M838.2,260.1a1.9,1.9 0 1,0 3.8,0a1.9,1.9 0 1,0 -3.8,0M838.9,272.3a1.9,1.9 0 1,0 3.8,0a1.9,1.9 0 1,0 -3.8,0M839.7,269.3a1.9,1.9 0 1,0 3.8,0a1.9,1.9 0 1,0 -3.8,0M840.5,278.5a1.9,1.9 0 1,0 3.8,0a1.9,1.9 0 1,0 -3.8,0M841.2,254.0a1.9,1.9 0 1,0 3.8,0a1.9,1.9 0 1,0 -3.8,0M842.0,273.9a1.9,1.9 0 1,0 3.8,0a1.9,1.9 0 1,0 -3.8,0M842.8,258.6a1.9,1.9 0 1,0 3.8,0a1.9,1.9 0 1,0 -3.8,0M844.3,255.5a1.9,1.9 0 1,0 3.8,0a1.9,1.9 0 1,0 -3.8,0M845.1,257.8a1.9,1.9 0 1,0 3.8,0a1.9,1.9 0 1,0 -3.8,0M846.6,260.1a1.9,1.9 0 1,0 3.8,0a1.9,1.9 0 1,0 -3.8,0M847.3,254.0a1.9,1.9 0 1,0 3.8,0a1.9,1.9 0 1,0 -3.8,0M848.1,252.5a1.9,1.9 0 1,0 3.8,0a1.9,1.9 0 1,0 -3.8,0M850.4,255.5a1.9,1.9 0 1,0 3.8,0a1.9,1.9 0 1,0 -3.8,0M853.2,251.7a1.9,1.9 0 1,0 3.8,0a1.9,1.9 0 1,0 -3.8,0M818.0,301.1a1.9,1.9 0 1,0 3.8,0a1.9,1.9 0 1,0 -3.8,0M804.5,268.5a1.9,1.9 0 1,0 3.8,0a1.9,1.9 0 1,0 -3.8,0M808.4,268.5a1.9,1.9 0 1,0 3.8,0a1.9,1.9 0 1,0 -3.8,0M810.7,272.3a1.9,1.9 0 1,0 3.8,0a1.9,1.9 0 1,0 -3.8,0M813.7,270.0a1.9,1.9 0 1,0 3.8,0a1.9,1.9 0 1,0 -3.8,0M811.4,275.4a1.9,1.9 0 1,0 3.8,0a1.9,1.9 0 1,0 -3.8,0M809.1,280.7a1.9,1.9 0 1,0 3.8,0a1.9,1.9 0 1,0 -3.8,0M806.8,285.3a1.9,1.9 0 1,0 3.8,0a1.9,1.9 0 1,0 -3.8,0M812.2,284.6a1.9,1.9 0 1,0 3.8,0a1.9,1.9 0 1,0 -3.8,0M816.8,272.3a1.9,1.9 0 1,0 3.8,0a1.9,1.9 0 1,0 -3.8,0M819.8,273.9a1.9,1.9 0 1,0 3.8,0a1.9,1.9 0 1,0 -3.8,0M822.9,276.9a1.9,1.9 0 1,0 3.8,0a1.9,1.9 0 1,0 -3.8,0M825.9,273.9a1.9,1.9 0 1,0 3.8,0a1.9,1.9 0 1,0 -3.8,0M829.0,273.9a1.9,1.9 0 1,0 3.8,0a1.9,1.9 0 1,0 -3.8,0M833.6,272.3a1.9,1.9 0 1,0 3.8,0a1.9,1.9 0 1,0 -3.8,0M838.2,265.5a1.9,1.9 0 1,0 3.8,0a1.9,1.9 0 1,0 -3.8,0M835.9,260.9a1.9,1.9 0 1,0 3.8,0a1.9,1.9 0 1,0 -3.8,0M825.9,261.6a1.9,1.9 0 1,0 3.8,0a1.9,1.9 0 1,0 -3.8,0M822.9,263.2a1.9,1.9 0 1,0 3.8,0a1.9,1.9 0 1,0 -3.8,0M833.6,258.6a1.9,1.9 0 1,0 3.8,0a1.9,1.9 0 1,0 -3.8,0M830.5,260.1a1.9,1.9 0 1,0 3.8,0a1.9,1.9 0 1,0 -3.8,0M807.6,270.8a1.9,1.9 0 1,0 3.8,0a1.9,1.9 0 1,0 -3.8,0M809.9,273.9a1.9,1.9 0 1,0 3.8,0a1.9,1.9 0 1,0 -3.8,0M812.9,267.7a1.9,1.9 0 1,0 3.8,0a1.9,1.9 0 1,0 -3.8,0M814.5,271.6a1.9,1.9 0 1,0 3.8,0a1.9,1.9 0 1,0 -3.8,0M818.3,272.3a1.9,1.9 0 1,0 3.8,0a1.9,1.9 0 1,0 -3.8,0M821.4,270.8a1.9,1.9 0 1,0 3.8,0a1.9,1.9 0 1,0 -3.8,0M823.7,272.3a1.9,1.9 0 1,0 3.8,0a1.9,1.9 0 1,0 -3.8,0M827.5,269.3a1.9,1.9 0 1,0 3.8,0a1.9,1.9 0 1,0 -3.8,0M819.8,278.5a1.9,1.9 0 1,0 3.8,0a1.9,1.9 0 1,0 -3.8,0M816.0,278.5a1.9,1.9 0 1,0 3.8,0a1.9,1.9 0 1,0 -3.8,0M809.1,269.3a1.9,1.9 0 1,0 3.8,0a1.9,1.9 0 1,0 -3.8,0M806.1,272.3a1.9,1.9 0 1,0 3.8,0a1.9,1.9 0 1,0 -3.8,0M811.4,280.7a1.9,1.9 0 1,0 3.8,0a1.9,1.9 0 1,0 -3.8,0M813.7,280.0a1.9,1.9 0 1,0 3.8,0a1.9,1.9 0 1,0 -3.8,0M818.3,281.5a1.9,1.9 0 1,0 3.8,0a1.9,1.9 0 1,0 -3.8,0M823.7,280.0a1.9,1.9 0 1,0 3.8,0a1.9,1.9 0 1,0 -3.8,0M828.2,276.9a1.9,1.9 0 1,0 3.8,0a1.9,1.9 0 1,0 -3.8,0M832.1,269.3a1.9,1.9 0 1,0 3.8,0a1.9,1.9 0 1,0 -3.8,0M835.1,263.2a1.9,1.9 0 1,0 3.8,0a1.9,1.9 0 1,0 -3.8,0M839.7,263.2a1.9,1.9 0 1,0 3.8,0a1.9,1.9 0 1,0 -3.8,0M842.0,266.2a1.9,1.9 0 1,0 3.8,0a1.9,1.9 0 1,0 -3.8,0M845.8,258.6a1.9,1.9 0 1,0 3.8,0a1.9,1.9 0 1,0 -3.8,0M849.6,254.0a1.9,1.9 0 1,0 3.8,0a1.9,1.9 0 1,0 -3.8,0M844.3,260.1a1.9,1.9 0 1,0 3.8,0a1.9,1.9 0 1,0 -3.8,0M836.6,270.8a1.9,1.9 0 1,0 3.8,0a1.9,1.9 0 1,0 -3.8,0M834.4,267.7a1.9,1.9 0 1,0 3.8,0a1.9,1.9 0 1,0 -3.8,0M829.8,266.2a1.9,1.9 0 1,0 3.8,0a1.9,1.9 0 1,0 -3.8,0M815.2,263.2a1.9,1.9 0 1,0 3.8,0a1.9,1.9 0 1,0 -3.8,0M807.6,266.2a1.9,1.9 0 1,0 3.8,0a1.9,1.9 0 1,0 -3.8,0M805.3,281.5a1.9,1.9 0 1,0 3.8,0a1.9,1.9 0 1,0 -3.8,0M801.5,292.2a1.9,1.9 0 1,0 3.8,0a1.9,1.9 0 1,0 -3.8,0M795.4,290.7a1.9,1.9 0 1,0 3.8,0a1.9,1.9 0 1,0 -3.8,0M789.3,292.2a1.9,1.9 0 1,0 3.8,0a1.9,1.9 0 1,0 -3.8,0M781.6,295.3a1.9,1.9 0 1,0 3.8,0a1.9,1.9 0 1,0 -3.8,0M778.6,284.6a1.9,1.9 0 1,0 3.8,0a1.9,1.9 0 1,0 -3.8,0M819.8,286.1a1.9,1.9 0 1,0 3.8,0a1.9,1.9 0 1,0 -3.8,0M824.4,287.6a1.9,1.9 0 1,0 3.8,0a1.9,1.9 0 1,0 -3.8,0M811.4,287.6a1.9,1.9 0 1,0 3.8,0a1.9,1.9 0 1,0 -3.8,0M814.5,284.6a1.9,1.9 0 1,0 3.8,0a1.9,1.9 0 1,0 -3.8,0"/>
<path fill="#007a3d" d="M860.3,254.3a1.9,1.9 0 1,0 3.8,0a1.9,1.9 0 1,0 -3.8,0M864.9,250.9a1.9,1.9 0 1,0 3.8,0a1.9,1.9 0 1,0 -3.8,0M868.0,254.0a1.9,1.9 0 1,0 3.8,0a1.9,1.9 0 1,0 -3.8,0M869.5,254.8a1.9,1.9 0 1,0 3.8,0a1.9,1.9 0 1,0 -3.8,0M871.0,248.3a1.9,1.9 0 1,0 3.8,0a1.9,1.9 0 1,0 -3.8,0M873.3,248.6a1.9,1.9 0 1,0 3.8,0a1.9,1.9 0 1,0 -3.8,0M879.5,240.2a1.9,1.9 0 1,0 3.8,0a1.9,1.9 0 1,0 -3.8,0M880.2,254.0a1.9,1.9 0 1,0 3.8,0a1.9,1.9 0 1,0 -3.8,0M881.7,256.3a1.9,1.9 0 1,0 3.8,0a1.9,1.9 0 1,0 -3.8,0M882.5,242.5a1.9,1.9 0 1,0 3.8,0a1.9,1.9 0 1,0 -3.8,0M884.0,247.9a1.9,1.9 0 1,0 3.8,0a1.9,1.9 0 1,0 -3.8,0M884.8,243.3a1.9,1.9 0 1,0 3.8,0a1.9,1.9 0 1,0 -3.8,0M885.6,241.0a1.9,1.9 0 1,0 3.8,0a1.9,1.9 0 1,0 -3.8,0M887.1,244.1a1.9,1.9 0 1,0 3.8,0a1.9,1.9 0 1,0 -3.8,0M888.6,237.9a1.9,1.9 0 1,0 3.8,0a1.9,1.9 0 1,0 -3.8,0M890.2,236.9a1.9,1.9 0 1,0 3.8,0a1.9,1.9 0 1,0 -3.8,0M891.7,236.4a1.9,1.9 0 1,0 3.8,0a1.9,1.9 0 1,0 -3.8,0M857.3,265.5a1.9,1.9 0 1,0 3.8,0a1.9,1.9 0 1,0 -3.8,0M861.9,266.2a1.9,1.9 0 1,0 3.8,0a1.9,1.9 0 1,0 -3.8,0M881.0,255.5a1.9,1.9 0 1,0 3.8,0a1.9,1.9 0 1,0 -3.8,0M887.9,239.5a1.9,1.9 0 1,0 3.8,0a1.9,1.9 0 1,0 -3.8,0M886.3,241.8a1.9,1.9 0 1,0 3.8,0a1.9,1.9 0 1,0 -3.8,0M889.4,237.2a1.9,1.9 0 1,0 3.8,0a1.9,1.9 0 1,0 -3.8,0M883.3,243.3a1.9,1.9 0 1,0 3.8,0a1.9,1.9 0 1,0 -3.8,0M884.8,245.6a1.9,1.9 0 1,0 3.8,0a1.9,1.9 0 1,0 -3.8,0M871.8,248.6a1.9,1.9 0 1,0 3.8,0a1.9,1.9 0 1,0 -3.8,0"/>
<path fill="#b1b1b3" d="M770.4,310.1a2.0,2.0 0 1,0 4.0,0a2.0,2.0 0 1,0 -4.0,0M780.3,308.3a2.0,2.0 0 1,0 4.0,0a2.0,2.0 0 1,0 -4.0,0M789.3,309.4a2.0,2.0 0 1,0 4.0,0a2.0,2.0 0 1,0 -4.0,0M791.1,311.2a2.0,2.0 0 1,0 4.0,0a2.0,2.0 0 1,0 -4.0,0M780.8,314.3a2.0,2.0 0 1,0 4.0,0a2.0,2.0 0 1,0 -4.0,0M786.1,313.7a2.0,2.0 0 1,0 4.0,0a2.0,2.0 0 1,0 -4.0,0M809.4,314.3a2.0,2.0 0 1,0 4.0,0a2.0,2.0 0 1,0 -4.0,0M801.9,319.1a2.0,2.0 0 1,0 4.0,0a2.0,2.0 0 1,0 -4.0,0M769.9,316.1a2.0,2.0 0 1,0 4.0,0a2.0,2.0 0 1,0 -4.0,0M777.6,318.4a2.0,2.0 0 1,0 4.0,0a2.0,2.0 0 1,0 -4.0,0M765.0,322.0a2.0,2.0 0 1,0 4.0,0a2.0,2.0 0 1,0 -4.0,0M760.5,324.7a2.0,2.0 0 1,0 4.0,0a2.0,2.0 0 1,0 -4.0,0M774.9,322.0a2.0,2.0 0 1,0 4.0,0a2.0,2.0 0 1,0 -4.0,0M773.1,326.0a2.0,2.0 0 1,0 4.0,0a2.0,2.0 0 1,0 -4.0,0M771.3,328.7a2.0,2.0 0 1,0 4.0,0a2.0,2.0 0 1,0 -4.0,0M776.7,327.8a2.0,2.0 0 1,0 4.0,0a2.0,2.0 0 1,0 -4.0,0M765.9,329.6a2.0,2.0 0 1,0 4.0,0a2.0,2.0 0 1,0 -4.0,0M767.7,332.3a2.0,2.0 0 1,0 4.0,0a2.0,2.0 0 1,0 -4.0,0M764.1,334.1a2.0,2.0 0 1,0 4.0,0a2.0,2.0 0 1,0 -4.0,0M761.4,331.4a2.0,2.0 0 1,0 4.0,0a2.0,2.0 0 1,0 -4.0,0M758.7,334.1a2.0,2.0 0 1,0 4.0,0a2.0,2.0 0 1,0 -4.0,0M756.0,333.2a2.0,2.0 0 1,0 4.0,0a2.0,2.0 0 1,0 -4.0,0M753.3,334.1a2.0,2.0 0 1,0 4.0,0a2.0,2.0 0 1,0 -4.0,0M751.5,336.8a2.0,2.0 0 1,0 4.0,0a2.0,2.0 0 1,0 -4.0,0M748.8,338.6a2.0,2.0 0 1,0 4.0,0a2.0,2.0 0 1,0 -4.0,0M747.0,335.9a2.0,2.0 0 1,0 4.0,0a2.0,2.0 0 1,0 -4.0,0M745.2,338.6a2.0,2.0 0 1,0 4.0,0a2.0,2.0 0 1,0 -4.0,0M743.4,338.9a2.0,2.0 0 1,0 4.0,0a2.0,2.0 0 1,0 -4.0,0M746.1,342.2a2.0,2.0 0 1,0 4.0,0a2.0,2.0 0 1,0 -4.0,0M747.9,341.3a2.0,2.0 0 1,0 4.0,0a2.0,2.0 0 1,0 -4.0,0M749.7,344.0a2.0,2.0 0 1,0 4.0,0a2.0,2.0 0 1,0 -4.0,0M751.5,346.7a2.0,2.0 0 1,0 4.0,0a2.0,2.0 0 1,0 -4.0,0M754.2,345.8a2.0,2.0 0 1,0 4.0,0a2.0,2.0 0 1,0 -4.0,0M752.4,349.4a2.0,2.0 0 1,0 4.0,0a2.0,2.0 0 1,0 -4.0,0M750.6,352.1a2.0,2.0 0 1,0 4.0,0a2.0,2.0 0 1,0 -4.0,0M755.1,351.2a2.0,2.0 0 1,0 4.0,0a2.0,2.0 0 1,0 -4.0,0M757.8,353.8a2.0,2.0 0 1,0 4.0,0a2.0,2.0 0 1,0 -4.0,0M758.7,355.6a2.0,2.0 0 1,0 4.0,0a2.0,2.0 0 1,0 -4.0,0M762.3,351.2a2.0,2.0 0 1,0 4.0,0a2.0,2.0 0 1,0 -4.0,0M765.9,345.8a2.0,2.0 0 1,0 4.0,0a2.0,2.0 0 1,0 -4.0,0M766.8,347.6a2.0,2.0 0 1,0 4.0,0a2.0,2.0 0 1,0 -4.0,0M768.6,335.0a2.0,2.0 0 1,0 4.0,0a2.0,2.0 0 1,0 -4.0,0M770.4,334.1a2.0,2.0 0 1,0 4.0,0a2.0,2.0 0 1,0 -4.0,0M769.5,337.7a2.0,2.0 0 1,0 4.0,0a2.0,2.0 0 1,0 -4.0,0M764.1,337.7a2.0,2.0 0 1,0 4.0,0a2.0,2.0 0 1,0 -4.0,0M762.3,336.8a2.0,2.0 0 1,0 4.0,0a2.0,2.0 0 1,0 -4.0,0M758.7,337.7a2.0,2.0 0 1,0 4.0,0a2.0,2.0 0 1,0 -4.0,0M757.8,342.2a2.0,2.0 0 1,0 4.0,0a2.0,2.0 0 1,0 -4.0,0M755.1,338.6a2.0,2.0 0 1,0 4.0,0a2.0,2.0 0 1,0 -4.0,0M782.1,332.6a2.0,2.0 0 1,0 4.0,0a2.0,2.0 0 1,0 -4.0,0M779.4,338.9a2.0,2.0 0 1,0 4.0,0a2.0,2.0 0 1,0 -4.0,0M794.2,342.2a2.0,2.0 0 1,0 4.0,0a2.0,2.0 0 1,0 -4.0,0M735.3,341.8a2.0,2.0 0 1,0 4.0,0a2.0,2.0 0 1,0 -4.0,0M740.2,349.0a2.0,2.0 0 1,0 4.0,0a2.0,2.0 0 1,0 -4.0,0M754.8,359.6a2.0,2.0 0 1,0 4.0,0a2.0,2.0 0 1,0 -4.0,0M759.6,375.4a2.0,2.0 0 1,0 4.0,0a2.0,2.0 0 1,0 -4.0,0M753.9,398.8a2.0,2.0 0 1,0 4.0,0a2.0,2.0 0 1,0 -4.0,0M754.8,400.1a2.0,2.0 0 1,0 4.0,0a2.0,2.0 0 1,0 -4.0,0M756.9,337.7a2.0,2.0 0 1,0 4.0,0a2.0,2.0 0 1,0 -4.0,0M760.5,337.7a2.0,2.0 0 1,0 4.0,0a2.0,2.0 0 1,0 -4.0,0M765.9,335.9a2.0,2.0 0 1,0 4.0,0a2.0,2.0 0 1,0 -4.0,0M767.7,338.6a2.0,2.0 0 1,0 4.0,0a2.0,2.0 0 1,0 -4.0,0M765.0,332.3a2.0,2.0 0 1,0 4.0,0a2.0,2.0 0 1,0 -4.0,0M762.3,328.7a2.0,2.0 0 1,0 4.0,0a2.0,2.0 0 1,0 -4.0,0M768.6,330.5a2.0,2.0 0 1,0 4.0,0a2.0,2.0 0 1,0 -4.0,0M766.8,326.9a2.0,2.0 0 1,0 4.0,0a2.0,2.0 0 1,0 -4.0,0M774.9,326.0a2.0,2.0 0 1,0 4.0,0a2.0,2.0 0 1,0 -4.0,0M776.7,324.2a2.0,2.0 0 1,0 4.0,0a2.0,2.0 0 1,0 -4.0,0"/>
<line x1="732.3" y1="424.0" x2="732.3" y2="589.9" stroke="#3a3a3a" stroke-width="1" />
<line x1="732.3" y1="589.9" x2="894.1" y2="589.9" stroke="#3a3a3a" stroke-width="1" />
<line x1="732.3" y1="424.3" x2="735.3" y2="424.3" stroke="#3a3a3a" stroke-width="1" />
<line x1="732.3" y1="471.4" x2="735.3" y2="471.4" stroke="#3a3a3a" stroke-width="1" />
<line x1="732.3" y1="519.5" x2="735.3" y2="519.5" stroke="#3a3a3a" stroke-width="1" />
<line x1="732.3" y1="567.4" x2="735.3" y2="567.4" stroke="#3a3a3a" stroke-width="1" />
<line x1="812.8" y1="589.9" x2="812.8" y2="586.9" stroke="#3a3a3a" stroke-width="1" />
<line x1="894.1" y1="589.9" x2="894.1" y2="586.9" stroke="#3a3a3a" stroke-width="1" />
<text x="729.2" y="431.8" font-size="16" text-anchor="end" fill="#231f20"><tspan textLength="16" lengthAdjust="spacingAndGlyphs">10</tspan><tspan font-size="9.5" dy="-5.2">5</tspan></text>
<text x="729.2" y="480.7" font-size="16" text-anchor="end" fill="#231f20"><tspan textLength="16" lengthAdjust="spacingAndGlyphs">10</tspan><tspan font-size="9.5" dy="-5.2">4</tspan></text>
<text x="729.2" y="528.8" font-size="16" text-anchor="end" fill="#231f20"><tspan textLength="16" lengthAdjust="spacingAndGlyphs">10</tspan><tspan font-size="9.5" dy="-5.2">3</tspan></text>
<text x="729.2" y="576.6" font-size="16" text-anchor="end" fill="#231f20"><tspan textLength="16" lengthAdjust="spacingAndGlyphs">10</tspan><tspan font-size="9.5" dy="-5.2">2</tspan></text>
<text x="734.0" y="607.2" font-size="14.5" text-anchor="middle" fill="#231f20">10<tspan font-size="10" dy="-6">2</tspan></text>
<text x="814.6" y="607.2" font-size="14.5" text-anchor="middle" fill="#231f20">10<tspan font-size="10" dy="-6">3</tspan></text>
<text x="893.2" y="607.2" font-size="14.5" text-anchor="middle" fill="#231f20">10<tspan font-size="10" dy="-6">4</tspan></text>
<text x="821.0" y="625.8" font-size="17.8" text-anchor="middle" fill="#231f20" >EEG delta power (a.u.)</text>
<text x="0" y="0" font-size="18.4" text-anchor="middle" fill="#231f20" transform="translate(688.9 504.5) rotate(-90)">EMG power (a.u.)</text>
<path fill="#a9c39a" d="M762.9,460.6a2.0,2.0 0 1,0 4.0,0a2.0,2.0 0 1,0 -4.0,0M769.2,471.8a2.0,2.0 0 1,0 4.0,0a2.0,2.0 0 1,0 -4.0,0M769.8,476.8a2.0,2.0 0 1,0 4.0,0a2.0,2.0 0 1,0 -4.0,0M773.7,485.3a2.0,2.0 0 1,0 4.0,0a2.0,2.0 0 1,0 -4.0,0M782.0,465.1a2.0,2.0 0 1,0 4.0,0a2.0,2.0 0 1,0 -4.0,0M784.9,459.0a2.0,2.0 0 1,0 4.0,0a2.0,2.0 0 1,0 -4.0,0M784.9,465.1a2.0,2.0 0 1,0 4.0,0a2.0,2.0 0 1,0 -4.0,0M782.0,470.7a2.0,2.0 0 1,0 4.0,0a2.0,2.0 0 1,0 -4.0,0M791.0,480.1a2.0,2.0 0 1,0 4.0,0a2.0,2.0 0 1,0 -4.0,0M790.1,486.4a2.0,2.0 0 1,0 4.0,0a2.0,2.0 0 1,0 -4.0,0M793.9,493.2a2.0,2.0 0 1,0 4.0,0a2.0,2.0 0 1,0 -4.0,0M801.8,483.7a2.0,2.0 0 1,0 4.0,0a2.0,2.0 0 1,0 -4.0,0M806.7,484.9a2.0,2.0 0 1,0 4.0,0a2.0,2.0 0 1,0 -4.0,0M809.0,487.6a2.0,2.0 0 1,0 4.0,0a2.0,2.0 0 1,0 -4.0,0M835.0,492.1a2.0,2.0 0 1,0 4.0,0a2.0,2.0 0 1,0 -4.0,0M819.1,499.3a2.0,2.0 0 1,0 4.0,0a2.0,2.0 0 1,0 -4.0,0M820.0,506.7a2.0,2.0 0 1,0 4.0,0a2.0,2.0 0 1,0 -4.0,0M796.1,510.9a2.0,2.0 0 1,0 4.0,0a2.0,2.0 0 1,0 -4.0,0M827.6,521.3a2.0,2.0 0 1,0 4.0,0a2.0,2.0 0 1,0 -4.0,0M823.8,533.9a2.0,2.0 0 1,0 4.0,0a2.0,2.0 0 1,0 -4.0,0"/>
<path fill="#fcbc14" d="M813.2,504.6a2.0,2.0 0 1,0 4.0,0a2.0,2.0 0 1,0 -4.0,0M823.1,520.6a2.0,2.0 0 1,0 4.0,0a2.0,2.0 0 1,0 -4.0,0M827.6,519.0a2.0,2.0 0 1,0 4.0,0a2.0,2.0 0 1,0 -4.0,0M842.9,519.7a2.0,2.0 0 1,0 4.0,0a2.0,2.0 0 1,0 -4.0,0M828.7,528.0a2.0,2.0 0 1,0 4.0,0a2.0,2.0 0 1,0 -4.0,0M837.3,531.9a2.0,2.0 0 1,0 4.0,0a2.0,2.0 0 1,0 -4.0,0M834.8,535.0a2.0,2.0 0 1,0 4.0,0a2.0,2.0 0 1,0 -4.0,0M820.9,538.8a2.0,2.0 0 1,0 4.0,0a2.0,2.0 0 1,0 -4.0,0M821.6,542.6a2.0,2.0 0 1,0 4.0,0a2.0,2.0 0 1,0 -4.0,0M815.9,551.2a2.0,2.0 0 1,0 4.0,0a2.0,2.0 0 1,0 -4.0,0M822.0,551.2a2.0,2.0 0 1,0 4.0,0a2.0,2.0 0 1,0 -4.0,0M825.4,553.9a2.0,2.0 0 1,0 4.0,0a2.0,2.0 0 1,0 -4.0,0M828.1,552.1a2.0,2.0 0 1,0 4.0,0a2.0,2.0 0 1,0 -4.0,0M831.0,550.5a2.0,2.0 0 1,0 4.0,0a2.0,2.0 0 1,0 -4.0,0M834.4,549.4a2.0,2.0 0 1,0 4.0,0a2.0,2.0 0 1,0 -4.0,0M837.7,546.0a2.0,2.0 0 1,0 4.0,0a2.0,2.0 0 1,0 -4.0,0M841.1,547.6a2.0,2.0 0 1,0 4.0,0a2.0,2.0 0 1,0 -4.0,0M844.5,547.1a2.0,2.0 0 1,0 4.0,0a2.0,2.0 0 1,0 -4.0,0M847.9,547.6a2.0,2.0 0 1,0 4.0,0a2.0,2.0 0 1,0 -4.0,0M850.6,551.2a2.0,2.0 0 1,0 4.0,0a2.0,2.0 0 1,0 -4.0,0M846.7,550.5a2.0,2.0 0 1,0 4.0,0a2.0,2.0 0 1,0 -4.0,0M843.4,552.8a2.0,2.0 0 1,0 4.0,0a2.0,2.0 0 1,0 -4.0,0M840.0,551.6a2.0,2.0 0 1,0 4.0,0a2.0,2.0 0 1,0 -4.0,0M836.6,553.9a2.0,2.0 0 1,0 4.0,0a2.0,2.0 0 1,0 -4.0,0M833.2,555.0a2.0,2.0 0 1,0 4.0,0a2.0,2.0 0 1,0 -4.0,0M829.9,556.1a2.0,2.0 0 1,0 4.0,0a2.0,2.0 0 1,0 -4.0,0M826.5,557.3a2.0,2.0 0 1,0 4.0,0a2.0,2.0 0 1,0 -4.0,0M823.1,558.4a2.0,2.0 0 1,0 4.0,0a2.0,2.0 0 1,0 -4.0,0M819.8,558.4a2.0,2.0 0 1,0 4.0,0a2.0,2.0 0 1,0 -4.0,0M816.4,558.4a2.0,2.0 0 1,0 4.0,0a2.0,2.0 0 1,0 -4.0,0M814.1,559.5a2.0,2.0 0 1,0 4.0,0a2.0,2.0 0 1,0 -4.0,0M825.4,560.6a2.0,2.0 0 1,0 4.0,0a2.0,2.0 0 1,0 -4.0,0M829.9,559.5a2.0,2.0 0 1,0 4.0,0a2.0,2.0 0 1,0 -4.0,0M834.4,558.4a2.0,2.0 0 1,0 4.0,0a2.0,2.0 0 1,0 -4.0,0M838.9,557.3a2.0,2.0 0 1,0 4.0,0a2.0,2.0 0 1,0 -4.0,0M835.5,556.1a2.0,2.0 0 1,0 4.0,0a2.0,2.0 0 1,0 -4.0,0M832.1,553.9a2.0,2.0 0 1,0 4.0,0a2.0,2.0 0 1,0 -4.0,0M828.7,555.0a2.0,2.0 0 1,0 4.0,0a2.0,2.0 0 1,0 -4.0,0M825.4,555.7a2.0,2.0 0 1,0 4.0,0a2.0,2.0 0 1,0 -4.0,0M822.0,557.3a2.0,2.0 0 1,0 4.0,0a2.0,2.0 0 1,0 -4.0,0M838.9,553.9a2.0,2.0 0 1,0 4.0,0a2.0,2.0 0 1,0 -4.0,0M842.2,550.5a2.0,2.0 0 1,0 4.0,0a2.0,2.0 0 1,0 -4.0,0M845.6,551.6a2.0,2.0 0 1,0 4.0,0a2.0,2.0 0 1,0 -4.0,0M837.7,550.5a2.0,2.0 0 1,0 4.0,0a2.0,2.0 0 1,0 -4.0,0M834.4,551.6a2.0,2.0 0 1,0 4.0,0a2.0,2.0 0 1,0 -4.0,0M831.0,558.4a2.0,2.0 0 1,0 4.0,0a2.0,2.0 0 1,0 -4.0,0M827.6,560.2a2.0,2.0 0 1,0 4.0,0a2.0,2.0 0 1,0 -4.0,0M823.1,563.8a2.0,2.0 0 1,0 4.0,0a2.0,2.0 0 1,0 -4.0,0M818.6,563.8a2.0,2.0 0 1,0 4.0,0a2.0,2.0 0 1,0 -4.0,0M815.3,563.8a2.0,2.0 0 1,0 4.0,0a2.0,2.0 0 1,0 -4.0,0M827.6,562.9a2.0,2.0 0 1,0 4.0,0a2.0,2.0 0 1,0 -4.0,0M833.2,560.2a2.0,2.0 0 1,0 4.0,0a2.0,2.0 0 1,0 -4.0,0M840.0,555.0a2.0,2.0 0 1,0 4.0,0a2.0,2.0 0 1,0 -4.0,0M836.2,548.3a2.0,2.0 0 1,0 4.0,0a2.0,2.0 0 1,0 -4.0,0M832.1,547.6a2.0,2.0 0 1,0 4.0,0a2.0,2.0 0 1,0 -4.0,0M828.7,547.1a2.0,2.0 0 1,0 4.0,0a2.0,2.0 0 1,0 -4.0,0"/>
<path fill="none" stroke="#fcbc14" stroke-width="0.9" d="M785.6,561.3a1.8,1.8 0 1,0 3.6,0a1.8,1.8 0 1,0 -3.6,0M799.7,556.1a1.8,1.8 0 1,0 3.6,0a1.8,1.8 0 1,0 -3.6,0M798.6,559.5a1.8,1.8 0 1,0 3.6,0a1.8,1.8 0 1,0 -3.6,0M799.7,564.0a1.8,1.8 0 1,0 3.6,0a1.8,1.8 0 1,0 -3.6,0M807.6,558.4a1.8,1.8 0 1,0 3.6,0a1.8,1.8 0 1,0 -3.6,0M806.9,564.0a1.8,1.8 0 1,0 3.6,0a1.8,1.8 0 1,0 -3.6,0M808.0,568.5a1.8,1.8 0 1,0 3.6,0a1.8,1.8 0 1,0 -3.6,0M808.0,570.7a1.8,1.8 0 1,0 3.6,0a1.8,1.8 0 1,0 -3.6,0M812.1,558.4a1.8,1.8 0 1,0 3.6,0a1.8,1.8 0 1,0 -3.6,0M814.3,558.4a1.8,1.8 0 1,0 3.6,0a1.8,1.8 0 1,0 -3.6,0M797.5,557.3a1.8,1.8 0 1,0 3.6,0a1.8,1.8 0 1,0 -3.6,0"/>
<text x="906.4" y="288.8" font-size="17.77" text-anchor="start" fill="#007a3d" >Locomotion (LM)</text>
<text x="908.8" y="370.9" font-size="17.62" text-anchor="start" fill="#67bc5f" >Non-Locomotor</text>
<text x="909.0" y="390.8" font-size="17.87" text-anchor="start" fill="#67bc5f" >movement (MV)</text>
<text x="898.5" y="485.5" font-size="17.65" text-anchor="start" fill="#a3c08f" >Quiet Wakefuiness</text>
<text x="972.3" y="505.7" font-size="17.9" text-anchor="middle" fill="#a3c08f" >(QW)</text>
<text x="929.5" y="582.7" font-size="17.92" text-anchor="start" fill="#fcbc14" >Sleep (SL)</text>
<text x="64.8" y="462.7" font-size="21.5" font-weight="bold" fill="#231f20" transform="translate(64.8 462.7) scale(0.8 1) translate(-64.8 -462.7)">F</text>
<line x1="155.3" y1="466.5" x2="155.3" y2="598.6" stroke="#7d7d7d" stroke-width="1.5" />
<line x1="155.3" y1="598.6" x2="336.5" y2="598.6" stroke="#7d7d7d" stroke-width="1.5" />
<line x1="155.3" y1="598.6" x2="157.8" y2="598.6" stroke="#7d7d7d" stroke-width="1" />
<text x="151.3" y="603.6" font-size="16" text-anchor="end" fill="#231f20" >0</text>
<line x1="155.3" y1="565.6" x2="157.8" y2="565.6" stroke="#7d7d7d" stroke-width="1" />
<text x="151.3" y="571.9" font-size="16" text-anchor="end" fill="#231f20" >1</text>
<line x1="155.3" y1="532.6" x2="157.8" y2="532.6" stroke="#7d7d7d" stroke-width="1" />
<text x="151.3" y="540.7" font-size="16" text-anchor="end" fill="#231f20" >2</text>
<line x1="155.3" y1="499.6" x2="157.8" y2="499.6" stroke="#7d7d7d" stroke-width="1" />
<text x="151.3" y="508.9" font-size="16" text-anchor="end" fill="#231f20" >3</text>
<line x1="155.3" y1="466.6" x2="157.8" y2="466.6" stroke="#7d7d7d" stroke-width="1" />
<text x="151.3" y="477.2" font-size="16" text-anchor="end" fill="#231f20" >4</text>
<rect x="171.30" y="565.60" width="22.70" height="33.00" fill="#007a3d" />
<rect x="212.90" y="555.70" width="22.70" height="42.90" fill="#67bc5f" />
<line x1="224.2" y1="553.2" x2="224.2" y2="558.2" stroke="#111" stroke-width="1" />
<rect x="254.00" y="523.36" width="22.70" height="75.24" fill="#b7cba2" />
<line x1="265.4" y1="516.4" x2="265.4" y2="530.3" stroke="#111" stroke-width="1" />
<rect x="295.00" y="503.89" width="23.20" height="94.71" fill="#fcbc14" />
<line x1="306.6" y1="496.0" x2="306.6" y2="511.8" stroke="#111" stroke-width="1" />
<text x="0" y="0" font-size="18" text-anchor="middle" fill="#231f20" transform="translate(111.3 531) rotate(-90)">Normalized</text>
<text x="0" y="0" font-size="18" text-anchor="middle" fill="#231f20" transform="translate(131.3 531) rotate(-90)">EEG delta power</text>
<line x1="438.3" y1="468.9" x2="438.3" y2="599.0" stroke="#3a3a3a" stroke-width="1.1" />
<line x1="438.3" y1="599.0" x2="616.5" y2="599.0" stroke="#3a3a3a" stroke-width="1.1" />
<line x1="438.3" y1="599.0" x2="440.8" y2="599.0" stroke="#3a3a3a" stroke-width="1" />
<text x="434.6" y="604.6" font-size="16" text-anchor="end" fill="#231f20" >0</text>
<line x1="438.3" y1="534.0" x2="440.8" y2="534.0" stroke="#3a3a3a" stroke-width="1" />
<text x="434.6" y="541.4" font-size="16" text-anchor="end" fill="#231f20" >0.5</text>
<line x1="438.3" y1="468.9" x2="440.8" y2="468.9" stroke="#3a3a3a" stroke-width="1" />
<text x="434.6" y="474.2" font-size="16" text-anchor="end" fill="#231f20" >1</text>
<rect x="452.00" y="466.30" width="23.50" height="132.70" fill="#007a3d" />
<rect x="494.10" y="507.93" width="23.90" height="91.07" fill="#67bc5f" />
<line x1="506.1" y1="500.4" x2="506.1" y2="515.5" stroke="#111" stroke-width="1" />
<rect x="536.40" y="580.14" width="23.90" height="18.86" fill="#b7cba2" />
<line x1="548.4" y1="576.9" x2="548.4" y2="583.4" stroke="#111" stroke-width="1" />
<rect x="579.20" y="596.40" width="23.50" height="2.60" fill="#fcbc14" />
<line x1="591.0" y1="595.6" x2="591.0" y2="597.2" stroke="#111" stroke-width="1" />
<text x="0" y="0" font-size="18" text-anchor="middle" fill="#231f20" transform="translate(383.6 531) rotate(-90)">Normalized</text>
<text x="0" y="0" font-size="18" text-anchor="middle" fill="#231f20" transform="translate(405 531) rotate(-90)">EMG power</text>
<text x="0" y="0" font-size="18" text-anchor="end" fill="#007a3d" transform="translate(191.2 609.8) rotate(-57)">LM</text>
<text x="0" y="0" font-size="18" text-anchor="end" fill="#67bc5f" transform="translate(232.8 609.8) rotate(-57)">MV</text>
<text x="0" y="0" font-size="18" text-anchor="end" fill="#b7cba2" transform="translate(273.8 609.8) rotate(-57)">QW</text>
<text x="0" y="0" font-size="18" text-anchor="end" fill="#fcbc14" transform="translate(315.1 609.8) rotate(-57)">SL</text>
<text x="0" y="0" font-size="18" text-anchor="end" fill="#007a3d" transform="translate(472.2 609.8) rotate(-57)">LM</text>
<text x="0" y="0" font-size="18" text-anchor="end" fill="#67bc5f" transform="translate(514.5 609.8) rotate(-57)">MV</text>
<text x="0" y="0" font-size="18" text-anchor="end" fill="#b7cba2" transform="translate(556.8 609.8) rotate(-57)">QW</text>
<text x="0" y="0" font-size="18" text-anchor="end" fill="#fcbc14" transform="translate(599.5 609.8) rotate(-57)">SL</text>
<path d="M936,244.5 C926,244.5 916,245.5 907,249.5" fill="none" stroke="#555" stroke-width="1.6" />
<path d="M945,251 C936,251.5 926,252 918,255" fill="none" stroke="#555" stroke-width="1.6" />
<path d="M953,258 C946,258.5 940,259 934,261" fill="none" stroke="#555" stroke-width="1.4" />
<path d="M955.4,248.7 C960,245.5 964,244 969.2,243.8 C974,243 978,242.6 982.1,242.8 L985,240.6 C987,238.5 989.5,239 990,240.8 C991.5,241 992.8,242 993,242.8 C995,244 996.5,245.5 997.9,246.8 C1000,248.5 1002,250 1002.9,251.7 C1001,253 999.8,253.5 998.9,253.7 C997.5,254.5 996,255 995,255.7 C993.5,257 992.5,258 992,259.6 C992.5,261 993.5,262.5 994,264.1 L989,264.6 C987.5,262.5 986,261.3 984.1,260.6 C981,261.5 977.5,262.8 974.2,263.6 C971.5,264 969.5,264.2 968.2,264.6 L968,267.5 L963.3,266.8 C961,266.5 955,267.5 951.4,267.5 L949.5,265.6 C951,264 952.5,263.2 953.4,262.6 C954.2,261 954.8,259.3 955.4,257.6 C954.5,254.5 954.5,251 955.4,248.7 Z" fill="#6e6b69" stroke="#2b2b2b" stroke-width="0.7" transform="translate(-21 -8.5)"/>
<path d="M955.4,248.7 C960,245.5 964,244 969.2,243.8 C974,243 978,242.6 982.1,242.8 L985,240.6 C987,238.5 989.5,239 990,240.8 C991.5,241 992.8,242 993,242.8 C995,244 996.5,245.5 997.9,246.8 C1000,248.5 1002,250 1002.9,251.7 C1001,253 999.8,253.5 998.9,253.7 C997.5,254.5 996,255 995,255.7 C993.5,257 992.5,258 992,259.6 C992.5,261 993.5,262.5 994,264.1 L989,264.6 C987.5,262.5 986,261.3 984.1,260.6 C981,261.5 977.5,262.8 974.2,263.6 C971.5,264 969.5,264.2 968.2,264.6 L968,267.5 L963.3,266.8 C961,266.5 955,267.5 951.4,267.5 L949.5,265.6 C951,264 952.5,263.2 953.4,262.6 C954.2,261 954.8,259.3 955.4,257.6 C954.5,254.5 954.5,251 955.4,248.7 Z" fill="#605e5d" stroke="#2b2b2b" stroke-width="0.7" transform="translate(-11 -4.5)"/>
<path d="M955.4,248.7 C960,245.5 964,244 969.2,243.8 C974,243 978,242.6 982.1,242.8 L985,240.6 C987,238.5 989.5,239 990,240.8 C991.5,241 992.8,242 993,242.8 C995,244 996.5,245.5 997.9,246.8 C1000,248.5 1002,250 1002.9,251.7 C1001,253 999.8,253.5 998.9,253.7 C997.5,254.5 996,255 995,255.7 C993.5,257 992.5,258 992,259.6 C992.5,261 993.5,262.5 994,264.1 L989,264.6 C987.5,262.5 986,261.3 984.1,260.6 C981,261.5 977.5,262.8 974.2,263.6 C971.5,264 969.5,264.2 968.2,264.6 L968,267.5 L963.3,266.8 C961,266.5 955,267.5 951.4,267.5 L949.5,265.6 C951,264 952.5,263.2 953.4,262.6 C954.2,261 954.8,259.3 955.4,257.6 C954.5,254.5 954.5,251 955.4,248.7 Z" fill="#5a5a5c" stroke="#2b2b2b" stroke-width="0.7"/>
<circle cx="994.5" cy="248.3" r="0.9" fill="#111"/>
<circle cx="972" cy="239.5" r="1" fill="#c98a3a"/><circle cx="983" cy="243.5" r="1" fill="#c98a3a"/>
<path d="M928.3,324.8 C923,328.5 920.5,333 920.9,336.5 C921.5,340.5 925,343 931,343.2 C936,343.3 940.5,342.5 944.1,341" fill="none" stroke="#3d3d3d" stroke-width="1.8" />
<path d="M944.1,340.6 C944,336.5 944.9,332.5 947,329.5 C949.8,326 953,324 957.1,322.8 C961,322 964,322 966.8,322.4 C969,322.7 971.5,323.3 973.3,323.2 C973.5,320 973.8,317.5 974.5,315.5 C975.5,313 977,312.2 977.3,312.3 C978.5,311.3 980.5,311.3 981,312 C982.5,313 983.5,314 983.8,314.7 C985,315 986,315.3 986.2,315.5 C988,316 990,316.5 991,317.1 C992.5,318.5 993.5,320 993.9,321.2 C993.5,322.5 993,323.5 992.7,324.4 C991,325.5 989,326.2 987.8,326.8 C986.3,327.5 985.3,328.3 984.6,329.3 C983.6,330.5 983.2,332 983,333.3 C982.8,335 982.7,337 982.6,339 C983.5,341.5 984.8,344.5 985.4,347.1 L979.7,347.5 C978.5,346 977.5,344.5 976.5,343 C973.5,343.5 970.5,344 967.6,344.6 C965,345.2 962.5,345.8 960.3,346.3 C960.5,347 960.5,348 960.3,348.7 C959.5,350.3 958.5,351.5 957.1,351.9 C955,352.3 953,352.4 951.4,352.3 C949.5,351.3 948.3,350 947.4,348.7 C946,347 945,345.5 944.5,343.8 Z" fill="#5a5a5c" stroke="#2b2b2b" stroke-width="0.7" />
<circle cx="986.6" cy="321.2" r="1.1" fill="#fff"/>
<path d="M971.6,314.3 C968,313.7 964.5,314 961.5,315.5" fill="none" stroke="#444" stroke-width="0.8" />
<path d="M964,313 L961.3,315.6 L964.3,317.3" fill="none" stroke="#444" stroke-width="0.8" />
<path d="M996.7,330 C996.5,335 994.8,339.5 991.9,342.2" fill="none" stroke="#444" stroke-width="0.8" />
<path d="M991.5,338.7 L991.7,342.5 L995,341.6" fill="none" stroke="#444" stroke-width="0.8" />
<path d="M992.5,318 L995.5,312 M993.2,318.7 L997,313.3 M994,319.5 L998,316" fill="none" stroke="#666" stroke-width="0.5" />
<path d="M940.7,453.2 C941.5,460 945,464 952,466.5 C959,468.5 968,469.2 976.3,469.1" fill="none" stroke="#3d3d3d" stroke-width="1.6" />
<path d="M940,455 C936.5,450 936,443 939.5,437.5 C943.5,432 950,430.3 955.7,430.6 C962,430.8 968.5,432.5 974.5,434.4 C975.5,433 976.8,432 978.2,432.3 C979.5,432.6 980.2,433.6 980.3,434.8 C981.8,434 983.5,434 984.6,435 C985.8,436.2 985.8,437.5 985.7,438.2 C989.5,441 993.5,444.5 996.5,448.5 C998,450.5 998.2,452.5 997.9,454.1 C994,455.5 990.5,456.5 987.6,456.9 C982,457.4 976,457.2 971,457 C968.5,457.5 966.8,458 965,457.9 C962,457.4 959.5,457 958,456.6 C954.5,457.4 950,457.2 946.3,456 C944,456 941.8,456 940,455 Z" fill="#5a5a5c" stroke="#2b2b2b" stroke-width="0.7" />
<circle cx="987.5" cy="446.5" r="0.9" fill="#fff"/>
<path d="M995,452 L1001,450.5 M995.5,453 L1000.5,454" fill="none" stroke="#777" stroke-width="0.5" />
<path d="M944.4,545.1 C943.8,552 946,557 952,560.5 C957.5,563.5 963.5,564.6 968.8,564.3" fill="none" stroke="#3d3d3d" stroke-width="1.6" />
<path d="M946.3,552.6 C941.5,549 940.5,542 943,537 C946,531.3 953.5,527.3 961.3,527.3 C970,527.2 978.5,529 983.8,532 C984.5,530.5 986,530 987,531 C988.2,532 988.2,533.2 987.8,534.3 C990.5,535 993.5,536.5 994.2,539.5 C994.5,541.5 993.8,543 993,544 C994,547.5 994.2,551.5 993.2,554.5 C990,555.7 985,556 980,555.7 C976,556.2 972,556 968.8,555.5 C963,556 955,555.5 950,554.5 C948.5,554 947.3,553.4 946.3,552.6 Z" fill="#5a5a5c" stroke="#2b2b2b" stroke-width="0.7" />
<path d="M981,549 C984,550 987,551 989.5,552" fill="none" stroke="#2b2b2b" stroke-width="0.6" />
<text x="64.2" y="657.8" font-size="21.5" font-weight="bold" fill="#231f20" transform="translate(64.2 657.8) scale(0.8 1) translate(-64.2 -657.8)">G</text>
<rect x="110.00" y="651.20" width="51.50" height="124.40" fill="#007a3d" />
<rect x="161.50" y="651.20" width="53.50" height="124.40" fill="#67bc5f" />
<rect x="110.00" y="667.74" width="9.00" height="0.90" fill="#67bc5f" fill-opacity="0.6"/>
<rect x="110.00" y="665.72" width="20.00" height="0.90" fill="#67bc5f" fill-opacity="0.6"/>
<rect x="110.00" y="731.41" width="9.00" height="0.90" fill="#67bc5f" fill-opacity="0.6"/>
<rect x="110.00" y="711.26" width="20.00" height="0.90" fill="#67bc5f" fill-opacity="0.6"/>
<rect x="110.00" y="725.98" width="9.00" height="0.90" fill="#8fcb83" fill-opacity="0.6"/>
<rect x="110.00" y="706.03" width="30.00" height="0.90" fill="#67bc5f" fill-opacity="0.6"/>
<rect x="110.00" y="723.97" width="9.00" height="0.90" fill="#67bc5f" fill-opacity="0.6"/>
<rect x="110.00" y="654.97" width="9.00" height="0.90" fill="#8fcb83" fill-opacity="0.6"/>
<rect x="110.00" y="717.85" width="20.00" height="0.90" fill="#8fcb83" fill-opacity="0.6"/>
<rect x="110.00" y="677.86" width="20.00" height="0.90" fill="#8fcb83" fill-opacity="0.6"/>
<rect x="110.00" y="654.77" width="9.00" height="0.90" fill="#67bc5f" fill-opacity="0.6"/>
<rect x="110.00" y="766.81" width="20.00" height="0.90" fill="#67bc5f" fill-opacity="0.6"/>
<rect x="110.00" y="693.76" width="30.00" height="0.90" fill="#67bc5f" fill-opacity="0.6"/>
<rect x="110.00" y="744.87" width="9.00" height="0.90" fill="#67bc5f" fill-opacity="0.6"/>
<rect x="110.00" y="702.43" width="20.00" height="0.90" fill="#8fcb83" fill-opacity="0.6"/>
<rect x="110.00" y="663.51" width="30.00" height="0.90" fill="#8fcb83" fill-opacity="0.6"/>
<rect x="110.00" y="757.06" width="9.00" height="0.90" fill="#8fcb83" fill-opacity="0.6"/>
<rect x="110.00" y="692.15" width="30.00" height="0.90" fill="#8fcb83" fill-opacity="0.6"/>
<rect x="110.00" y="712.85" width="20.00" height="0.90" fill="#8fcb83" fill-opacity="0.6"/>
<rect x="110.00" y="753.38" width="30.00" height="0.90" fill="#67bc5f" fill-opacity="0.6"/>
<rect x="110.00" y="688.54" width="20.00" height="0.90" fill="#67bc5f" fill-opacity="0.6"/>
<rect x="110.00" y="755.37" width="20.00" height="0.90" fill="#67bc5f" fill-opacity="0.6"/>
<rect x="110.00" y="723.71" width="9.00" height="0.90" fill="#67bc5f" fill-opacity="0.6"/>
<rect x="110.00" y="681.08" width="20.00" height="0.90" fill="#67bc5f" fill-opacity="0.6"/>
<rect x="110.00" y="733.03" width="9.00" height="0.90" fill="#8fcb83" fill-opacity="0.6"/>
<rect x="110.00" y="759.86" width="30.00" height="0.90" fill="#8fcb83" fill-opacity="0.6"/>
<rect x="110.00" y="697.33" width="20.00" height="0.90" fill="#8fcb83" fill-opacity="0.6"/>
<rect x="110.00" y="713.79" width="9.00" height="0.90" fill="#8fcb83" fill-opacity="0.6"/>
<rect x="110.00" y="754.60" width="9.00" height="0.90" fill="#67bc5f" fill-opacity="0.6"/>
<rect x="110.00" y="741.40" width="20.00" height="0.90" fill="#67bc5f" fill-opacity="0.6"/>
<rect x="205.00" y="768.89" width="10.00" height="0.90" fill="#007a3d" fill-opacity="0.6"/>
<rect x="195.00" y="661.65" width="20.00" height="0.90" fill="#b7cba2" fill-opacity="0.6"/>
<rect x="195.00" y="682.17" width="20.00" height="0.90" fill="#007a3d" fill-opacity="0.6"/>
<rect x="195.00" y="722.75" width="20.00" height="0.90" fill="#3f9f52" fill-opacity="0.6"/>
<rect x="185.00" y="729.80" width="30.00" height="0.90" fill="#3f9f52" fill-opacity="0.6"/>
<rect x="205.00" y="713.00" width="10.00" height="0.90" fill="#007a3d" fill-opacity="0.6"/>
<rect x="185.00" y="696.01" width="30.00" height="0.90" fill="#3f9f52" fill-opacity="0.6"/>
<rect x="195.00" y="703.35" width="20.00" height="0.90" fill="#007a3d" fill-opacity="0.6"/>
<rect x="205.00" y="680.27" width="10.00" height="0.90" fill="#007a3d" fill-opacity="0.6"/>
<rect x="195.00" y="691.23" width="20.00" height="0.90" fill="#b7cba2" fill-opacity="0.6"/>
<rect x="195.00" y="774.14" width="20.00" height="0.90" fill="#3f9f52" fill-opacity="0.6"/>
<rect x="185.00" y="749.28" width="30.00" height="0.90" fill="#b7cba2" fill-opacity="0.6"/>
<rect x="175.00" y="695.75" width="40.00" height="0.90" fill="#007a3d" fill-opacity="0.6"/>
<rect x="175.00" y="768.75" width="40.00" height="0.90" fill="#3f9f52" fill-opacity="0.6"/>
<rect x="195.00" y="731.82" width="20.00" height="0.90" fill="#3f9f52" fill-opacity="0.6"/>
<rect x="175.00" y="685.56" width="40.00" height="0.90" fill="#b7cba2" fill-opacity="0.6"/>
<rect x="175.00" y="732.65" width="40.00" height="0.90" fill="#3f9f52" fill-opacity="0.6"/>
<rect x="175.00" y="694.38" width="40.00" height="0.90" fill="#3f9f52" fill-opacity="0.6"/>
<line x1="161.5" y1="651.2" x2="161.5" y2="851.0" stroke="#6a6a6a" stroke-width="1.1" stroke-dasharray="5 3"/>
<rect x="236.20" y="651.20" width="51.80" height="124.40" fill="#67bc5f" />
<rect x="288.00" y="651.20" width="53.90" height="24.80" fill="#007a3d" />
<rect x="288.00" y="676.00" width="53.90" height="99.60" fill="#b7cba2" />
<rect x="236.20" y="680.49" width="9.00" height="0.90" fill="#4ea84e" fill-opacity="0.6"/>
<rect x="236.20" y="763.95" width="40.00" height="0.90" fill="#8fcb83" fill-opacity="0.6"/>
<rect x="236.20" y="725.75" width="40.00" height="0.90" fill="#4ea84e" fill-opacity="0.6"/>
<rect x="236.20" y="719.00" width="9.00" height="0.90" fill="#b7d27a" fill-opacity="0.6"/>
<rect x="236.20" y="717.79" width="40.00" height="0.90" fill="#b7d27a" fill-opacity="0.6"/>
<rect x="236.20" y="729.87" width="9.00" height="0.90" fill="#9fd08f" fill-opacity="0.6"/>
<rect x="236.20" y="729.35" width="40.00" height="0.90" fill="#8fcb83" fill-opacity="0.6"/>
<rect x="236.20" y="733.85" width="9.00" height="0.90" fill="#9fd08f" fill-opacity="0.6"/>
<rect x="236.20" y="744.54" width="9.00" height="0.90" fill="#4ea84e" fill-opacity="0.6"/>
<rect x="236.20" y="747.23" width="20.00" height="0.90" fill="#b7d27a" fill-opacity="0.6"/>
<rect x="236.20" y="724.41" width="40.00" height="0.90" fill="#b7d27a" fill-opacity="0.6"/>
<rect x="236.20" y="699.82" width="40.00" height="0.90" fill="#9fd08f" fill-opacity="0.6"/>
<rect x="236.20" y="759.39" width="9.00" height="0.90" fill="#8fcb83" fill-opacity="0.6"/>
<rect x="236.20" y="667.94" width="9.00" height="0.90" fill="#4ea84e" fill-opacity="0.6"/>
<rect x="236.20" y="770.05" width="40.00" height="0.90" fill="#4ea84e" fill-opacity="0.6"/>
<rect x="236.20" y="703.04" width="40.00" height="0.90" fill="#4ea84e" fill-opacity="0.6"/>
<rect x="236.20" y="716.95" width="40.00" height="0.90" fill="#9fd08f" fill-opacity="0.6"/>
<rect x="236.20" y="762.51" width="9.00" height="0.90" fill="#4ea84e" fill-opacity="0.6"/>
<rect x="236.20" y="773.19" width="9.00" height="0.90" fill="#4ea84e" fill-opacity="0.6"/>
<rect x="236.20" y="769.95" width="9.00" height="0.90" fill="#9fd08f" fill-opacity="0.6"/>
<rect x="236.20" y="729.12" width="20.00" height="0.90" fill="#4ea84e" fill-opacity="0.6"/>
<rect x="236.20" y="666.52" width="40.00" height="0.90" fill="#b7d27a" fill-opacity="0.6"/>
<rect x="321.90" y="699.20" width="20.00" height="0.90" fill="#e0c85a" fill-opacity="0.6"/>
<rect x="321.90" y="723.07" width="20.00" height="0.90" fill="#67bc5f" fill-opacity="0.6"/>
<rect x="301.90" y="677.95" width="40.00" height="0.90" fill="#67bc5f" fill-opacity="0.6"/>
<rect x="301.90" y="697.82" width="40.00" height="0.90" fill="#67bc5f" fill-opacity="0.6"/>
<rect x="321.90" y="752.65" width="20.00" height="0.90" fill="#67bc5f" fill-opacity="0.6"/>
<rect x="321.90" y="697.08" width="20.00" height="0.90" fill="#67bc5f" fill-opacity="0.6"/>
<rect x="311.90" y="754.68" width="30.00" height="0.90" fill="#8fc483" fill-opacity="0.6"/>
<rect x="301.90" y="706.46" width="40.00" height="0.90" fill="#67bc5f" fill-opacity="0.6"/>
<rect x="301.90" y="759.04" width="40.00" height="0.90" fill="#e0c85a" fill-opacity="0.6"/>
<rect x="311.90" y="725.74" width="30.00" height="0.90" fill="#8fc483" fill-opacity="0.6"/>
<rect x="321.90" y="722.55" width="20.00" height="0.90" fill="#67bc5f" fill-opacity="0.6"/>
<rect x="301.90" y="676.71" width="40.00" height="0.90" fill="#67bc5f" fill-opacity="0.6"/>
<rect x="311.90" y="759.36" width="30.00" height="0.90" fill="#e0c85a" fill-opacity="0.6"/>
<rect x="301.90" y="717.65" width="40.00" height="0.90" fill="#e0c85a" fill-opacity="0.6"/>
<rect x="311.90" y="720.37" width="30.00" height="0.90" fill="#67bc5f" fill-opacity="0.6"/>
<rect x="321.90" y="701.52" width="20.00" height="0.90" fill="#67bc5f" fill-opacity="0.6"/>
<rect x="301.90" y="680.55" width="40.00" height="0.90" fill="#e0c85a" fill-opacity="0.6"/>
<rect x="311.90" y="744.90" width="30.00" height="0.90" fill="#8fc483" fill-opacity="0.6"/>
<rect x="311.90" y="682.53" width="30.00" height="0.90" fill="#e0c85a" fill-opacity="0.6"/>
<rect x="301.90" y="703.16" width="40.00" height="0.90" fill="#e0c85a" fill-opacity="0.6"/>
<rect x="301.90" y="749.42" width="40.00" height="0.90" fill="#8fc483" fill-opacity="0.6"/>
<rect x="321.90" y="764.89" width="20.00" height="0.90" fill="#67bc5f" fill-opacity="0.6"/>
<rect x="301.90" y="745.61" width="40.00" height="0.90" fill="#8fc483" fill-opacity="0.6"/>
<rect x="311.90" y="688.01" width="30.00" height="0.90" fill="#67bc5f" fill-opacity="0.6"/>
<rect x="321.90" y="721.12" width="20.00" height="0.90" fill="#67bc5f" fill-opacity="0.6"/>
<rect x="301.90" y="744.54" width="40.00" height="0.90" fill="#67bc5f" fill-opacity="0.6"/>
<rect x="301.90" y="677.79" width="40.00" height="0.90" fill="#67bc5f" fill-opacity="0.6"/>
<rect x="291.90" y="770.96" width="50.00" height="0.90" fill="#67bc5f" fill-opacity="0.6"/>
<rect x="311.90" y="704.84" width="30.00" height="0.90" fill="#e0c85a" fill-opacity="0.6"/>
<rect x="301.90" y="704.70" width="40.00" height="0.90" fill="#e0c85a" fill-opacity="0.6"/>
<rect x="301.90" y="665.84" width="40.00" height="0.90" fill="#159448" fill-opacity="0.6"/>
<rect x="301.90" y="669.89" width="40.00" height="0.90" fill="#159448" fill-opacity="0.6"/>
<rect x="321.90" y="670.95" width="20.00" height="0.90" fill="#159448" fill-opacity="0.6"/>
<rect x="321.90" y="672.37" width="20.00" height="0.90" fill="#159448" fill-opacity="0.6"/>
<rect x="321.90" y="662.22" width="20.00" height="0.90" fill="#159448" fill-opacity="0.6"/>
<rect x="301.90" y="663.98" width="40.00" height="0.90" fill="#159448" fill-opacity="0.6"/>
<rect x="321.90" y="651.51" width="20.00" height="0.90" fill="#159448" fill-opacity="0.6"/>
<rect x="311.90" y="657.77" width="30.00" height="0.90" fill="#159448" fill-opacity="0.6"/>
<line x1="288.0" y1="651.2" x2="288.0" y2="851.0" stroke="#6a6a6a" stroke-width="1.1" stroke-dasharray="5 3"/>
<rect x="364.00" y="651.20" width="52.50" height="124.40" fill="#b7cba2" />
<rect x="416.50" y="651.20" width="53.50" height="71.10" fill="#67bc5f" />
<rect x="416.50" y="722.30" width="53.50" height="53.30" fill="#fcbc14" />
<rect x="364.00" y="699.20" width="9.00" height="0.90" fill="#9fcd8f" fill-opacity="0.6"/>
<rect x="364.00" y="697.31" width="9.00" height="0.90" fill="#d9c66a" fill-opacity="0.6"/>
<rect x="364.00" y="660.01" width="42.00" height="0.90" fill="#e2c25a" fill-opacity="0.6"/>
<rect x="364.00" y="670.52" width="9.00" height="0.90" fill="#e2c25a" fill-opacity="0.6"/>
<rect x="364.00" y="680.77" width="20.00" height="0.90" fill="#9fcd8f" fill-opacity="0.6"/>
<rect x="364.00" y="706.29" width="9.00" height="0.90" fill="#8fcb83" fill-opacity="0.6"/>
<rect x="364.00" y="685.29" width="32.00" height="0.90" fill="#d9c66a" fill-opacity="0.6"/>
<rect x="364.00" y="702.28" width="32.00" height="0.90" fill="#d9c66a" fill-opacity="0.6"/>
<rect x="364.00" y="673.11" width="42.00" height="0.90" fill="#e2c25a" fill-opacity="0.6"/>
<rect x="364.00" y="678.14" width="9.00" height="0.90" fill="#8fcb83" fill-opacity="0.6"/>
<rect x="364.00" y="693.60" width="32.00" height="0.90" fill="#d9c66a" fill-opacity="0.6"/>
<rect x="364.00" y="708.76" width="20.00" height="0.90" fill="#e2c25a" fill-opacity="0.6"/>
<rect x="364.00" y="680.65" width="20.00" height="0.90" fill="#d9c66a" fill-opacity="0.6"/>
<rect x="364.00" y="689.53" width="20.00" height="0.90" fill="#9fcd8f" fill-opacity="0.6"/>
<rect x="364.00" y="669.61" width="9.00" height="0.90" fill="#d9c66a" fill-opacity="0.6"/>
<rect x="364.00" y="681.46" width="20.00" height="0.90" fill="#d9c66a" fill-opacity="0.6"/>
<rect x="364.00" y="688.00" width="32.00" height="0.90" fill="#e2c25a" fill-opacity="0.6"/>
<rect x="364.00" y="694.70" width="42.00" height="0.90" fill="#9fcd8f" fill-opacity="0.6"/>
<rect x="364.00" y="664.68" width="20.00" height="0.90" fill="#d9c66a" fill-opacity="0.6"/>
<rect x="364.00" y="662.62" width="20.00" height="0.90" fill="#d9c66a" fill-opacity="0.6"/>
<rect x="364.00" y="690.40" width="32.00" height="0.90" fill="#e2c25a" fill-opacity="0.6"/>
<rect x="364.00" y="674.03" width="42.00" height="0.90" fill="#e2c25a" fill-opacity="0.6"/>
<rect x="364.00" y="751.11" width="9.00" height="0.90" fill="#a8c796" fill-opacity="0.6"/>
<rect x="364.00" y="762.33" width="9.00" height="0.90" fill="#a8c796" fill-opacity="0.6"/>
<rect x="364.00" y="752.54" width="9.00" height="0.90" fill="#a8c796" fill-opacity="0.6"/>
<rect x="364.00" y="741.29" width="40.00" height="0.90" fill="#a8c796" fill-opacity="0.6"/>
<rect x="440.00" y="666.96" width="30.00" height="0.90" fill="#007a3d" fill-opacity="0.6"/>
<rect x="460.00" y="664.62" width="10.00" height="0.90" fill="#007a3d" fill-opacity="0.6"/>
<rect x="425.00" y="660.71" width="45.00" height="0.90" fill="#007a3d" fill-opacity="0.6"/>
<rect x="460.00" y="679.05" width="10.00" height="0.90" fill="#4faa50" fill-opacity="0.6"/>
<rect x="440.00" y="685.07" width="30.00" height="0.90" fill="#4faa50" fill-opacity="0.6"/>
<rect x="440.00" y="691.03" width="30.00" height="0.90" fill="#007a3d" fill-opacity="0.6"/>
<rect x="460.00" y="684.91" width="10.00" height="0.90" fill="#86c77a" fill-opacity="0.6"/>
<rect x="440.00" y="669.74" width="30.00" height="0.90" fill="#4faa50" fill-opacity="0.6"/>
<rect x="440.00" y="713.89" width="30.00" height="0.90" fill="#86c77a" fill-opacity="0.6"/>
<rect x="440.00" y="659.10" width="30.00" height="0.90" fill="#007a3d" fill-opacity="0.6"/>
<rect x="460.00" y="720.12" width="10.00" height="0.90" fill="#4faa50" fill-opacity="0.6"/>
<rect x="440.00" y="694.30" width="30.00" height="0.90" fill="#007a3d" fill-opacity="0.6"/>
<rect x="440.00" y="697.13" width="30.00" height="0.90" fill="#007a3d" fill-opacity="0.6"/>
<rect x="440.00" y="699.25" width="30.00" height="0.90" fill="#86c77a" fill-opacity="0.6"/>
<line x1="416.5" y1="651.2" x2="416.5" y2="851.0" stroke="#6a6a6a" stroke-width="1.1" stroke-dasharray="5 3"/>
<rect x="492.00" y="651.20" width="51.50" height="124.40" fill="#fcbc14" />
<rect x="543.50" y="651.20" width="53.50" height="101.80" fill="#b7cba2" />
<rect x="543.50" y="753.00" width="53.50" height="22.60" fill="#67bc5f" />
<rect x="559.00" y="697.73" width="38.00" height="0.90" fill="#86c27a" fill-opacity="0.6"/>
<rect x="587.00" y="665.12" width="10.00" height="0.90" fill="#86c27a" fill-opacity="0.6"/>
<rect x="587.00" y="701.73" width="10.00" height="0.90" fill="#86c27a" fill-opacity="0.6"/>
<rect x="587.00" y="706.90" width="10.00" height="0.90" fill="#9dc98c" fill-opacity="0.6"/>
<rect x="552.00" y="689.29" width="45.00" height="0.90" fill="#9dc98c" fill-opacity="0.6"/>
<rect x="572.00" y="693.67" width="25.00" height="0.90" fill="#67bc5f" fill-opacity="0.6"/>
<rect x="572.00" y="656.36" width="25.00" height="0.90" fill="#9dc98c" fill-opacity="0.6"/>
<rect x="587.00" y="738.81" width="10.00" height="0.90" fill="#9dc98c" fill-opacity="0.6"/>
<rect x="587.00" y="689.76" width="10.00" height="0.90" fill="#86c27a" fill-opacity="0.6"/>
<rect x="572.00" y="671.80" width="25.00" height="0.90" fill="#9dc98c" fill-opacity="0.6"/>
<rect x="587.00" y="730.90" width="10.00" height="0.90" fill="#86c27a" fill-opacity="0.6"/>
<rect x="552.00" y="742.79" width="45.00" height="0.90" fill="#86c27a" fill-opacity="0.6"/>
<rect x="587.00" y="685.54" width="10.00" height="0.90" fill="#67bc5f" fill-opacity="0.6"/>
<rect x="587.00" y="722.43" width="10.00" height="0.90" fill="#86c27a" fill-opacity="0.6"/>
<rect x="552.00" y="656.71" width="45.00" height="0.90" fill="#86c27a" fill-opacity="0.6"/>
<rect x="572.00" y="665.18" width="25.00" height="0.90" fill="#86c27a" fill-opacity="0.6"/>
<rect x="587.00" y="725.19" width="10.00" height="0.90" fill="#9dc98c" fill-opacity="0.6"/>
<rect x="572.00" y="651.59" width="25.00" height="0.90" fill="#67bc5f" fill-opacity="0.6"/>
<rect x="587.00" y="684.39" width="10.00" height="0.90" fill="#67bc5f" fill-opacity="0.6"/>
<rect x="587.00" y="705.45" width="10.00" height="0.90" fill="#9dc98c" fill-opacity="0.6"/>
<rect x="552.00" y="659.73" width="45.00" height="0.90" fill="#9dc98c" fill-opacity="0.6"/>
<rect x="552.00" y="743.75" width="45.00" height="0.90" fill="#67bc5f" fill-opacity="0.6"/>
<rect x="587.00" y="765.17" width="10.00" height="0.90" fill="#8fcb83" fill-opacity="0.6"/>
<rect x="587.00" y="765.31" width="10.00" height="0.90" fill="#8fcb83" fill-opacity="0.6"/>
<rect x="587.00" y="770.32" width="10.00" height="0.90" fill="#8fcb83" fill-opacity="0.6"/>
<line x1="543.5" y1="651.2" x2="543.5" y2="851.0" stroke="#6a6a6a" stroke-width="1.1" stroke-dasharray="5 3"/>
<path d="M110.0,851.1 L214.6,851.1" fill="none" stroke="#fcbc14" stroke-width="1.0" stroke-linejoin="round"/>
<path d="M110.0,832.0 L120.3,840.2 L130.6,845.6 L140.9,850.0 L151.2,851.1 L161.5,851.1 L172.1,797.0 L182.7,797.6 L193.4,799.2 L204.0,800.9 L214.6,803.6" fill="none" stroke="#67bc5f" stroke-width="1.1" stroke-linejoin="round"/>
<path d="M110.0,815.6 L120.3,807.4 L130.6,802.0 L140.9,798.1 L151.2,796.5 L161.5,796.5 L172.1,851.1 L182.7,850.6 L193.4,849.5 L204.0,848.4 L214.6,846.2" fill="none" stroke="#007a3d" stroke-width="1.2" stroke-linejoin="round"/>
<line x1="110.0" y1="796.5" x2="110.0" y2="851.1" stroke="#3a3a3a" stroke-width="1" />
<line x1="110.0" y1="851.1" x2="214.6" y2="851.1" stroke="#3a3a3a" stroke-width="1" />
<line x1="110.0" y1="851.1" x2="112.5" y2="851.1" stroke="#3a3a3a" stroke-width="1" />
<line x1="110.0" y1="823.8" x2="112.5" y2="823.8" stroke="#3a3a3a" stroke-width="1" />
<line x1="110.0" y1="796.5" x2="112.5" y2="796.5" stroke="#3a3a3a" stroke-width="1" />
<text x="110.0" y="867.6" font-size="15" text-anchor="middle" fill="#231f20" >-5</text>
<text x="161.5" y="867.6" font-size="15" text-anchor="middle" fill="#231f20" >0</text>
<text x="213.0" y="867.6" font-size="15" text-anchor="middle" fill="#231f20" >5</text>
<path d="M236.2,851.1 L341.5,851.1" fill="none" stroke="#fcbc14" stroke-width="1.0" stroke-linejoin="round"/>
<path d="M236.2,846.7 L256.7,850.0 L277.2,851.1 L287.4,851.1 L298.2,807.4 L309.0,808.5 L319.9,809.6 L330.7,811.2 L341.5,812.9" fill="none" stroke="#b7cba2" stroke-width="1.0" stroke-linejoin="round"/>
<path d="M236.2,802.0 L246.4,799.8 L256.7,798.1 L266.9,797.6 L277.2,797.0 L287.4,796.5 L300.4,851.1 L309.0,850.0 L319.9,848.4 L330.7,846.7 L341.5,844.5" fill="none" stroke="#67bc5f" stroke-width="1.1" stroke-linejoin="round"/>
<path d="M236.2,850.0 L256.7,850.6 L287.4,851.1 L298.2,840.2 L309.0,840.2 L319.9,840.7 L330.7,841.3 L341.5,841.8" fill="none" stroke="#007a3d" stroke-width="1.1" stroke-linejoin="round"/>
<line x1="236.2" y1="796.5" x2="236.2" y2="851.1" stroke="#3a3a3a" stroke-width="1" />
<line x1="236.2" y1="851.1" x2="341.5" y2="851.1" stroke="#3a3a3a" stroke-width="1" />
<line x1="236.2" y1="851.1" x2="238.7" y2="851.1" stroke="#3a3a3a" stroke-width="1" />
<line x1="236.2" y1="823.8" x2="238.7" y2="823.8" stroke="#3a3a3a" stroke-width="1" />
<line x1="236.2" y1="796.5" x2="238.7" y2="796.5" stroke="#3a3a3a" stroke-width="1" />
<text x="236.2" y="867.6" font-size="15" text-anchor="middle" fill="#231f20" >-5</text>
<text x="287.4" y="867.6" font-size="15" text-anchor="middle" fill="#231f20" >0</text>
<text x="338.6" y="867.6" font-size="15" text-anchor="middle" fill="#231f20" >5</text>
<path d="M364.3,851.1 L469.6,851.1" fill="none" stroke="#007a3d" stroke-width="1.0" stroke-linejoin="round"/>
<path d="M364.3,804.7 L374.7,803.6 L385.2,802.0 L395.6,800.3 L406.1,798.7 L416.5,796.5 L427.1,851.1 L469.6,851.1" fill="none" stroke="#b7cba2" stroke-width="1.0" stroke-linejoin="round"/>
<path d="M364.3,848.4 L385.2,849.5 L416.5,851.1 L427.1,827.6 L437.7,827.6 L469.6,827.6" fill="none" stroke="#fcbc14" stroke-width="1.2" stroke-linejoin="round"/>
<path d="M364.3,845.6 L385.2,848.9 L416.5,851.1 L427.1,820.0 L437.7,820.5 L448.4,821.1 L459.0,821.6 L469.6,822.2" fill="none" stroke="#67bc5f" stroke-width="1.1" stroke-linejoin="round"/>
<line x1="364.3" y1="796.5" x2="364.3" y2="851.1" stroke="#3a3a3a" stroke-width="1" />
<line x1="364.3" y1="851.1" x2="469.6" y2="851.1" stroke="#3a3a3a" stroke-width="1" />
<line x1="364.3" y1="851.1" x2="366.8" y2="851.1" stroke="#3a3a3a" stroke-width="1" />
<line x1="364.3" y1="823.8" x2="366.8" y2="823.8" stroke="#3a3a3a" stroke-width="1" />
<line x1="364.3" y1="796.5" x2="366.8" y2="796.5" stroke="#3a3a3a" stroke-width="1" />
<text x="364.3" y="867.6" font-size="15" text-anchor="middle" fill="#231f20" >-5</text>
<text x="416.5" y="867.6" font-size="15" text-anchor="middle" fill="#231f20" >0</text>
<text x="468.7" y="867.6" font-size="15" text-anchor="middle" fill="#231f20" >5</text>
<path d="M492.2,851.1 L596.6,851.1" fill="none" stroke="#007a3d" stroke-width="1.0" stroke-linejoin="round"/>
<path d="M492.2,851.1 L543.4,851.1 L554.0,807.4 L564.7,809.1 L575.3,810.1 L586.0,811.8 L596.6,812.9" fill="none" stroke="#b7cba2" stroke-width="1.0" stroke-linejoin="round"/>
<path d="M492.2,851.1 L543.4,851.1 L554.0,841.3 L564.7,839.1 L575.3,838.0 L586.0,836.9 L596.6,835.8" fill="none" stroke="#67bc5f" stroke-width="1.1" stroke-linejoin="round"/>
<path d="M492.2,796.5 L543.4,796.5 L554.0,851.1 L596.6,851.1" fill="none" stroke="#fcbc14" stroke-width="1.2" stroke-linejoin="round"/>
<line x1="492.2" y1="796.5" x2="492.2" y2="851.1" stroke="#3a3a3a" stroke-width="1" />
<line x1="492.2" y1="851.1" x2="596.6" y2="851.1" stroke="#3a3a3a" stroke-width="1" />
<line x1="492.2" y1="851.1" x2="494.7" y2="851.1" stroke="#3a3a3a" stroke-width="1" />
<line x1="492.2" y1="823.8" x2="494.7" y2="823.8" stroke="#3a3a3a" stroke-width="1" />
<line x1="492.2" y1="796.5" x2="494.7" y2="796.5" stroke="#3a3a3a" stroke-width="1" />
<text x="492.2" y="867.6" font-size="15" text-anchor="middle" fill="#231f20" >-5</text>
<text x="543.4" y="867.6" font-size="15" text-anchor="middle" fill="#231f20" >0</text>
<text x="594.6" y="867.6" font-size="15" text-anchor="middle" fill="#231f20" >5</text>
<text x="104.8" y="801.6" font-size="15" text-anchor="end" fill="#231f20" >1</text>
<text x="104.8" y="856.5" font-size="15" text-anchor="end" fill="#231f20" >0</text>
<text x="0" y="0" font-size="17" text-anchor="middle" fill="#231f20" transform="translate(95 821.4) rotate(-90)">Prob.</text>
<text x="354.3" y="882.0" font-size="17" text-anchor="middle" fill="#231f20" textLength="57" lengthAdjust="spacingAndGlyphs">Time (s)</text>
<text x="621.5" y="657.8" font-size="21.5" font-weight="bold" fill="#231f20" transform="translate(621.5 657.8) scale(0.8 1) translate(-621.5 -657.8)">H</text>
<rect x="696.00" y="677.60" width="44.10" height="46.30" fill="#000" />
<rect x="739.10" y="677.60" width="43.20" height="46.30" fill="#000" />
<rect x="781.30" y="677.60" width="44.90" height="46.30" fill="#fff" />
<rect x="825.20" y="677.60" width="43.20" height="46.30" fill="#fff" />
<rect x="696.00" y="722.90" width="44.10" height="45.60" fill="#cbcbcb" />
<rect x="739.10" y="722.90" width="43.20" height="45.60" fill="#000" />
<rect x="781.30" y="722.90" width="44.90" height="45.60" fill="#757575" />
<rect x="825.20" y="722.90" width="43.20" height="45.60" fill="#fff" />
<rect x="696.00" y="767.50" width="44.10" height="46.20" fill="#fff" />
<rect x="739.10" y="767.50" width="43.20" height="46.20" fill="#9a9a9a" />
<rect x="781.30" y="767.50" width="44.90" height="46.20" fill="#000" />
<rect x="825.20" y="767.50" width="43.20" height="46.20" fill="#a1a1a1" />
<rect x="696.00" y="812.70" width="44.10" height="44.20" fill="#fff" />
<rect x="739.10" y="812.70" width="43.20" height="44.20" fill="#f9f9f9" />
<rect x="781.30" y="812.70" width="44.90" height="44.20" fill="#e5e5e5" />
<rect x="825.20" y="812.70" width="43.20" height="44.20" fill="#000" />
<rect x="696.00" y="677.60" width="172.40" height="179.30" fill="none" stroke="#c8c8c8" stroke-width="1.2"/>
<path d="M696,677.6 H781.3 V722.9 H825.2 V767.5 H868.4 V856.9 H739.1 V767.5 H696 Z" fill="none" stroke="#1a1a1a" stroke-width="1.3" />
<line x1="739.1" y1="722.9" x2="739.1" y2="767.5" stroke="#1a1a1a" stroke-width="1.3" />
<line x1="696.0" y1="722.9" x2="739.1" y2="722.9" stroke="#1a1a1a" stroke-width="1.3" />
<line x1="739.1" y1="812.7" x2="868.4" y2="812.7" stroke="#1a1a1a" stroke-width="0.6" />
<line x1="697.0" y1="678.6" x2="867.4" y2="855.9" stroke="#fff" stroke-width="1.4" stroke-dasharray="5.5 4"/>
<text x="715.0" y="672.3" font-size="16.8" text-anchor="middle" fill="#231f20" >LM</text>
<text x="761.0" y="672.3" font-size="16.8" text-anchor="middle" fill="#231f20" >MV</text>
<text x="804.9" y="672.3" font-size="16.8" text-anchor="middle" fill="#231f20" >QW</text>
<text x="851.3" y="672.3" font-size="16.8" text-anchor="middle" fill="#231f20" >SL</text>
<text x="677.1" y="703.3" font-size="16.8" text-anchor="middle" fill="#231f20" >LM</text>
<text x="677.1" y="750.8" font-size="16.8" text-anchor="middle" fill="#231f20" >MV</text>
<text x="677.5" y="797.6" font-size="16.8" text-anchor="middle" fill="#231f20" >QW</text>
<text x="677.2" y="846.6" font-size="16.8" text-anchor="middle" fill="#231f20" >SL</text>
<path d="M688.5,661.5 A7.2,7.2 0 1,0 690,671.5" fill="none" stroke="#222" stroke-width="1" />
<polygon points="692.6,660.5 686.8,662.2 691.8,666.3" fill="#222" />
<text x="0" y="0" font-size="18.4" text-anchor="middle" fill="#231f20" transform="translate(651.3 770.9) rotate(-90)">Transition probability</text>
<defs><linearGradient id="gry" x1="0" y1="1" x2="0" y2="0"><stop offset="0" stop-color="#fafafa"/><stop offset="0.3" stop-color="#a8a8a8"/><stop offset="0.62" stop-color="#555"/><stop offset="0.75" stop-color="#202020"/><stop offset="1" stop-color="#202020"/></linearGradient></defs>
<rect x="885.30" y="677.30" width="18.00" height="177.50" fill="url(#gry)" stroke="#555" stroke-width="0.8"/>
<line x1="903.3" y1="720.5" x2="906.0" y2="720.5" stroke="#555" stroke-width="1" />
<text x="907.9" y="726.3" font-size="15" text-anchor="start" fill="#231f20" >0.2</text>
<text x="911.3" y="855.8" font-size="15" text-anchor="start" fill="#231f20" >0</text>
<circle cx="978.2" cy="670.1" r="18.8" fill="#007a3d"/>
<text x="978.2" y="677.5" font-size="17.5" text-anchor="middle" fill="#fff" >LM</text>
<path d="M996.6,664.6 A9.3,9.3 0 1,1 996.6,675.6" fill="none" stroke="#222" stroke-width="1.1" />
<circle cx="978.2" cy="730.5" r="18.8" fill="#67bc5f"/>
<text x="978.2" y="737.9" font-size="17.5" text-anchor="middle" fill="#fff" >MV</text>
<path d="M996.6,725.0 A9.3,9.3 0 1,1 996.6,736.0" fill="none" stroke="#222" stroke-width="1.1" />
<circle cx="978.2" cy="790.7" r="18.8" fill="#b7cba2"/>
<text x="978.2" y="798.1" font-size="17.5" text-anchor="middle" fill="#fff" >QW</text>
<path d="M996.6,785.2 A9.3,9.3 0 1,1 996.6,796.2" fill="none" stroke="#222" stroke-width="1.1" />
<circle cx="978.2" cy="851.1" r="18.8" fill="#fcbc14"/>
<text x="978.2" y="858.5" font-size="17.5" text-anchor="middle" fill="#fff" >SL</text>
<path d="M996.6,845.6 A9.3,9.3 0 1,1 996.6,856.6" fill="none" stroke="#222" stroke-width="1.1" />
<path d="M973.3,712.0 C966,704.5 966,696.1 972.5,689.5" fill="none" stroke="#1a1a1a" stroke-width="2" />
<polygon points="973.5,688.7 967.5,691.7 972.2,695.1" fill="#1a1a1a" />
<path d="M983.3,688.6 C990.5,696.1 990.5,704.5 984,711.1" fill="none" stroke="#1a1a1a" stroke-width="2" />
<polygon points="983.0,711.9 989.0,708.9 984.3,705.5" fill="#1a1a1a" />
<path d="M973.3,772.4 C966,764.9 966,756.5 972.5,749.9" fill="none" stroke="#1a1a1a" stroke-width="2" />
<polygon points="973.5,749.1 967.5,752.1 972.2,755.5" fill="#1a1a1a" />
<path d="M983.3,749.0 C990.5,756.5 990.5,764.9 984,771.5" fill="none" stroke="#1a1a1a" stroke-width="2" />
<polygon points="983.0,772.3 989.0,769.3 984.3,765.9" fill="#1a1a1a" />
<path d="M973.3,832.6 C966,825.1 966,816.7 972.5,810.1" fill="none" stroke="#1a1a1a" stroke-width="2" />
<polygon points="973.5,809.3 967.5,812.3 972.2,815.7" fill="#1a1a1a" />
<path d="M983.3,809.2 C990.5,816.7 990.5,825.1 984,831.7" fill="none" stroke="#1a1a1a" stroke-width="2" />
<polygon points="983.0,832.5 989.0,829.5 984.3,826.1" fill="#1a1a1a" />
<path d="M960,852.5 C946,840 943,790 947,765 C949,750 952,742 958,735.5" fill="none" stroke="#1a1a1a" stroke-width="1" />
<polygon points="959.6,733.8 953.7,736.7 957.8,739.6" fill="#1a1a1a" />
<text x="18.6" y="926.9" font-size="16.3" fill="#2e2c2c" textLength="525.6" lengthAdjust="spacingAndGlyphs"><tspan font-weight="bold">Fig. 1. Automated analysis of mouse home-cage behavior reveals nonrandom</tspan></text>
<text x="18.6" y="948.5" font-size="16.3" fill="#2e2c2c" textLength="500.6" lengthAdjust="spacingAndGlyphs"><tspan font-weight="bold">state transitions.</tspan> (<tspan font-weight="bold">A</tspan>) Schematic showing EEG, EMG, and video recordings</text>
<text x="18.6" y="970.1" font-size="16.3" fill="#2e2c2c" textLength="529.3" lengthAdjust="spacingAndGlyphs">of freely moving mice in their home cages. (<tspan font-weight="bold">B</tspan>) Automated image segmentation.</text>
<text x="18.6" y="991.7" font-size="16.3" fill="#2e2c2c" textLength="501.7" lengthAdjust="spacingAndGlyphs">(<tspan font-weight="bold">C</tspan>) Definition of translation (red arrow) and total movement (total area in</text>
<text x="18.6" y="1013.3" font-size="16.3" fill="#2e2c2c" textLength="510.6" lengthAdjust="spacingAndGlyphs">blue). Black dots indicate the centroid of the segmented area. (<tspan font-weight="bold">D</tspan>) Example</text>
<text x="18.6" y="1034.9" font-size="16.3" fill="#2e2c2c" textLength="529.3" lengthAdjust="spacingAndGlyphs">recording showing translation, total movement, EEG spectrogram, and EMG trace.</text>
<text x="18.6" y="1056.5" font-size="16.3" fill="#2e2c2c" textLength="512.4" lengthAdjust="spacingAndGlyphs">Freq., frequency. (<tspan font-weight="bold">E</tspan>) Top, scatter plot for translation and total movement.</text>
<text x="18.6" y="1078.1" font-size="16.3" fill="#2e2c2c" textLength="529.3" lengthAdjust="spacingAndGlyphs">Each dot represents data in a 2.5-s bin in (D). The three clusters correspond</text>
<text x="18.6" y="1099.7" font-size="16.3" fill="#2e2c2c" textLength="511.5" lengthAdjust="spacingAndGlyphs">to LM, MV, and immobile states (gray box). Bottom, scatter plot for EEG delta</text>
<text x="573.3" y="926.9" font-size="16.3" fill="#2e2c2c" textLength="491.4" lengthAdjust="spacingAndGlyphs">power (1 to 4 Hz) and EMG total power during the immobile state. The two</text>
<text x="573.3" y="948.5" font-size="16.3" fill="#2e2c2c" textLength="514.9" lengthAdjust="spacingAndGlyphs">clusters correspond to QW and SL. Classified states are color-coded. Filled and</text>
<text x="573.3" y="970.1" font-size="16.3" fill="#2e2c2c" textLength="527.4" lengthAdjust="spacingAndGlyphs">open yellow, non-REM and REM sleep, respectively. a.u., arbitrary units. (<tspan font-weight="bold">F</tspan>) Mean</text>
<text x="573.3" y="991.7" font-size="16.3" fill="#2e2c2c" textLength="528.9" lengthAdjust="spacingAndGlyphs">EEG delta power and EMG power during LM, MV, QW, and SL states (<tspan font-style="italic">n</tspan> = 9 mice).</text>
<text x="573.3" y="1013.3" font-size="16.3" fill="#2e2c2c" textLength="520.9" lengthAdjust="spacingAndGlyphs">EEG delta and EMG power at different states were normalized by EEG delta and</text>
<text x="573.3" y="1034.9" font-size="16.3" fill="#2e2c2c" textLength="522.2" lengthAdjust="spacingAndGlyphs">EMG power in the LM state, respectively. Error bar indicates ± SEM. (<tspan font-weight="bold">G</tspan>) Top, all</text>
<text x="573.3" y="1056.5" font-size="16.3" fill="#2e2c2c" textLength="528.9" lengthAdjust="spacingAndGlyphs">transitions from each state. T = 0, time of transition. Bottom, probability (Prob.) of</text>
<text x="573.3" y="1078.1" font-size="16.3" fill="#2e2c2c" textLength="521.4" lengthAdjust="spacingAndGlyphs">each state before and after transition. (<tspan font-weight="bold">H</tspan>) Left, probability of transition between</text>
<text x="573.3" y="1099.7" font-size="16.3" fill="#2e2c2c" textLength="395.1" lengthAdjust="spacingAndGlyphs">each pair of states. Right, summary of all natural transitions.</text>
</svg>
</body></html>
